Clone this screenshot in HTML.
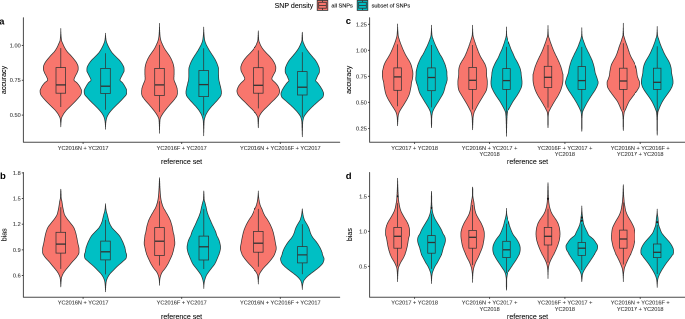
<!DOCTYPE html>
<html><head><meta charset="utf-8"><style>
html,body{margin:0;padding:0;background:#fff;}
#outer{width:685px;height:319px;overflow:hidden;position:relative;background:#fff;}
#wrap{width:1370px;height:638px;transform:scale(0.5);transform-origin:0 0;will-change:transform;}
svg{display:block;font-family:"Liberation Sans",sans-serif;}
</style></head><body>
<div id="outer"><div id="wrap"><svg width="1370" height="638" viewBox="0 0 685 319" font-family="Liberation Sans, sans-serif">
<path d="M23.40,17.80 V142.30 H339.70" fill="none" stroke="#4a4a4a" stroke-width="1.0" stroke-linecap="round" stroke-linejoin="round"/>
<line x1="21.80" y1="45.40" x2="23.40" y2="45.40" stroke="#333" stroke-width="0.9"/>
<text x="20.70" y="47.35" font-size="5.60" text-anchor="end" fill="#3a3a3a" stroke="#3a3a3a" stroke-width="0.10" font-weight="normal" >1.00</text>
<line x1="21.80" y1="80.25" x2="23.40" y2="80.25" stroke="#333" stroke-width="0.9"/>
<text x="20.70" y="82.20" font-size="5.60" text-anchor="end" fill="#3a3a3a" stroke="#3a3a3a" stroke-width="0.10" font-weight="normal" >0.75</text>
<line x1="21.80" y1="115.10" x2="23.40" y2="115.10" stroke="#333" stroke-width="0.9"/>
<text x="20.70" y="117.05" font-size="5.60" text-anchor="end" fill="#3a3a3a" stroke="#3a3a3a" stroke-width="0.10" font-weight="normal" >0.50</text>
<line x1="83.10" y1="142.30" x2="83.10" y2="143.90" stroke="#333" stroke-width="0.9"/>
<text x="83.10" y="149.80" font-size="5.60" text-anchor="middle" fill="#3a3a3a" stroke="#3a3a3a" stroke-width="0.10" font-weight="normal" >YC2016N + YC2017</text>
<line x1="181.70" y1="142.30" x2="181.70" y2="143.90" stroke="#333" stroke-width="0.9"/>
<text x="181.70" y="149.80" font-size="5.60" text-anchor="middle" fill="#3a3a3a" stroke="#3a3a3a" stroke-width="0.10" font-weight="normal" >YC2016F + YC2017</text>
<line x1="280.30" y1="142.30" x2="280.30" y2="143.90" stroke="#333" stroke-width="0.9"/>
<text x="280.30" y="149.80" font-size="5.60" text-anchor="middle" fill="#3a3a3a" stroke="#3a3a3a" stroke-width="0.10" font-weight="normal" >YC2016N + YC2016F + YC2017</text>
<text x="181.55" y="164.20" font-size="7.05" text-anchor="middle" fill="#000" stroke="#000" stroke-width="0.07" font-weight="normal" >reference set</text>
<text x="6.10" y="80.00" font-size="7.05" text-anchor="middle" fill="#000" stroke="#000" stroke-width="0.07" font-weight="normal" transform="rotate(-90 6.10 80.00)">accuracy</text>
<text x="-0.90" y="24.30" font-size="9.50" text-anchor="start" fill="#000" stroke="#000" stroke-width="0.00" font-weight="bold" >a</text>
<path d="M60.8,28.5 L60.8,28.8 L60.8,29.2 L60.8,29.5 L60.8,29.8 L60.8,30.2 L60.8,30.5 L60.8,30.8 L60.8,31.2 L60.8,31.5 L60.9,31.8 L60.9,32.2 L60.9,32.5 L60.9,32.8 L60.9,33.2 L60.9,33.5 L60.9,33.8 L61.0,34.2 L61.0,34.5 L61.0,34.8 L61.0,35.2 L61.0,35.5 L61.1,35.8 L61.1,36.2 L61.1,36.5 L61.1,36.8 L61.2,37.2 L61.2,37.5 L61.2,37.8 L61.3,38.2 L61.3,38.5 L61.3,38.8 L61.4,39.2 L61.4,39.5 L61.4,39.8 L61.5,40.2 L61.5,40.5 L61.6,40.8 L61.7,41.1 L61.8,41.5 L62.0,41.8 L62.1,42.1 L62.3,42.5 L62.4,42.8 L62.6,43.1 L62.7,43.5 L62.9,43.8 L63.0,44.1 L63.1,44.5 L63.3,44.8 L63.4,45.1 L63.6,45.5 L63.7,45.8 L63.9,46.1 L64.0,46.5 L64.2,46.8 L64.4,47.1 L64.5,47.5 L64.7,47.8 L64.9,48.1 L65.1,48.5 L65.3,48.8 L65.5,49.1 L65.7,49.5 L65.9,49.8 L66.1,50.1 L66.4,50.5 L66.6,50.8 L66.8,51.1 L67.1,51.5 L67.3,51.8 L67.6,52.1 L67.9,52.5 L68.2,52.8 L68.6,53.1 L68.9,53.5 L69.2,53.8 L69.5,54.1 L69.9,54.5 L70.2,54.8 L70.5,55.1 L70.8,55.5 L71.1,55.8 L71.4,56.1 L71.7,56.5 L72.0,56.8 L72.2,57.1 L72.5,57.5 L72.8,57.8 L73.1,58.1 L73.4,58.5 L73.6,58.8 L73.9,59.1 L74.2,59.5 L74.4,59.8 L74.7,60.1 L75.0,60.5 L75.2,60.8 L75.5,61.1 L75.7,61.5 L76.0,61.8 L76.2,62.1 L76.4,62.5 L76.6,62.8 L76.7,63.1 L76.9,63.5 L77.1,63.8 L77.3,64.1 L77.4,64.5 L77.6,64.8 L77.7,65.1 L77.9,65.4 L77.9,65.8 L78.0,66.1 L78.1,66.4 L78.1,66.8 L78.1,67.1 L78.2,67.4 L78.2,67.8 L78.2,68.1 L78.2,68.4 L78.2,68.8 L78.2,69.1 L78.2,69.4 L78.1,69.8 L78.1,70.1 L78.0,70.4 L77.8,70.8 L77.7,71.1 L77.6,71.4 L77.5,71.8 L77.3,72.1 L77.2,72.4 L77.1,72.8 L76.9,73.1 L76.8,73.4 L76.6,73.8 L76.4,74.1 L76.2,74.4 L76.0,74.8 L75.8,75.1 L75.7,75.4 L75.5,75.8 L75.3,76.1 L75.2,76.4 L75.0,76.8 L74.9,77.1 L74.7,77.4 L74.6,77.8 L74.4,78.1 L74.3,78.4 L74.2,78.8 L74.1,79.1 L74.0,79.4 L74.0,79.8 L74.0,80.1 L74.1,80.4 L74.4,80.8 L74.7,81.1 L75.2,81.4 L75.7,81.8 L76.1,82.1 L76.6,82.4 L76.9,82.8 L77.2,83.1 L77.5,83.4 L77.8,83.8 L78.0,84.1 L78.3,84.4 L78.6,84.8 L78.8,85.1 L79.1,85.4 L79.3,85.8 L79.5,86.1 L79.7,86.4 L79.9,86.8 L80.0,87.1 L80.2,87.4 L80.4,87.8 L80.6,88.1 L80.7,88.4 L80.9,88.8 L81.1,89.1 L81.2,89.4 L81.3,89.8 L81.4,90.1 L81.5,90.4 L81.5,90.7 L81.5,91.1 L81.5,91.4 L81.5,91.7 L81.5,92.1 L81.4,92.4 L81.4,92.7 L81.3,93.1 L81.3,93.4 L81.2,93.7 L81.1,94.1 L81.0,94.4 L80.8,94.7 L80.6,95.1 L80.4,95.4 L80.2,95.7 L79.9,96.1 L79.7,96.4 L79.4,96.7 L79.1,97.1 L78.8,97.4 L78.6,97.7 L78.3,98.1 L78.0,98.4 L77.7,98.7 L77.4,99.1 L77.1,99.4 L76.8,99.7 L76.5,100.1 L76.2,100.4 L75.9,100.7 L75.6,101.1 L75.2,101.4 L74.9,101.7 L74.6,102.1 L74.3,102.4 L73.9,102.7 L73.6,103.1 L73.3,103.4 L72.9,103.7 L72.6,104.1 L72.3,104.4 L71.9,104.7 L71.6,105.1 L71.3,105.4 L70.9,105.7 L70.6,106.1 L70.3,106.4 L69.9,106.7 L69.6,107.1 L69.2,107.4 L68.9,107.7 L68.5,108.1 L68.2,108.4 L67.8,108.7 L67.5,109.1 L67.2,109.4 L66.8,109.7 L66.5,110.1 L66.2,110.4 L66.0,110.7 L65.7,111.1 L65.4,111.4 L65.2,111.7 L64.9,112.1 L64.7,112.4 L64.4,112.7 L64.2,113.1 L63.9,113.4 L63.7,113.7 L63.5,114.1 L63.3,114.4 L63.1,114.7 L63.0,115.0 L62.8,115.4 L62.6,115.7 L62.4,116.0 L62.2,116.4 L62.1,116.7 L61.9,117.0 L61.8,117.4 L61.6,117.7 L61.5,118.0 L61.4,118.4 L61.4,118.7 L61.3,119.0 L61.3,119.4 L61.2,119.7 L61.2,120.0 L61.2,120.4 L61.1,120.7 L61.1,121.0 L61.1,121.4 L61.1,121.7 L61.0,122.0 L61.0,122.4 L61.0,122.7 L61.0,123.0 L60.9,123.4 L60.9,123.7 L60.9,124.0 L60.9,124.4 L60.9,124.7 L60.9,125.0 L60.8,125.4 L60.8,125.7 L60.8,126.0 L60.8,126.4 L60.8,126.7 L60.8,126.7 L60.8,126.4 L60.8,126.0 L60.8,125.7 L60.8,125.4 L60.7,125.0 L60.7,124.7 L60.7,124.4 L60.7,124.0 L60.7,123.7 L60.7,123.4 L60.6,123.0 L60.6,122.7 L60.6,122.4 L60.6,122.0 L60.5,121.7 L60.5,121.4 L60.5,121.0 L60.5,120.7 L60.4,120.4 L60.4,120.0 L60.4,119.7 L60.3,119.4 L60.3,119.0 L60.2,118.7 L60.2,118.4 L60.1,118.0 L60.0,117.7 L59.8,117.4 L59.7,117.0 L59.5,116.7 L59.4,116.4 L59.2,116.0 L59.0,115.7 L58.8,115.4 L58.6,115.0 L58.5,114.7 L58.3,114.4 L58.1,114.1 L57.9,113.7 L57.7,113.4 L57.4,113.1 L57.2,112.7 L56.9,112.4 L56.7,112.1 L56.4,111.7 L56.2,111.4 L55.9,111.1 L55.6,110.7 L55.4,110.4 L55.1,110.1 L54.8,109.7 L54.4,109.4 L54.1,109.1 L53.8,108.7 L53.4,108.4 L53.1,108.1 L52.7,107.7 L52.4,107.4 L52.0,107.1 L51.7,106.7 L51.3,106.4 L51.0,106.1 L50.7,105.7 L50.3,105.4 L50.0,105.1 L49.7,104.7 L49.3,104.4 L49.0,104.1 L48.7,103.7 L48.3,103.4 L48.0,103.1 L47.7,102.7 L47.3,102.4 L47.0,102.1 L46.7,101.7 L46.4,101.4 L46.0,101.1 L45.7,100.7 L45.4,100.4 L45.1,100.1 L44.8,99.7 L44.5,99.4 L44.2,99.1 L43.9,98.7 L43.6,98.4 L43.3,98.1 L43.0,97.7 L42.8,97.4 L42.5,97.1 L42.2,96.7 L41.9,96.4 L41.7,96.1 L41.4,95.7 L41.2,95.4 L41.0,95.1 L40.8,94.7 L40.6,94.4 L40.5,94.1 L40.4,93.7 L40.3,93.4 L40.3,93.1 L40.2,92.7 L40.2,92.4 L40.1,92.1 L40.1,91.7 L40.1,91.4 L40.1,91.1 L40.1,90.7 L40.1,90.4 L40.2,90.1 L40.3,89.8 L40.4,89.4 L40.5,89.1 L40.7,88.8 L40.9,88.4 L41.0,88.1 L41.2,87.8 L41.4,87.4 L41.6,87.1 L41.7,86.8 L41.9,86.4 L42.1,86.1 L42.3,85.8 L42.5,85.4 L42.8,85.1 L43.0,84.8 L43.3,84.4 L43.6,84.1 L43.8,83.8 L44.1,83.4 L44.4,83.1 L44.7,82.8 L45.0,82.4 L45.5,82.1 L45.9,81.8 L46.4,81.4 L46.9,81.1 L47.2,80.8 L47.5,80.4 L47.6,80.1 L47.6,79.8 L47.6,79.4 L47.5,79.1 L47.4,78.8 L47.3,78.4 L47.2,78.1 L47.0,77.8 L46.9,77.4 L46.7,77.1 L46.6,76.8 L46.4,76.4 L46.3,76.1 L46.1,75.8 L45.9,75.4 L45.8,75.1 L45.6,74.8 L45.4,74.4 L45.2,74.1 L45.0,73.8 L44.8,73.4 L44.7,73.1 L44.5,72.8 L44.4,72.4 L44.3,72.1 L44.1,71.8 L44.0,71.4 L43.9,71.1 L43.8,70.8 L43.6,70.4 L43.5,70.1 L43.5,69.8 L43.4,69.4 L43.4,69.1 L43.4,68.8 L43.4,68.4 L43.4,68.1 L43.4,67.8 L43.4,67.4 L43.5,67.1 L43.5,66.8 L43.5,66.4 L43.6,66.1 L43.7,65.8 L43.7,65.4 L43.9,65.1 L44.0,64.8 L44.2,64.5 L44.3,64.1 L44.5,63.8 L44.7,63.5 L44.9,63.1 L45.0,62.8 L45.2,62.5 L45.4,62.1 L45.6,61.8 L45.9,61.5 L46.1,61.1 L46.4,60.8 L46.6,60.5 L46.9,60.1 L47.2,59.8 L47.4,59.5 L47.7,59.1 L48.0,58.8 L48.2,58.5 L48.5,58.1 L48.8,57.8 L49.1,57.5 L49.4,57.1 L49.6,56.8 L49.9,56.5 L50.2,56.1 L50.5,55.8 L50.8,55.5 L51.1,55.1 L51.4,54.8 L51.7,54.5 L52.1,54.1 L52.4,53.8 L52.7,53.5 L53.0,53.1 L53.4,52.8 L53.7,52.5 L54.0,52.1 L54.3,51.8 L54.5,51.5 L54.8,51.1 L55.0,50.8 L55.2,50.5 L55.5,50.1 L55.7,49.8 L55.9,49.5 L56.1,49.1 L56.3,48.8 L56.5,48.5 L56.7,48.1 L56.9,47.8 L57.1,47.5 L57.2,47.1 L57.4,46.8 L57.6,46.5 L57.7,46.1 L57.9,45.8 L58.0,45.5 L58.2,45.1 L58.3,44.8 L58.5,44.5 L58.6,44.1 L58.7,43.8 L58.9,43.5 L59.0,43.1 L59.2,42.8 L59.3,42.5 L59.5,42.1 L59.6,41.8 L59.8,41.5 L59.9,41.1 L60.0,40.8 L60.1,40.5 L60.1,40.2 L60.2,39.8 L60.2,39.5 L60.2,39.2 L60.3,38.8 L60.3,38.5 L60.3,38.2 L60.4,37.8 L60.4,37.5 L60.4,37.2 L60.5,36.8 L60.5,36.5 L60.5,36.2 L60.5,35.8 L60.6,35.5 L60.6,35.2 L60.6,34.8 L60.6,34.5 L60.6,34.2 L60.7,33.8 L60.7,33.5 L60.7,33.2 L60.7,32.8 L60.7,32.5 L60.7,32.2 L60.7,31.8 L60.8,31.5 L60.8,31.2 L60.8,30.8 L60.8,30.5 L60.8,30.2 L60.8,29.8 L60.8,29.5 L60.8,29.2 L60.8,28.8 L60.8,28.5 Z" fill="#F8766D" stroke="#333333" stroke-width="0.75" stroke-linejoin="round"/>
<line x1="60.80" y1="48.10" x2="60.80" y2="67.60" stroke="#333333" stroke-width="0.75"/>
<line x1="60.80" y1="93.20" x2="60.80" y2="107.00" stroke="#333333" stroke-width="0.75"/>
<rect x="56.00" y="67.60" width="9.60" height="25.60" fill="#F8766D" stroke="#333333" stroke-width="0.75"/>
<line x1="56.00" y1="84.90" x2="65.60" y2="84.90" stroke="#333333" stroke-width="1.3"/>
<path d="M105.5,33.2 L105.5,33.5 L105.5,33.9 L105.5,34.2 L105.5,34.5 L105.5,34.9 L105.6,35.2 L105.6,35.5 L105.6,35.9 L105.6,36.2 L105.7,36.5 L105.7,36.9 L105.7,37.2 L105.7,37.5 L105.8,37.9 L105.8,38.2 L105.9,38.5 L105.9,38.9 L105.9,39.2 L106.0,39.5 L106.0,39.9 L106.1,40.2 L106.1,40.5 L106.2,40.8 L106.3,41.2 L106.4,41.5 L106.5,41.8 L106.6,42.2 L106.7,42.5 L106.8,42.8 L107.0,43.2 L107.1,43.5 L107.2,43.8 L107.3,44.2 L107.5,44.5 L107.6,44.8 L107.8,45.2 L107.9,45.5 L108.1,45.8 L108.2,46.2 L108.4,46.5 L108.6,46.8 L108.7,47.2 L108.9,47.5 L109.1,47.8 L109.3,48.2 L109.5,48.5 L109.6,48.8 L109.8,49.2 L110.0,49.5 L110.2,49.8 L110.4,50.2 L110.6,50.5 L110.8,50.8 L111.0,51.2 L111.2,51.5 L111.5,51.8 L111.7,52.2 L111.9,52.5 L112.2,52.8 L112.5,53.2 L112.8,53.5 L113.0,53.8 L113.4,54.1 L113.7,54.5 L114.0,54.8 L114.3,55.1 L114.6,55.5 L115.0,55.8 L115.3,56.1 L115.6,56.5 L116.0,56.8 L116.3,57.1 L116.6,57.5 L117.0,57.8 L117.3,58.1 L117.7,58.5 L118.0,58.8 L118.4,59.1 L118.7,59.5 L119.1,59.8 L119.4,60.1 L119.7,60.5 L119.9,60.8 L120.2,61.1 L120.5,61.5 L120.7,61.8 L121.0,62.1 L121.2,62.5 L121.4,62.8 L121.6,63.1 L121.9,63.5 L122.1,63.8 L122.3,64.1 L122.5,64.5 L122.6,64.8 L122.8,65.1 L123.0,65.5 L123.2,65.8 L123.4,66.1 L123.5,66.5 L123.7,66.8 L123.8,67.1 L123.9,67.5 L124.0,67.8 L124.0,68.1 L124.0,68.4 L124.1,68.8 L124.1,69.1 L124.1,69.4 L124.1,69.8 L124.1,70.1 L124.1,70.4 L124.1,70.8 L124.1,71.1 L124.0,71.4 L123.9,71.8 L123.7,72.1 L123.6,72.4 L123.4,72.8 L123.2,73.1 L123.0,73.4 L122.8,73.8 L122.7,74.1 L122.5,74.4 L122.3,74.8 L122.2,75.1 L122.0,75.4 L121.8,75.8 L121.7,76.1 L121.5,76.4 L121.3,76.8 L121.1,77.1 L121.0,77.4 L120.8,77.8 L120.6,78.1 L120.5,78.4 L120.4,78.8 L120.2,79.1 L120.1,79.4 L120.0,79.8 L120.0,80.1 L120.1,80.4 L120.3,80.8 L120.6,81.1 L121.0,81.4 L121.4,81.7 L121.8,82.1 L122.2,82.4 L122.5,82.7 L122.8,83.1 L123.0,83.4 L123.2,83.7 L123.5,84.1 L123.7,84.4 L123.9,84.7 L124.1,85.1 L124.3,85.4 L124.5,85.7 L124.7,86.1 L124.9,86.4 L125.1,86.7 L125.2,87.1 L125.4,87.4 L125.6,87.7 L125.8,88.1 L126.0,88.4 L126.1,88.7 L126.3,89.1 L126.4,89.4 L126.6,89.7 L126.7,90.1 L126.8,90.4 L126.8,90.7 L126.8,91.1 L126.8,91.4 L126.8,91.7 L126.8,92.1 L126.8,92.4 L126.7,92.7 L126.7,93.1 L126.6,93.4 L126.6,93.7 L126.5,94.1 L126.4,94.4 L126.2,94.7 L126.0,95.0 L125.8,95.4 L125.5,95.7 L125.3,96.0 L124.9,96.4 L124.6,96.7 L124.3,97.0 L124.0,97.4 L123.7,97.7 L123.4,98.0 L123.1,98.4 L122.8,98.7 L122.5,99.0 L122.2,99.4 L121.9,99.7 L121.6,100.0 L121.3,100.4 L120.9,100.7 L120.6,101.0 L120.3,101.4 L119.9,101.7 L119.6,102.0 L119.3,102.4 L119.0,102.7 L118.6,103.0 L118.3,103.4 L117.9,103.7 L117.6,104.0 L117.2,104.4 L116.9,104.7 L116.5,105.0 L116.2,105.4 L115.9,105.7 L115.5,106.0 L115.2,106.4 L114.9,106.7 L114.5,107.0 L114.2,107.4 L113.9,107.7 L113.5,108.0 L113.2,108.4 L112.9,108.7 L112.6,109.0 L112.3,109.3 L112.0,109.7 L111.7,110.0 L111.4,110.3 L111.1,110.7 L110.8,111.0 L110.5,111.3 L110.3,111.7 L110.0,112.0 L109.7,112.3 L109.5,112.7 L109.2,113.0 L109.0,113.3 L108.8,113.7 L108.6,114.0 L108.4,114.3 L108.2,114.7 L108.0,115.0 L107.8,115.3 L107.6,115.7 L107.5,116.0 L107.3,116.3 L107.2,116.7 L107.0,117.0 L106.9,117.3 L106.8,117.7 L106.7,118.0 L106.6,118.3 L106.5,118.7 L106.4,119.0 L106.3,119.3 L106.3,119.7 L106.2,120.0 L106.1,120.3 L106.1,120.7 L106.0,121.0 L106.0,121.3 L105.9,121.7 L105.9,122.0 L105.9,122.3 L105.8,122.6 L105.8,123.0 L105.7,123.3 L105.7,123.6 L105.7,124.0 L105.7,124.3 L105.7,124.6 L105.6,125.0 L105.6,125.3 L105.6,125.6 L105.6,126.0 L105.6,126.3 L105.6,126.6 L105.5,127.0 L105.5,127.3 L105.5,127.6 L105.5,128.0 L105.5,128.3 L105.5,128.6 L105.5,129.0 L105.5,129.3 L105.5,129.3 L105.5,129.0 L105.5,128.6 L105.5,128.3 L105.5,128.0 L105.5,127.6 L105.5,127.3 L105.5,127.0 L105.4,126.6 L105.4,126.3 L105.4,126.0 L105.4,125.6 L105.4,125.3 L105.4,125.0 L105.3,124.6 L105.3,124.3 L105.3,124.0 L105.3,123.6 L105.3,123.3 L105.2,123.0 L105.2,122.6 L105.1,122.3 L105.1,122.0 L105.1,121.7 L105.0,121.3 L105.0,121.0 L104.9,120.7 L104.9,120.3 L104.8,120.0 L104.7,119.7 L104.7,119.3 L104.6,119.0 L104.5,118.7 L104.4,118.3 L104.3,118.0 L104.2,117.7 L104.1,117.3 L104.0,117.0 L103.8,116.7 L103.7,116.3 L103.5,116.0 L103.4,115.7 L103.2,115.3 L103.0,115.0 L102.8,114.7 L102.6,114.3 L102.4,114.0 L102.2,113.7 L102.0,113.3 L101.8,113.0 L101.5,112.7 L101.3,112.3 L101.0,112.0 L100.7,111.7 L100.5,111.3 L100.2,111.0 L99.9,110.7 L99.6,110.3 L99.3,110.0 L99.0,109.7 L98.7,109.3 L98.4,109.0 L98.1,108.7 L97.8,108.4 L97.5,108.0 L97.1,107.7 L96.8,107.4 L96.5,107.0 L96.1,106.7 L95.8,106.4 L95.5,106.0 L95.1,105.7 L94.8,105.4 L94.5,105.0 L94.1,104.7 L93.8,104.4 L93.4,104.0 L93.1,103.7 L92.7,103.4 L92.4,103.0 L92.0,102.7 L91.7,102.4 L91.4,102.0 L91.1,101.7 L90.7,101.4 L90.4,101.0 L90.1,100.7 L89.7,100.4 L89.4,100.0 L89.1,99.7 L88.8,99.4 L88.5,99.0 L88.2,98.7 L87.9,98.4 L87.6,98.0 L87.3,97.7 L87.0,97.4 L86.7,97.0 L86.4,96.7 L86.1,96.4 L85.7,96.0 L85.5,95.7 L85.2,95.4 L85.0,95.0 L84.8,94.7 L84.6,94.4 L84.5,94.1 L84.4,93.7 L84.4,93.4 L84.3,93.1 L84.3,92.7 L84.2,92.4 L84.2,92.1 L84.2,91.7 L84.2,91.4 L84.2,91.1 L84.2,90.7 L84.2,90.4 L84.3,90.1 L84.4,89.7 L84.6,89.4 L84.7,89.1 L84.9,88.7 L85.0,88.4 L85.2,88.1 L85.4,87.7 L85.6,87.4 L85.8,87.1 L85.9,86.7 L86.1,86.4 L86.3,86.1 L86.5,85.7 L86.7,85.4 L86.9,85.1 L87.1,84.7 L87.3,84.4 L87.5,84.1 L87.8,83.7 L88.0,83.4 L88.2,83.1 L88.5,82.7 L88.8,82.4 L89.2,82.1 L89.6,81.7 L90.0,81.4 L90.4,81.1 L90.7,80.8 L90.9,80.4 L91.0,80.1 L91.0,79.8 L90.9,79.4 L90.8,79.1 L90.6,78.8 L90.5,78.4 L90.4,78.1 L90.2,77.8 L90.0,77.4 L89.9,77.1 L89.7,76.8 L89.5,76.4 L89.3,76.1 L89.2,75.8 L89.0,75.4 L88.8,75.1 L88.7,74.8 L88.5,74.4 L88.3,74.1 L88.2,73.8 L88.0,73.4 L87.8,73.1 L87.6,72.8 L87.4,72.4 L87.3,72.1 L87.1,71.8 L87.0,71.4 L86.9,71.1 L86.9,70.8 L86.9,70.4 L86.9,70.1 L86.9,69.8 L86.9,69.4 L86.9,69.1 L86.9,68.8 L87.0,68.4 L87.0,68.1 L87.0,67.8 L87.1,67.5 L87.2,67.1 L87.3,66.8 L87.5,66.5 L87.6,66.1 L87.8,65.8 L88.0,65.5 L88.2,65.1 L88.4,64.8 L88.5,64.5 L88.7,64.1 L88.9,63.8 L89.1,63.5 L89.4,63.1 L89.6,62.8 L89.8,62.5 L90.0,62.1 L90.3,61.8 L90.5,61.5 L90.8,61.1 L91.1,60.8 L91.3,60.5 L91.6,60.1 L91.9,59.8 L92.3,59.5 L92.6,59.1 L93.0,58.8 L93.3,58.5 L93.7,58.1 L94.0,57.8 L94.4,57.5 L94.7,57.1 L95.0,56.8 L95.4,56.5 L95.7,56.1 L96.0,55.8 L96.4,55.5 L96.7,55.1 L97.0,54.8 L97.3,54.5 L97.6,54.1 L98.0,53.8 L98.2,53.5 L98.5,53.2 L98.8,52.8 L99.1,52.5 L99.3,52.2 L99.5,51.8 L99.8,51.5 L100.0,51.2 L100.2,50.8 L100.4,50.5 L100.6,50.2 L100.8,49.8 L101.0,49.5 L101.2,49.2 L101.4,48.8 L101.5,48.5 L101.7,48.2 L101.9,47.8 L102.1,47.5 L102.3,47.2 L102.4,46.8 L102.6,46.5 L102.8,46.2 L102.9,45.8 L103.1,45.5 L103.2,45.2 L103.4,44.8 L103.5,44.5 L103.7,44.2 L103.8,43.8 L103.9,43.5 L104.0,43.2 L104.2,42.8 L104.3,42.5 L104.4,42.2 L104.5,41.8 L104.6,41.5 L104.7,41.2 L104.8,40.8 L104.9,40.5 L104.9,40.2 L105.0,39.9 L105.0,39.5 L105.1,39.2 L105.1,38.9 L105.1,38.5 L105.2,38.2 L105.2,37.9 L105.3,37.5 L105.3,37.2 L105.3,36.9 L105.3,36.5 L105.4,36.2 L105.4,35.9 L105.4,35.5 L105.4,35.2 L105.5,34.9 L105.5,34.5 L105.5,34.2 L105.5,33.9 L105.5,33.5 L105.5,33.2 Z" fill="#00BFC4" stroke="#333333" stroke-width="0.75" stroke-linejoin="round"/>
<line x1="105.50" y1="53.20" x2="105.50" y2="68.40" stroke="#333333" stroke-width="0.75"/>
<line x1="105.50" y1="93.50" x2="105.50" y2="109.80" stroke="#333333" stroke-width="0.75"/>
<rect x="100.70" y="68.40" width="9.60" height="25.10" fill="#00BFC4" stroke="#333333" stroke-width="0.75"/>
<line x1="100.70" y1="86.20" x2="110.30" y2="86.20" stroke="#333333" stroke-width="1.3"/>
<path d="M159.5,23.4 L159.5,23.7 L159.5,24.1 L159.5,24.4 L159.5,24.7 L159.5,25.1 L159.5,25.4 L159.5,25.7 L159.5,26.1 L159.5,26.4 L159.5,26.7 L159.6,27.1 L159.6,27.4 L159.6,27.7 L159.6,28.1 L159.6,28.4 L159.6,28.7 L159.6,29.1 L159.6,29.4 L159.6,29.7 L159.7,30.1 L159.7,30.4 L159.7,30.7 L159.7,31.1 L159.7,31.4 L159.7,31.7 L159.8,32.1 L159.8,32.4 L159.8,32.7 L159.8,33.1 L159.8,33.4 L159.9,33.7 L159.9,34.1 L159.9,34.4 L159.9,34.7 L160.0,35.1 L160.0,35.4 L160.0,35.7 L160.0,36.1 L160.1,36.4 L160.1,36.7 L160.2,37.1 L160.2,37.4 L160.3,37.7 L160.3,38.1 L160.4,38.4 L160.5,38.7 L160.5,39.1 L160.6,39.4 L160.7,39.7 L160.8,40.1 L160.8,40.4 L160.9,40.7 L161.1,41.1 L161.2,41.4 L161.3,41.7 L161.4,42.0 L161.6,42.4 L161.7,42.7 L161.8,43.0 L162.0,43.4 L162.1,43.7 L162.3,44.0 L162.4,44.4 L162.6,44.7 L162.7,45.0 L162.9,45.4 L163.0,45.7 L163.2,46.0 L163.3,46.4 L163.5,46.7 L163.7,47.0 L163.8,47.4 L164.0,47.7 L164.2,48.0 L164.4,48.4 L164.6,48.7 L164.8,49.0 L165.0,49.4 L165.2,49.7 L165.4,50.0 L165.7,50.4 L165.9,50.7 L166.1,51.0 L166.4,51.4 L166.6,51.7 L166.8,52.0 L167.1,52.4 L167.3,52.7 L167.5,53.0 L167.8,53.4 L168.0,53.7 L168.2,54.0 L168.5,54.4 L168.7,54.7 L168.9,55.0 L169.2,55.4 L169.4,55.7 L169.6,56.0 L169.8,56.4 L170.0,56.7 L170.2,57.0 L170.4,57.4 L170.6,57.7 L170.7,58.0 L170.9,58.4 L171.1,58.7 L171.3,59.0 L171.4,59.4 L171.6,59.7 L171.7,60.0 L171.9,60.4 L172.0,60.7 L172.1,61.0 L172.3,61.4 L172.4,61.7 L172.5,62.0 L172.7,62.4 L172.8,62.7 L172.9,63.0 L173.0,63.4 L173.1,63.7 L173.2,64.0 L173.3,64.4 L173.4,64.7 L173.5,65.0 L173.5,65.4 L173.6,65.7 L173.7,66.0 L173.7,66.4 L173.8,66.7 L173.9,67.0 L173.9,67.4 L174.0,67.7 L174.0,68.0 L174.0,68.4 L174.0,68.7 L174.0,69.0 L174.1,69.4 L174.1,69.7 L174.1,70.0 L174.1,70.4 L174.1,70.7 L174.1,71.0 L174.1,71.4 L174.1,71.7 L174.1,72.0 L174.1,72.4 L174.1,72.7 L174.1,73.0 L174.1,73.4 L174.1,73.7 L174.1,74.0 L174.1,74.4 L174.1,74.7 L174.0,75.0 L174.0,75.4 L174.0,75.7 L174.0,76.0 L174.0,76.4 L174.0,76.7 L173.9,77.0 L173.9,77.4 L173.9,77.7 L173.9,78.0 L173.9,78.3 L173.9,78.7 L173.9,79.0 L173.9,79.3 L174.0,79.7 L174.1,80.0 L174.1,80.3 L174.2,80.7 L174.3,81.0 L174.5,81.3 L174.6,81.7 L174.7,82.0 L174.9,82.3 L175.0,82.7 L175.2,83.0 L175.3,83.3 L175.5,83.7 L175.6,84.0 L175.7,84.3 L175.8,84.7 L176.0,85.0 L176.1,85.3 L176.2,85.7 L176.4,86.0 L176.5,86.3 L176.6,86.7 L176.7,87.0 L176.8,87.3 L176.9,87.7 L177.0,88.0 L177.1,88.3 L177.1,88.7 L177.2,89.0 L177.2,89.3 L177.2,89.7 L177.3,90.0 L177.3,90.3 L177.4,90.7 L177.4,91.0 L177.4,91.3 L177.4,91.7 L177.4,92.0 L177.4,92.3 L177.4,92.7 L177.4,93.0 L177.4,93.3 L177.4,93.7 L177.3,94.0 L177.3,94.3 L177.2,94.7 L177.1,95.0 L177.0,95.3 L176.9,95.7 L176.8,96.0 L176.6,96.3 L176.5,96.7 L176.2,97.0 L176.0,97.3 L175.8,97.7 L175.5,98.0 L175.3,98.3 L175.0,98.7 L174.8,99.0 L174.5,99.3 L174.3,99.7 L174.0,100.0 L173.7,100.3 L173.4,100.7 L173.2,101.0 L172.9,101.3 L172.6,101.7 L172.3,102.0 L172.0,102.3 L171.7,102.7 L171.4,103.0 L171.1,103.3 L170.8,103.7 L170.5,104.0 L170.2,104.3 L169.9,104.7 L169.6,105.0 L169.4,105.3 L169.1,105.7 L168.8,106.0 L168.5,106.3 L168.2,106.7 L167.9,107.0 L167.7,107.3 L167.4,107.7 L167.1,108.0 L166.8,108.3 L166.6,108.7 L166.3,109.0 L166.0,109.3 L165.8,109.7 L165.5,110.0 L165.2,110.3 L165.0,110.7 L164.7,111.0 L164.5,111.3 L164.2,111.7 L164.0,112.0 L163.8,112.3 L163.5,112.7 L163.3,113.0 L163.0,113.3 L162.8,113.7 L162.6,114.0 L162.4,114.3 L162.2,114.7 L162.0,115.0 L161.8,115.3 L161.6,115.6 L161.4,116.0 L161.2,116.3 L161.1,116.6 L160.9,117.0 L160.8,117.3 L160.6,117.6 L160.5,118.0 L160.3,118.3 L160.2,118.6 L160.1,119.0 L160.1,119.3 L160.0,119.6 L160.0,120.0 L160.0,120.3 L159.9,120.6 L159.9,121.0 L159.9,121.3 L159.9,121.6 L159.8,122.0 L159.8,122.3 L159.8,122.6 L159.8,123.0 L159.8,123.3 L159.8,123.6 L159.7,124.0 L159.7,124.3 L159.7,124.6 L159.7,125.0 L159.7,125.3 L159.7,125.6 L159.7,126.0 L159.7,126.3 L159.6,126.6 L159.6,127.0 L159.6,127.3 L159.6,127.6 L159.6,128.0 L159.6,128.3 L159.6,128.6 L159.6,129.0 L159.6,129.3 L159.6,129.6 L159.5,130.0 L159.5,130.3 L159.5,130.6 L159.5,131.0 L159.5,131.3 L159.5,131.6 L159.5,132.0 L159.5,132.3 L159.5,132.6 L159.5,133.0 L159.5,133.3 L159.5,133.3 L159.5,133.0 L159.5,132.6 L159.5,132.3 L159.5,132.0 L159.5,131.6 L159.5,131.3 L159.5,131.0 L159.5,130.6 L159.5,130.3 L159.5,130.0 L159.4,129.6 L159.4,129.3 L159.4,129.0 L159.4,128.6 L159.4,128.3 L159.4,128.0 L159.4,127.6 L159.4,127.3 L159.4,127.0 L159.4,126.6 L159.3,126.3 L159.3,126.0 L159.3,125.6 L159.3,125.3 L159.3,125.0 L159.3,124.6 L159.3,124.3 L159.3,124.0 L159.2,123.6 L159.2,123.3 L159.2,123.0 L159.2,122.6 L159.2,122.3 L159.2,122.0 L159.1,121.6 L159.1,121.3 L159.1,121.0 L159.1,120.6 L159.0,120.3 L159.0,120.0 L159.0,119.6 L158.9,119.3 L158.9,119.0 L158.8,118.6 L158.7,118.3 L158.5,118.0 L158.4,117.6 L158.2,117.3 L158.1,117.0 L157.9,116.6 L157.8,116.3 L157.6,116.0 L157.4,115.6 L157.2,115.3 L157.0,115.0 L156.8,114.7 L156.6,114.3 L156.4,114.0 L156.2,113.7 L156.0,113.3 L155.7,113.0 L155.5,112.7 L155.2,112.3 L155.0,112.0 L154.8,111.7 L154.5,111.3 L154.3,111.0 L154.0,110.7 L153.8,110.3 L153.5,110.0 L153.2,109.7 L153.0,109.3 L152.7,109.0 L152.4,108.7 L152.2,108.3 L151.9,108.0 L151.6,107.7 L151.3,107.3 L151.1,107.0 L150.8,106.7 L150.5,106.3 L150.2,106.0 L149.9,105.7 L149.6,105.3 L149.4,105.0 L149.1,104.7 L148.8,104.3 L148.5,104.0 L148.2,103.7 L147.9,103.3 L147.6,103.0 L147.3,102.7 L147.0,102.3 L146.7,102.0 L146.4,101.7 L146.1,101.3 L145.8,101.0 L145.6,100.7 L145.3,100.3 L145.0,100.0 L144.7,99.7 L144.5,99.3 L144.2,99.0 L144.0,98.7 L143.7,98.3 L143.5,98.0 L143.2,97.7 L143.0,97.3 L142.8,97.0 L142.5,96.7 L142.4,96.3 L142.2,96.0 L142.1,95.7 L142.0,95.3 L141.9,95.0 L141.8,94.7 L141.7,94.3 L141.7,94.0 L141.6,93.7 L141.6,93.3 L141.6,93.0 L141.6,92.7 L141.6,92.3 L141.6,92.0 L141.6,91.7 L141.6,91.3 L141.6,91.0 L141.6,90.7 L141.7,90.3 L141.7,90.0 L141.8,89.7 L141.8,89.3 L141.8,89.0 L141.9,88.7 L141.9,88.3 L142.0,88.0 L142.1,87.7 L142.2,87.3 L142.3,87.0 L142.4,86.7 L142.5,86.3 L142.6,86.0 L142.8,85.7 L142.9,85.3 L143.0,85.0 L143.2,84.7 L143.3,84.3 L143.4,84.0 L143.5,83.7 L143.7,83.3 L143.8,83.0 L144.0,82.7 L144.1,82.3 L144.3,82.0 L144.4,81.7 L144.5,81.3 L144.7,81.0 L144.8,80.7 L144.9,80.3 L144.9,80.0 L145.0,79.7 L145.1,79.3 L145.1,79.0 L145.1,78.7 L145.1,78.3 L145.1,78.0 L145.1,77.7 L145.1,77.4 L145.1,77.0 L145.0,76.7 L145.0,76.4 L145.0,76.0 L145.0,75.7 L145.0,75.4 L145.0,75.0 L144.9,74.7 L144.9,74.4 L144.9,74.0 L144.9,73.7 L144.9,73.4 L144.9,73.0 L144.9,72.7 L144.9,72.4 L144.9,72.0 L144.9,71.7 L144.9,71.4 L144.9,71.0 L144.9,70.7 L144.9,70.4 L144.9,70.0 L144.9,69.7 L144.9,69.4 L145.0,69.0 L145.0,68.7 L145.0,68.4 L145.0,68.0 L145.0,67.7 L145.1,67.4 L145.1,67.0 L145.2,66.7 L145.3,66.4 L145.3,66.0 L145.4,65.7 L145.5,65.4 L145.5,65.0 L145.6,64.7 L145.7,64.4 L145.8,64.0 L145.9,63.7 L146.0,63.4 L146.1,63.0 L146.2,62.7 L146.3,62.4 L146.5,62.0 L146.6,61.7 L146.7,61.4 L146.9,61.0 L147.0,60.7 L147.1,60.4 L147.3,60.0 L147.4,59.7 L147.6,59.4 L147.7,59.0 L147.9,58.7 L148.1,58.4 L148.3,58.0 L148.4,57.7 L148.6,57.4 L148.8,57.0 L149.0,56.7 L149.2,56.4 L149.4,56.0 L149.6,55.7 L149.8,55.4 L150.1,55.0 L150.3,54.7 L150.5,54.4 L150.8,54.0 L151.0,53.7 L151.2,53.4 L151.5,53.0 L151.7,52.7 L151.9,52.4 L152.2,52.0 L152.4,51.7 L152.6,51.4 L152.9,51.0 L153.1,50.7 L153.3,50.4 L153.6,50.0 L153.8,49.7 L154.0,49.4 L154.2,49.0 L154.4,48.7 L154.6,48.4 L154.8,48.0 L155.0,47.7 L155.2,47.4 L155.3,47.0 L155.5,46.7 L155.7,46.4 L155.8,46.0 L156.0,45.7 L156.1,45.4 L156.3,45.0 L156.4,44.7 L156.6,44.4 L156.7,44.0 L156.9,43.7 L157.0,43.4 L157.2,43.0 L157.3,42.7 L157.4,42.4 L157.6,42.0 L157.7,41.7 L157.8,41.4 L157.9,41.1 L158.1,40.7 L158.2,40.4 L158.2,40.1 L158.3,39.7 L158.4,39.4 L158.5,39.1 L158.5,38.7 L158.6,38.4 L158.7,38.1 L158.7,37.7 L158.8,37.4 L158.8,37.1 L158.9,36.7 L158.9,36.4 L159.0,36.1 L159.0,35.7 L159.0,35.4 L159.0,35.1 L159.1,34.7 L159.1,34.4 L159.1,34.1 L159.1,33.7 L159.2,33.4 L159.2,33.1 L159.2,32.7 L159.2,32.4 L159.2,32.1 L159.3,31.7 L159.3,31.4 L159.3,31.1 L159.3,30.7 L159.3,30.4 L159.3,30.1 L159.4,29.7 L159.4,29.4 L159.4,29.1 L159.4,28.7 L159.4,28.4 L159.4,28.1 L159.4,27.7 L159.4,27.4 L159.4,27.1 L159.5,26.7 L159.5,26.4 L159.5,26.1 L159.5,25.7 L159.5,25.4 L159.5,25.1 L159.5,24.7 L159.5,24.4 L159.5,24.1 L159.5,23.7 L159.5,23.4 Z" fill="#F8766D" stroke="#333333" stroke-width="0.75" stroke-linejoin="round"/>
<line x1="159.50" y1="44.90" x2="159.50" y2="68.40" stroke="#333333" stroke-width="0.75"/>
<line x1="159.50" y1="95.50" x2="159.50" y2="111.90" stroke="#333333" stroke-width="0.75"/>
<rect x="154.70" y="68.40" width="9.60" height="27.10" fill="#F8766D" stroke="#333333" stroke-width="0.75"/>
<line x1="154.70" y1="84.90" x2="164.30" y2="84.90" stroke="#333333" stroke-width="1.3"/>
<path d="M203.7,27.1 L203.7,27.4 L203.7,27.8 L203.7,28.1 L203.7,28.4 L203.7,28.8 L203.7,29.1 L203.7,29.4 L203.8,29.8 L203.8,30.1 L203.8,30.4 L203.8,30.8 L203.8,31.1 L203.8,31.4 L203.8,31.8 L203.9,32.1 L203.9,32.4 L203.9,32.8 L203.9,33.1 L203.9,33.4 L204.0,33.7 L204.0,34.1 L204.0,34.4 L204.0,34.7 L204.1,35.1 L204.1,35.4 L204.1,35.7 L204.1,36.1 L204.2,36.4 L204.2,36.7 L204.2,37.1 L204.3,37.4 L204.3,37.7 L204.4,38.1 L204.4,38.4 L204.4,38.7 L204.5,39.1 L204.5,39.4 L204.6,39.7 L204.7,40.1 L204.7,40.4 L204.8,40.7 L204.9,41.1 L205.0,41.4 L205.1,41.7 L205.2,42.1 L205.3,42.4 L205.5,42.7 L205.6,43.1 L205.7,43.4 L205.9,43.7 L206.0,44.1 L206.1,44.4 L206.3,44.7 L206.4,45.1 L206.6,45.4 L206.7,45.7 L206.9,46.0 L207.1,46.4 L207.3,46.7 L207.5,47.0 L207.6,47.4 L207.8,47.7 L208.0,48.0 L208.2,48.4 L208.4,48.7 L208.6,49.0 L208.8,49.4 L208.9,49.7 L209.1,50.0 L209.3,50.4 L209.5,50.7 L209.7,51.0 L209.9,51.4 L210.2,51.7 L210.4,52.0 L210.6,52.4 L210.8,52.7 L211.0,53.0 L211.2,53.4 L211.4,53.7 L211.7,54.0 L211.9,54.4 L212.1,54.7 L212.3,55.0 L212.5,55.4 L212.8,55.7 L213.0,56.0 L213.2,56.4 L213.4,56.7 L213.6,57.0 L213.8,57.3 L214.0,57.7 L214.2,58.0 L214.4,58.3 L214.6,58.7 L214.8,59.0 L215.0,59.3 L215.2,59.7 L215.3,60.0 L215.5,60.3 L215.7,60.7 L215.9,61.0 L216.0,61.3 L216.2,61.7 L216.3,62.0 L216.5,62.3 L216.6,62.7 L216.8,63.0 L216.9,63.3 L217.1,63.7 L217.2,64.0 L217.3,64.3 L217.4,64.7 L217.5,65.0 L217.7,65.3 L217.8,65.7 L217.9,66.0 L218.0,66.3 L218.1,66.7 L218.2,67.0 L218.3,67.3 L218.4,67.7 L218.4,68.0 L218.5,68.3 L218.5,68.7 L218.5,69.0 L218.5,69.3 L218.5,69.6 L218.5,70.0 L218.5,70.3 L218.5,70.6 L218.5,71.0 L218.5,71.3 L218.5,71.6 L218.5,72.0 L218.5,72.3 L218.5,72.6 L218.5,73.0 L218.5,73.3 L218.5,73.6 L218.5,74.0 L218.5,74.3 L218.5,74.6 L218.6,75.0 L218.6,75.3 L218.6,75.6 L218.6,76.0 L218.6,76.3 L218.6,76.6 L218.6,77.0 L218.6,77.3 L218.7,77.6 L218.7,78.0 L218.7,78.3 L218.7,78.6 L218.8,79.0 L218.8,79.3 L218.8,79.6 L218.9,80.0 L218.9,80.3 L219.0,80.6 L219.1,81.0 L219.2,81.3 L219.2,81.6 L219.3,81.9 L219.4,82.3 L219.5,82.6 L219.6,82.9 L219.6,83.3 L219.7,83.6 L219.8,83.9 L219.9,84.3 L219.9,84.6 L220.0,84.9 L220.1,85.3 L220.2,85.6 L220.3,85.9 L220.4,86.3 L220.5,86.6 L220.5,86.9 L220.6,87.3 L220.7,87.6 L220.8,87.9 L220.8,88.3 L220.9,88.6 L221.0,88.9 L221.0,89.3 L221.1,89.6 L221.2,89.9 L221.2,90.3 L221.3,90.6 L221.3,90.9 L221.4,91.3 L221.4,91.6 L221.4,91.9 L221.4,92.3 L221.4,92.6 L221.4,92.9 L221.4,93.3 L221.4,93.6 L221.3,93.9 L221.2,94.2 L221.1,94.6 L221.1,94.9 L221.0,95.2 L220.9,95.6 L220.7,95.9 L220.5,96.2 L220.3,96.6 L220.1,96.9 L219.9,97.2 L219.6,97.6 L219.3,97.9 L219.0,98.2 L218.7,98.6 L218.5,98.9 L218.2,99.2 L217.9,99.6 L217.6,99.9 L217.4,100.2 L217.1,100.6 L216.8,100.9 L216.5,101.2 L216.2,101.6 L215.8,101.9 L215.5,102.2 L215.2,102.6 L214.9,102.9 L214.6,103.2 L214.3,103.6 L214.0,103.9 L213.7,104.2 L213.4,104.6 L213.1,104.9 L212.8,105.2 L212.4,105.6 L212.1,105.9 L211.8,106.2 L211.5,106.5 L211.2,106.9 L211.0,107.2 L210.7,107.5 L210.4,107.9 L210.1,108.2 L209.9,108.5 L209.6,108.9 L209.3,109.2 L209.1,109.5 L208.8,109.9 L208.6,110.2 L208.3,110.5 L208.1,110.9 L207.9,111.2 L207.7,111.5 L207.5,111.9 L207.3,112.2 L207.1,112.5 L206.9,112.9 L206.7,113.2 L206.5,113.5 L206.3,113.9 L206.2,114.2 L206.0,114.5 L205.8,114.9 L205.7,115.2 L205.6,115.5 L205.4,115.9 L205.3,116.2 L205.2,116.5 L205.1,116.9 L205.0,117.2 L204.9,117.5 L204.8,117.8 L204.7,118.2 L204.6,118.5 L204.5,118.8 L204.4,119.2 L204.4,119.5 L204.3,119.8 L204.2,120.2 L204.2,120.5 L204.2,120.8 L204.1,121.2 L204.1,121.5 L204.1,121.8 L204.1,122.2 L204.1,122.5 L204.0,122.8 L204.0,123.2 L204.0,123.5 L204.0,123.8 L204.0,124.2 L204.0,124.5 L204.0,124.8 L204.0,125.2 L203.9,125.5 L203.9,125.8 L203.9,126.2 L203.9,126.5 L203.9,126.8 L203.9,127.2 L203.9,127.5 L203.9,127.8 L203.9,128.2 L203.9,128.5 L203.8,128.8 L203.8,129.2 L203.8,129.5 L203.8,129.8 L203.8,130.1 L203.8,130.5 L203.8,130.8 L203.8,131.1 L203.8,131.5 L203.8,131.8 L203.8,132.1 L203.8,132.5 L203.7,132.8 L203.7,133.1 L203.7,133.5 L203.7,133.8 L203.7,134.1 L203.7,134.5 L203.7,134.8 L203.7,135.1 L203.7,135.5 L203.7,135.8 L203.7,135.8 L203.7,135.5 L203.7,135.1 L203.7,134.8 L203.7,134.5 L203.7,134.1 L203.7,133.8 L203.7,133.5 L203.7,133.1 L203.7,132.8 L203.6,132.5 L203.6,132.1 L203.6,131.8 L203.6,131.5 L203.6,131.1 L203.6,130.8 L203.6,130.5 L203.6,130.1 L203.6,129.8 L203.6,129.5 L203.6,129.2 L203.6,128.8 L203.5,128.5 L203.5,128.2 L203.5,127.8 L203.5,127.5 L203.5,127.2 L203.5,126.8 L203.5,126.5 L203.5,126.2 L203.5,125.8 L203.5,125.5 L203.4,125.2 L203.4,124.8 L203.4,124.5 L203.4,124.2 L203.4,123.8 L203.4,123.5 L203.4,123.2 L203.4,122.8 L203.3,122.5 L203.3,122.2 L203.3,121.8 L203.3,121.5 L203.3,121.2 L203.2,120.8 L203.2,120.5 L203.2,120.2 L203.1,119.8 L203.0,119.5 L203.0,119.2 L202.9,118.8 L202.8,118.5 L202.7,118.2 L202.6,117.8 L202.5,117.5 L202.4,117.2 L202.3,116.9 L202.2,116.5 L202.1,116.2 L202.0,115.9 L201.8,115.5 L201.7,115.2 L201.6,114.9 L201.4,114.5 L201.2,114.2 L201.1,113.9 L200.9,113.5 L200.7,113.2 L200.5,112.9 L200.3,112.5 L200.1,112.2 L199.9,111.9 L199.7,111.5 L199.5,111.2 L199.3,110.9 L199.1,110.5 L198.8,110.2 L198.6,109.9 L198.3,109.5 L198.1,109.2 L197.8,108.9 L197.5,108.5 L197.3,108.2 L197.0,107.9 L196.7,107.5 L196.4,107.2 L196.2,106.9 L195.9,106.5 L195.6,106.2 L195.3,105.9 L195.0,105.6 L194.6,105.2 L194.3,104.9 L194.0,104.6 L193.7,104.2 L193.4,103.9 L193.1,103.6 L192.8,103.2 L192.5,102.9 L192.2,102.6 L191.9,102.2 L191.6,101.9 L191.2,101.6 L190.9,101.2 L190.6,100.9 L190.3,100.6 L190.0,100.2 L189.8,99.9 L189.5,99.6 L189.2,99.2 L188.9,98.9 L188.7,98.6 L188.4,98.2 L188.1,97.9 L187.8,97.6 L187.5,97.2 L187.3,96.9 L187.1,96.6 L186.9,96.2 L186.7,95.9 L186.5,95.6 L186.4,95.2 L186.3,94.9 L186.3,94.6 L186.2,94.2 L186.1,93.9 L186.0,93.6 L186.0,93.3 L186.0,92.9 L186.0,92.6 L186.0,92.3 L186.0,91.9 L186.0,91.6 L186.0,91.3 L186.1,90.9 L186.1,90.6 L186.2,90.3 L186.2,89.9 L186.3,89.6 L186.4,89.3 L186.4,88.9 L186.5,88.6 L186.6,88.3 L186.6,87.9 L186.7,87.6 L186.8,87.3 L186.9,86.9 L186.9,86.6 L187.0,86.3 L187.1,85.9 L187.2,85.6 L187.3,85.3 L187.4,84.9 L187.5,84.6 L187.5,84.3 L187.6,83.9 L187.7,83.6 L187.8,83.3 L187.8,82.9 L187.9,82.6 L188.0,82.3 L188.1,81.9 L188.2,81.6 L188.2,81.3 L188.3,81.0 L188.4,80.6 L188.5,80.3 L188.5,80.0 L188.6,79.6 L188.6,79.3 L188.6,79.0 L188.7,78.6 L188.7,78.3 L188.7,78.0 L188.7,77.6 L188.8,77.3 L188.8,77.0 L188.8,76.6 L188.8,76.3 L188.8,76.0 L188.8,75.6 L188.8,75.3 L188.8,75.0 L188.8,74.6 L188.8,74.3 L188.8,74.0 L188.8,73.6 L188.8,73.3 L188.8,73.0 L188.8,72.6 L188.8,72.3 L188.8,72.0 L188.8,71.6 L188.8,71.3 L188.8,71.0 L188.8,70.6 L188.8,70.3 L188.8,70.0 L188.8,69.6 L188.8,69.3 L188.9,69.0 L188.9,68.7 L188.9,68.3 L189.0,68.0 L189.0,67.7 L189.1,67.3 L189.2,67.0 L189.3,66.7 L189.4,66.3 L189.5,66.0 L189.6,65.7 L189.7,65.3 L189.9,65.0 L190.0,64.7 L190.1,64.3 L190.2,64.0 L190.3,63.7 L190.5,63.3 L190.6,63.0 L190.8,62.7 L190.9,62.3 L191.1,62.0 L191.2,61.7 L191.4,61.3 L191.5,61.0 L191.7,60.7 L191.9,60.3 L192.1,60.0 L192.2,59.7 L192.4,59.3 L192.6,59.0 L192.8,58.7 L193.0,58.3 L193.2,58.0 L193.4,57.7 L193.6,57.3 L193.8,57.0 L194.0,56.7 L194.2,56.4 L194.4,56.0 L194.6,55.7 L194.9,55.4 L195.1,55.0 L195.3,54.7 L195.5,54.4 L195.7,54.0 L196.0,53.7 L196.2,53.4 L196.4,53.0 L196.6,52.7 L196.8,52.4 L197.0,52.0 L197.2,51.7 L197.5,51.4 L197.7,51.0 L197.9,50.7 L198.1,50.4 L198.3,50.0 L198.5,49.7 L198.6,49.4 L198.8,49.0 L199.0,48.7 L199.2,48.4 L199.4,48.0 L199.6,47.7 L199.8,47.4 L199.9,47.0 L200.1,46.7 L200.3,46.4 L200.5,46.0 L200.7,45.7 L200.8,45.4 L201.0,45.1 L201.1,44.7 L201.3,44.4 L201.4,44.1 L201.5,43.7 L201.7,43.4 L201.8,43.1 L201.9,42.7 L202.1,42.4 L202.2,42.1 L202.3,41.7 L202.4,41.4 L202.5,41.1 L202.6,40.7 L202.7,40.4 L202.7,40.1 L202.8,39.7 L202.9,39.4 L202.9,39.1 L203.0,38.7 L203.0,38.4 L203.0,38.1 L203.1,37.7 L203.1,37.4 L203.2,37.1 L203.2,36.7 L203.2,36.4 L203.3,36.1 L203.3,35.7 L203.3,35.4 L203.3,35.1 L203.4,34.7 L203.4,34.4 L203.4,34.1 L203.4,33.7 L203.5,33.4 L203.5,33.1 L203.5,32.8 L203.5,32.4 L203.5,32.1 L203.6,31.8 L203.6,31.4 L203.6,31.1 L203.6,30.8 L203.6,30.4 L203.6,30.1 L203.6,29.8 L203.7,29.4 L203.7,29.1 L203.7,28.8 L203.7,28.4 L203.7,28.1 L203.7,27.8 L203.7,27.4 L203.7,27.1 Z" fill="#00BFC4" stroke="#333333" stroke-width="0.75" stroke-linejoin="round"/>
<line x1="203.70" y1="48.30" x2="203.70" y2="70.50" stroke="#333333" stroke-width="0.75"/>
<line x1="203.70" y1="96.60" x2="203.70" y2="115.40" stroke="#333333" stroke-width="0.75"/>
<rect x="198.90" y="70.50" width="9.60" height="26.10" fill="#00BFC4" stroke="#333333" stroke-width="0.75"/>
<line x1="198.90" y1="84.60" x2="208.50" y2="84.60" stroke="#333333" stroke-width="1.3"/>
<path d="M258.3,30.9 L258.3,31.2 L258.3,31.6 L258.3,31.9 L258.3,32.2 L258.4,32.6 L258.4,32.9 L258.4,33.2 L258.4,33.6 L258.4,33.9 L258.4,34.2 L258.4,34.6 L258.4,34.9 L258.5,35.2 L258.5,35.6 L258.5,35.9 L258.5,36.2 L258.5,36.6 L258.5,36.9 L258.6,37.2 L258.6,37.6 L258.6,37.9 L258.6,38.2 L258.6,38.6 L258.7,38.9 L258.7,39.2 L258.7,39.6 L258.7,39.9 L258.8,40.2 L258.8,40.6 L258.9,40.9 L259.0,41.2 L259.1,41.6 L259.2,41.9 L259.3,42.2 L259.5,42.6 L259.6,42.9 L259.7,43.2 L259.9,43.6 L260.0,43.9 L260.2,44.2 L260.3,44.6 L260.4,44.9 L260.6,45.2 L260.8,45.6 L260.9,45.9 L261.1,46.2 L261.3,46.6 L261.5,46.9 L261.7,47.2 L261.9,47.5 L262.1,47.9 L262.3,48.2 L262.5,48.5 L262.8,48.9 L263.0,49.2 L263.3,49.5 L263.5,49.9 L263.8,50.2 L264.1,50.5 L264.4,50.9 L264.7,51.2 L265.0,51.5 L265.3,51.9 L265.6,52.2 L265.9,52.5 L266.2,52.9 L266.5,53.2 L266.8,53.5 L267.2,53.9 L267.5,54.2 L267.9,54.5 L268.2,54.9 L268.5,55.2 L268.9,55.5 L269.2,55.9 L269.5,56.2 L269.8,56.5 L270.1,56.9 L270.4,57.2 L270.7,57.5 L270.9,57.9 L271.2,58.2 L271.5,58.5 L271.8,58.9 L272.0,59.2 L272.3,59.5 L272.5,59.9 L272.8,60.2 L273.0,60.5 L273.2,60.9 L273.4,61.2 L273.6,61.5 L273.8,61.9 L274.0,62.2 L274.2,62.5 L274.3,62.9 L274.5,63.2 L274.7,63.5 L274.8,63.9 L275.0,64.2 L275.1,64.5 L275.2,64.9 L275.3,65.2 L275.4,65.5 L275.5,65.9 L275.6,66.2 L275.7,66.5 L275.8,66.9 L275.8,67.2 L275.8,67.5 L275.8,67.9 L275.8,68.2 L275.8,68.5 L275.8,68.9 L275.7,69.2 L275.7,69.5 L275.7,69.9 L275.6,70.2 L275.5,70.5 L275.5,70.9 L275.4,71.2 L275.2,71.5 L275.1,71.9 L274.9,72.2 L274.7,72.5 L274.5,72.9 L274.4,73.2 L274.2,73.5 L274.0,73.9 L273.8,74.2 L273.6,74.5 L273.5,74.9 L273.3,75.2 L273.1,75.5 L273.0,75.9 L272.8,76.2 L272.6,76.5 L272.4,76.9 L272.3,77.2 L272.1,77.5 L272.0,77.9 L271.9,78.2 L271.9,78.5 L271.9,78.9 L271.9,79.2 L272.1,79.5 L272.3,79.8 L272.6,80.2 L272.9,80.5 L273.2,80.8 L273.6,81.2 L274.0,81.5 L274.3,81.8 L274.7,82.2 L275.1,82.5 L275.4,82.8 L275.7,83.2 L276.0,83.5 L276.3,83.8 L276.5,84.2 L276.8,84.5 L277.1,84.8 L277.3,85.2 L277.6,85.5 L277.8,85.8 L278.0,86.2 L278.2,86.5 L278.3,86.8 L278.5,87.2 L278.6,87.5 L278.8,87.8 L278.9,88.2 L279.0,88.5 L279.2,88.8 L279.3,89.2 L279.4,89.5 L279.5,89.8 L279.6,90.2 L279.6,90.5 L279.6,90.8 L279.6,91.2 L279.6,91.5 L279.6,91.8 L279.5,92.2 L279.4,92.5 L279.3,92.8 L279.2,93.2 L279.1,93.5 L279.0,93.8 L278.8,94.2 L278.7,94.5 L278.5,94.8 L278.3,95.2 L278.0,95.5 L277.8,95.8 L277.5,96.2 L277.2,96.5 L276.9,96.8 L276.6,97.2 L276.3,97.5 L276.0,97.8 L275.7,98.2 L275.4,98.5 L275.1,98.8 L274.7,99.2 L274.4,99.5 L274.1,99.8 L273.7,100.2 L273.3,100.5 L273.0,100.8 L272.6,101.2 L272.3,101.5 L271.9,101.8 L271.6,102.2 L271.3,102.5 L270.9,102.8 L270.6,103.2 L270.3,103.5 L270.0,103.8 L269.6,104.2 L269.3,104.5 L269.0,104.8 L268.7,105.2 L268.3,105.5 L268.0,105.8 L267.7,106.2 L267.4,106.5 L267.0,106.8 L266.7,107.2 L266.3,107.5 L266.0,107.8 L265.6,108.2 L265.2,108.5 L264.9,108.8 L264.5,109.2 L264.2,109.5 L263.9,109.8 L263.6,110.2 L263.3,110.5 L263.0,110.8 L262.7,111.2 L262.4,111.5 L262.1,111.8 L261.9,112.1 L261.6,112.5 L261.4,112.8 L261.1,113.1 L260.9,113.5 L260.7,113.8 L260.5,114.1 L260.3,114.5 L260.1,114.8 L259.9,115.1 L259.7,115.5 L259.6,115.8 L259.4,116.1 L259.2,116.5 L259.1,116.8 L259.0,117.1 L258.9,117.5 L258.8,117.8 L258.7,118.1 L258.7,118.5 L258.7,118.8 L258.7,119.1 L258.6,119.5 L258.6,119.8 L258.6,120.1 L258.6,120.5 L258.6,120.8 L258.6,121.1 L258.6,121.5 L258.5,121.8 L258.5,122.1 L258.5,122.5 L258.5,122.8 L258.5,123.1 L258.5,123.5 L258.5,123.8 L258.4,124.1 L258.4,124.5 L258.4,124.8 L258.4,125.1 L258.4,125.5 L258.4,125.8 L258.4,126.1 L258.4,126.5 L258.3,126.8 L258.3,127.1 L258.3,127.5 L258.3,127.8 L258.3,127.8 L258.3,127.5 L258.3,127.1 L258.3,126.8 L258.2,126.5 L258.2,126.1 L258.2,125.8 L258.2,125.5 L258.2,125.1 L258.2,124.8 L258.2,124.5 L258.2,124.1 L258.1,123.8 L258.1,123.5 L258.1,123.1 L258.1,122.8 L258.1,122.5 L258.1,122.1 L258.1,121.8 L258.0,121.5 L258.0,121.1 L258.0,120.8 L258.0,120.5 L258.0,120.1 L258.0,119.8 L258.0,119.5 L257.9,119.1 L257.9,118.8 L257.9,118.5 L257.9,118.1 L257.8,117.8 L257.7,117.5 L257.6,117.1 L257.5,116.8 L257.4,116.5 L257.2,116.1 L257.0,115.8 L256.9,115.5 L256.7,115.1 L256.5,114.8 L256.3,114.5 L256.1,114.1 L255.9,113.8 L255.7,113.5 L255.5,113.1 L255.2,112.8 L255.0,112.5 L254.7,112.1 L254.5,111.8 L254.2,111.5 L253.9,111.2 L253.6,110.8 L253.3,110.5 L253.0,110.2 L252.7,109.8 L252.4,109.5 L252.1,109.2 L251.7,108.8 L251.4,108.5 L251.0,108.2 L250.6,107.8 L250.3,107.5 L249.9,107.2 L249.6,106.8 L249.2,106.5 L248.9,106.2 L248.6,105.8 L248.3,105.5 L247.9,105.2 L247.6,104.8 L247.3,104.5 L247.0,104.2 L246.6,103.8 L246.3,103.5 L246.0,103.2 L245.7,102.8 L245.3,102.5 L245.0,102.2 L244.7,101.8 L244.3,101.5 L244.0,101.2 L243.6,100.8 L243.3,100.5 L242.9,100.2 L242.5,99.8 L242.2,99.5 L241.9,99.2 L241.5,98.8 L241.2,98.5 L240.9,98.2 L240.6,97.8 L240.3,97.5 L240.0,97.2 L239.7,96.8 L239.4,96.5 L239.1,96.2 L238.8,95.8 L238.6,95.5 L238.3,95.2 L238.1,94.8 L237.9,94.5 L237.8,94.2 L237.6,93.8 L237.5,93.5 L237.4,93.2 L237.3,92.8 L237.2,92.5 L237.1,92.2 L237.0,91.8 L237.0,91.5 L237.0,91.2 L237.0,90.8 L237.0,90.5 L237.0,90.2 L237.1,89.8 L237.2,89.5 L237.3,89.2 L237.4,88.8 L237.6,88.5 L237.7,88.2 L237.8,87.8 L238.0,87.5 L238.1,87.2 L238.3,86.8 L238.4,86.5 L238.6,86.2 L238.8,85.8 L239.0,85.5 L239.3,85.2 L239.5,84.8 L239.8,84.5 L240.1,84.2 L240.3,83.8 L240.6,83.5 L240.9,83.2 L241.2,82.8 L241.5,82.5 L241.9,82.2 L242.3,81.8 L242.6,81.5 L243.0,81.2 L243.4,80.8 L243.7,80.5 L244.0,80.2 L244.3,79.8 L244.5,79.5 L244.7,79.2 L244.7,78.9 L244.7,78.5 L244.7,78.2 L244.6,77.9 L244.5,77.5 L244.3,77.2 L244.2,76.9 L244.0,76.5 L243.8,76.2 L243.6,75.9 L243.5,75.5 L243.3,75.2 L243.1,74.9 L243.0,74.5 L242.8,74.2 L242.6,73.9 L242.4,73.5 L242.2,73.2 L242.1,72.9 L241.9,72.5 L241.7,72.2 L241.5,71.9 L241.4,71.5 L241.2,71.2 L241.1,70.9 L241.1,70.5 L241.0,70.2 L240.9,69.9 L240.9,69.5 L240.9,69.2 L240.8,68.9 L240.8,68.5 L240.8,68.2 L240.8,67.9 L240.8,67.5 L240.8,67.2 L240.8,66.9 L240.9,66.5 L241.0,66.2 L241.1,65.9 L241.2,65.5 L241.3,65.2 L241.4,64.9 L241.5,64.5 L241.6,64.2 L241.8,63.9 L241.9,63.5 L242.1,63.2 L242.3,62.9 L242.4,62.5 L242.6,62.2 L242.8,61.9 L243.0,61.5 L243.2,61.2 L243.4,60.9 L243.6,60.5 L243.8,60.2 L244.1,59.9 L244.3,59.5 L244.6,59.2 L244.8,58.9 L245.1,58.5 L245.4,58.2 L245.7,57.9 L245.9,57.5 L246.2,57.2 L246.5,56.9 L246.8,56.5 L247.1,56.2 L247.4,55.9 L247.7,55.5 L248.1,55.2 L248.4,54.9 L248.7,54.5 L249.1,54.2 L249.4,53.9 L249.8,53.5 L250.1,53.2 L250.4,52.9 L250.7,52.5 L251.0,52.2 L251.3,51.9 L251.6,51.5 L251.9,51.2 L252.2,50.9 L252.5,50.5 L252.8,50.2 L253.1,49.9 L253.3,49.5 L253.6,49.2 L253.8,48.9 L254.1,48.5 L254.3,48.2 L254.5,47.9 L254.7,47.5 L254.9,47.2 L255.1,46.9 L255.3,46.6 L255.5,46.2 L255.7,45.9 L255.8,45.6 L256.0,45.2 L256.2,44.9 L256.3,44.6 L256.4,44.2 L256.6,43.9 L256.7,43.6 L256.9,43.2 L257.0,42.9 L257.1,42.6 L257.3,42.2 L257.4,41.9 L257.5,41.6 L257.6,41.2 L257.7,40.9 L257.8,40.6 L257.8,40.2 L257.9,39.9 L257.9,39.6 L257.9,39.2 L257.9,38.9 L258.0,38.6 L258.0,38.2 L258.0,37.9 L258.0,37.6 L258.0,37.2 L258.1,36.9 L258.1,36.6 L258.1,36.2 L258.1,35.9 L258.1,35.6 L258.1,35.2 L258.2,34.9 L258.2,34.6 L258.2,34.2 L258.2,33.9 L258.2,33.6 L258.2,33.2 L258.2,32.9 L258.2,32.6 L258.3,32.2 L258.3,31.9 L258.3,31.6 L258.3,31.2 L258.3,30.9 Z" fill="#F8766D" stroke="#333333" stroke-width="0.75" stroke-linejoin="round"/>
<line x1="258.30" y1="50.40" x2="258.30" y2="67.70" stroke="#333333" stroke-width="0.75"/>
<line x1="258.30" y1="93.20" x2="258.30" y2="108.40" stroke="#333333" stroke-width="0.75"/>
<rect x="253.50" y="67.70" width="9.60" height="25.50" fill="#F8766D" stroke="#333333" stroke-width="0.75"/>
<line x1="253.50" y1="85.30" x2="263.10" y2="85.30" stroke="#333333" stroke-width="1.3"/>
<path d="M302.3,32.2 L302.3,32.5 L302.3,32.9 L302.4,33.2 L302.4,33.5 L302.4,33.9 L302.4,34.2 L302.4,34.5 L302.4,34.9 L302.5,35.2 L302.5,35.5 L302.5,35.9 L302.5,36.2 L302.5,36.5 L302.5,36.9 L302.5,37.2 L302.6,37.5 L302.6,37.9 L302.6,38.2 L302.6,38.5 L302.6,38.9 L302.6,39.2 L302.6,39.5 L302.6,39.9 L302.7,40.2 L302.7,40.5 L302.8,40.9 L302.9,41.2 L303.0,41.5 L303.1,41.9 L303.2,42.2 L303.3,42.5 L303.5,42.9 L303.6,43.2 L303.8,43.5 L303.9,43.9 L304.0,44.2 L304.2,44.5 L304.3,44.9 L304.5,45.2 L304.6,45.5 L304.8,45.9 L304.9,46.2 L305.1,46.5 L305.3,46.9 L305.4,47.2 L305.6,47.5 L305.8,47.9 L306.0,48.2 L306.2,48.5 L306.4,48.9 L306.6,49.2 L306.8,49.5 L307.0,49.9 L307.3,50.2 L307.5,50.5 L307.7,50.9 L308.0,51.2 L308.2,51.5 L308.5,51.9 L308.7,52.2 L309.0,52.5 L309.2,52.9 L309.5,53.2 L309.8,53.5 L310.0,53.9 L310.3,54.2 L310.6,54.5 L310.9,54.9 L311.2,55.2 L311.4,55.5 L311.7,55.9 L312.0,56.2 L312.3,56.5 L312.6,56.9 L312.8,57.2 L313.1,57.5 L313.4,57.9 L313.7,58.2 L314.0,58.5 L314.3,58.8 L314.5,59.2 L314.8,59.5 L315.1,59.8 L315.3,60.2 L315.6,60.5 L315.8,60.8 L316.0,61.2 L316.2,61.5 L316.4,61.8 L316.6,62.2 L316.8,62.5 L317.0,62.8 L317.2,63.2 L317.4,63.5 L317.5,63.8 L317.7,64.2 L317.8,64.5 L318.0,64.8 L318.1,65.2 L318.3,65.5 L318.4,65.8 L318.6,66.2 L318.7,66.5 L318.8,66.8 L319.0,67.2 L319.1,67.5 L319.2,67.8 L319.2,68.2 L319.3,68.5 L319.3,68.8 L319.4,69.2 L319.4,69.5 L319.4,69.8 L319.4,70.2 L319.4,70.5 L319.4,70.8 L319.4,71.2 L319.4,71.5 L319.4,71.8 L319.3,72.2 L319.3,72.5 L319.2,72.8 L319.0,73.2 L318.9,73.5 L318.7,73.8 L318.5,74.2 L318.3,74.5 L318.1,74.8 L317.9,75.2 L317.7,75.5 L317.6,75.8 L317.4,76.2 L317.3,76.5 L317.1,76.8 L317.0,77.2 L316.9,77.5 L316.7,77.8 L316.6,78.2 L316.5,78.5 L316.3,78.8 L316.2,79.2 L316.0,79.5 L315.9,79.8 L315.7,80.2 L315.7,80.5 L315.7,80.8 L315.9,81.2 L316.2,81.5 L316.6,81.8 L316.9,82.2 L317.3,82.5 L317.6,82.8 L317.8,83.2 L318.1,83.5 L318.4,83.8 L318.6,84.2 L318.9,84.5 L319.1,84.8 L319.4,85.2 L319.6,85.5 L319.8,85.8 L320.1,86.2 L320.3,86.5 L320.5,86.8 L320.7,87.2 L320.9,87.5 L321.1,87.8 L321.3,88.2 L321.5,88.5 L321.7,88.8 L321.9,89.2 L322.1,89.5 L322.3,89.8 L322.5,90.2 L322.6,90.5 L322.7,90.8 L322.9,91.2 L323.0,91.5 L323.1,91.8 L323.3,92.2 L323.4,92.5 L323.5,92.8 L323.6,93.2 L323.6,93.5 L323.6,93.8 L323.6,94.2 L323.6,94.5 L323.6,94.8 L323.5,95.2 L323.4,95.5 L323.3,95.8 L323.2,96.2 L323.1,96.5 L323.0,96.8 L322.8,97.2 L322.5,97.5 L322.2,97.8 L321.9,98.2 L321.6,98.5 L321.2,98.8 L320.8,99.2 L320.4,99.5 L320.0,99.8 L319.6,100.2 L319.2,100.5 L318.8,100.8 L318.5,101.2 L318.1,101.5 L317.7,101.8 L317.4,102.2 L317.0,102.5 L316.6,102.8 L316.2,103.2 L315.8,103.5 L315.5,103.8 L315.1,104.2 L314.7,104.5 L314.3,104.8 L314.0,105.2 L313.6,105.5 L313.3,105.8 L312.9,106.2 L312.6,106.5 L312.2,106.8 L311.9,107.2 L311.5,107.5 L311.2,107.8 L310.9,108.2 L310.5,108.5 L310.2,108.8 L309.9,109.2 L309.6,109.5 L309.3,109.8 L309.0,110.2 L308.6,110.5 L308.3,110.8 L308.0,111.1 L307.7,111.5 L307.4,111.8 L307.2,112.1 L306.9,112.5 L306.6,112.8 L306.4,113.1 L306.1,113.5 L305.9,113.8 L305.6,114.1 L305.4,114.5 L305.2,114.8 L304.9,115.1 L304.7,115.5 L304.5,115.8 L304.3,116.1 L304.1,116.5 L304.0,116.8 L303.8,117.1 L303.7,117.5 L303.6,117.8 L303.5,118.1 L303.4,118.5 L303.3,118.8 L303.2,119.1 L303.2,119.5 L303.1,119.8 L303.0,120.1 L302.9,120.5 L302.9,120.8 L302.8,121.1 L302.8,121.5 L302.8,121.8 L302.7,122.1 L302.7,122.5 L302.7,122.8 L302.7,123.1 L302.7,123.5 L302.7,123.8 L302.6,124.1 L302.6,124.5 L302.6,124.8 L302.6,125.1 L302.6,125.5 L302.6,125.8 L302.6,126.1 L302.6,126.5 L302.6,126.8 L302.6,127.1 L302.5,127.5 L302.5,127.8 L302.5,128.1 L302.5,128.5 L302.5,128.8 L302.5,129.1 L302.5,129.5 L302.5,129.8 L302.5,130.1 L302.5,130.5 L302.4,130.8 L302.4,131.1 L302.4,131.5 L302.4,131.8 L302.4,132.1 L302.4,132.5 L302.4,132.8 L302.4,133.1 L302.4,133.5 L302.4,133.8 L302.4,134.1 L302.4,134.5 L302.3,134.8 L302.3,135.1 L302.3,135.5 L302.3,135.8 L302.3,136.1 L302.3,136.5 L302.3,136.8 L302.3,136.8 L302.3,136.5 L302.3,136.1 L302.3,135.8 L302.3,135.5 L302.3,135.1 L302.3,134.8 L302.2,134.5 L302.2,134.1 L302.2,133.8 L302.2,133.5 L302.2,133.1 L302.2,132.8 L302.2,132.5 L302.2,132.1 L302.2,131.8 L302.2,131.5 L302.2,131.1 L302.2,130.8 L302.1,130.5 L302.1,130.1 L302.1,129.8 L302.1,129.5 L302.1,129.1 L302.1,128.8 L302.1,128.5 L302.1,128.1 L302.1,127.8 L302.1,127.5 L302.0,127.1 L302.0,126.8 L302.0,126.5 L302.0,126.1 L302.0,125.8 L302.0,125.5 L302.0,125.1 L302.0,124.8 L302.0,124.5 L302.0,124.1 L301.9,123.8 L301.9,123.5 L301.9,123.1 L301.9,122.8 L301.9,122.5 L301.9,122.1 L301.8,121.8 L301.8,121.5 L301.8,121.1 L301.7,120.8 L301.7,120.5 L301.6,120.1 L301.5,119.8 L301.4,119.5 L301.4,119.1 L301.3,118.8 L301.2,118.5 L301.1,118.1 L301.0,117.8 L300.9,117.5 L300.8,117.1 L300.6,116.8 L300.5,116.5 L300.3,116.1 L300.1,115.8 L299.9,115.5 L299.7,115.1 L299.4,114.8 L299.2,114.5 L299.0,114.1 L298.7,113.8 L298.5,113.5 L298.2,113.1 L298.0,112.8 L297.7,112.5 L297.4,112.1 L297.2,111.8 L296.9,111.5 L296.6,111.1 L296.3,110.8 L296.0,110.5 L295.6,110.2 L295.3,109.8 L295.0,109.5 L294.7,109.2 L294.4,108.8 L294.1,108.5 L293.7,108.2 L293.4,107.8 L293.1,107.5 L292.7,107.2 L292.4,106.8 L292.0,106.5 L291.7,106.2 L291.3,105.8 L291.0,105.5 L290.6,105.2 L290.3,104.8 L289.9,104.5 L289.5,104.2 L289.1,103.8 L288.8,103.5 L288.4,103.2 L288.0,102.8 L287.6,102.5 L287.2,102.2 L286.9,101.8 L286.5,101.5 L286.1,101.2 L285.8,100.8 L285.4,100.5 L285.0,100.2 L284.6,99.8 L284.2,99.5 L283.8,99.2 L283.4,98.8 L283.0,98.5 L282.7,98.2 L282.4,97.8 L282.1,97.5 L281.8,97.2 L281.6,96.8 L281.5,96.5 L281.4,96.2 L281.3,95.8 L281.2,95.5 L281.1,95.2 L281.0,94.8 L281.0,94.5 L281.0,94.2 L281.0,93.8 L281.0,93.5 L281.0,93.2 L281.1,92.8 L281.2,92.5 L281.3,92.2 L281.5,91.8 L281.6,91.5 L281.7,91.2 L281.9,90.8 L282.0,90.5 L282.1,90.2 L282.3,89.8 L282.5,89.5 L282.7,89.2 L282.9,88.8 L283.1,88.5 L283.3,88.2 L283.5,87.8 L283.7,87.5 L283.9,87.2 L284.1,86.8 L284.3,86.5 L284.5,86.2 L284.8,85.8 L285.0,85.5 L285.2,85.2 L285.5,84.8 L285.7,84.5 L286.0,84.2 L286.2,83.8 L286.5,83.5 L286.8,83.2 L287.0,82.8 L287.3,82.5 L287.7,82.2 L288.0,81.8 L288.4,81.5 L288.7,81.2 L288.9,80.8 L288.9,80.5 L288.9,80.2 L288.7,79.8 L288.6,79.5 L288.4,79.2 L288.3,78.8 L288.1,78.5 L288.0,78.2 L287.9,77.8 L287.7,77.5 L287.6,77.2 L287.5,76.8 L287.3,76.5 L287.2,76.2 L287.0,75.8 L286.9,75.5 L286.7,75.2 L286.5,74.8 L286.3,74.5 L286.1,74.2 L285.9,73.8 L285.7,73.5 L285.6,73.2 L285.4,72.8 L285.3,72.5 L285.3,72.2 L285.2,71.8 L285.2,71.5 L285.2,71.2 L285.2,70.8 L285.2,70.5 L285.2,70.2 L285.2,69.8 L285.2,69.5 L285.2,69.2 L285.3,68.8 L285.3,68.5 L285.4,68.2 L285.4,67.8 L285.5,67.5 L285.6,67.2 L285.8,66.8 L285.9,66.5 L286.0,66.2 L286.2,65.8 L286.3,65.5 L286.5,65.2 L286.6,64.8 L286.8,64.5 L286.9,64.2 L287.1,63.8 L287.2,63.5 L287.4,63.2 L287.6,62.8 L287.8,62.5 L288.0,62.2 L288.2,61.8 L288.4,61.5 L288.6,61.2 L288.8,60.8 L289.0,60.5 L289.3,60.2 L289.5,59.8 L289.8,59.5 L290.1,59.2 L290.3,58.8 L290.6,58.5 L290.9,58.2 L291.2,57.9 L291.5,57.5 L291.8,57.2 L292.0,56.9 L292.3,56.5 L292.6,56.2 L292.9,55.9 L293.2,55.5 L293.4,55.2 L293.7,54.9 L294.0,54.5 L294.3,54.2 L294.6,53.9 L294.8,53.5 L295.1,53.2 L295.4,52.9 L295.6,52.5 L295.9,52.2 L296.1,51.9 L296.4,51.5 L296.6,51.2 L296.9,50.9 L297.1,50.5 L297.3,50.2 L297.6,49.9 L297.8,49.5 L298.0,49.2 L298.2,48.9 L298.4,48.5 L298.6,48.2 L298.8,47.9 L299.0,47.5 L299.2,47.2 L299.3,46.9 L299.5,46.5 L299.7,46.2 L299.8,45.9 L300.0,45.5 L300.1,45.2 L300.3,44.9 L300.4,44.5 L300.6,44.2 L300.7,43.9 L300.8,43.5 L301.0,43.2 L301.1,42.9 L301.3,42.5 L301.4,42.2 L301.5,41.9 L301.6,41.5 L301.7,41.2 L301.8,40.9 L301.9,40.5 L301.9,40.2 L302.0,39.9 L302.0,39.5 L302.0,39.2 L302.0,38.9 L302.0,38.5 L302.0,38.2 L302.0,37.9 L302.0,37.5 L302.1,37.2 L302.1,36.9 L302.1,36.5 L302.1,36.2 L302.1,35.9 L302.1,35.5 L302.1,35.2 L302.2,34.9 L302.2,34.5 L302.2,34.2 L302.2,33.9 L302.2,33.5 L302.2,33.2 L302.3,32.9 L302.3,32.5 L302.3,32.2 Z" fill="#00BFC4" stroke="#333333" stroke-width="0.75" stroke-linejoin="round"/>
<line x1="302.30" y1="52.20" x2="302.30" y2="71.60" stroke="#333333" stroke-width="0.75"/>
<line x1="302.30" y1="95.00" x2="302.30" y2="117.30" stroke="#333333" stroke-width="0.75"/>
<rect x="297.50" y="71.60" width="9.60" height="23.40" fill="#00BFC4" stroke="#333333" stroke-width="0.75"/>
<line x1="297.50" y1="87.20" x2="307.10" y2="87.20" stroke="#333333" stroke-width="1.3"/>
<path d="M23.40,172.50 V297.20 H339.70" fill="none" stroke="#4a4a4a" stroke-width="1.0" stroke-linecap="round" stroke-linejoin="round"/>
<line x1="21.80" y1="172.90" x2="23.40" y2="172.90" stroke="#333" stroke-width="0.9"/>
<text x="20.70" y="174.85" font-size="5.60" text-anchor="end" fill="#3a3a3a" stroke="#3a3a3a" stroke-width="0.10" font-weight="normal" >1.8</text>
<line x1="21.80" y1="198.55" x2="23.40" y2="198.55" stroke="#333" stroke-width="0.9"/>
<text x="20.70" y="200.50" font-size="5.60" text-anchor="end" fill="#3a3a3a" stroke="#3a3a3a" stroke-width="0.10" font-weight="normal" >1.5</text>
<line x1="21.80" y1="224.20" x2="23.40" y2="224.20" stroke="#333" stroke-width="0.9"/>
<text x="20.70" y="226.15" font-size="5.60" text-anchor="end" fill="#3a3a3a" stroke="#3a3a3a" stroke-width="0.10" font-weight="normal" >1.2</text>
<line x1="21.80" y1="249.85" x2="23.40" y2="249.85" stroke="#333" stroke-width="0.9"/>
<text x="20.70" y="251.80" font-size="5.60" text-anchor="end" fill="#3a3a3a" stroke="#3a3a3a" stroke-width="0.10" font-weight="normal" >0.9</text>
<line x1="21.80" y1="275.50" x2="23.40" y2="275.50" stroke="#333" stroke-width="0.9"/>
<text x="20.70" y="277.45" font-size="5.60" text-anchor="end" fill="#3a3a3a" stroke="#3a3a3a" stroke-width="0.10" font-weight="normal" >0.6</text>
<line x1="83.10" y1="297.20" x2="83.10" y2="298.80" stroke="#333" stroke-width="0.9"/>
<text x="83.10" y="304.70" font-size="5.60" text-anchor="middle" fill="#3a3a3a" stroke="#3a3a3a" stroke-width="0.10" font-weight="normal" >YC2016N + YC2017</text>
<line x1="181.70" y1="297.20" x2="181.70" y2="298.80" stroke="#333" stroke-width="0.9"/>
<text x="181.70" y="304.70" font-size="5.60" text-anchor="middle" fill="#3a3a3a" stroke="#3a3a3a" stroke-width="0.10" font-weight="normal" >YC2016F + YC2017</text>
<line x1="280.30" y1="297.20" x2="280.30" y2="298.80" stroke="#333" stroke-width="0.9"/>
<text x="280.30" y="304.70" font-size="5.60" text-anchor="middle" fill="#3a3a3a" stroke="#3a3a3a" stroke-width="0.10" font-weight="normal" >YC2016N + YC2016F + YC2017</text>
<text x="181.55" y="319.20" font-size="7.05" text-anchor="middle" fill="#000" stroke="#000" stroke-width="0.07" font-weight="normal" >reference set</text>
<text x="6.50" y="234.80" font-size="7.05" text-anchor="middle" fill="#000" stroke="#000" stroke-width="0.07" font-weight="normal" transform="rotate(-90 6.50 234.80)">bias</text>
<text x="0.00" y="179.10" font-size="9.50" text-anchor="start" fill="#000" stroke="#000" stroke-width="0.00" font-weight="bold" >b</text>
<path d="M60.8,189.2 L60.8,189.5 L60.9,189.9 L60.9,190.2 L60.9,190.5 L60.9,190.9 L61.0,191.2 L61.0,191.5 L61.0,191.9 L61.0,192.2 L61.0,192.5 L61.0,192.9 L61.0,193.2 L61.0,193.5 L61.1,193.9 L61.1,194.2 L61.1,194.5 L61.1,194.8 L61.1,195.2 L61.1,195.5 L61.1,195.8 L61.1,196.2 L61.1,196.5 L61.1,196.8 L61.1,197.2 L61.2,197.5 L61.2,197.8 L61.2,198.2 L61.3,198.5 L61.3,198.8 L61.4,199.2 L61.5,199.5 L61.6,199.8 L61.6,200.2 L61.7,200.5 L61.8,200.8 L61.9,201.2 L61.9,201.5 L62.0,201.8 L62.0,202.2 L62.1,202.5 L62.1,202.8 L62.2,203.2 L62.2,203.5 L62.3,203.8 L62.3,204.2 L62.4,204.5 L62.4,204.8 L62.4,205.2 L62.5,205.5 L62.6,205.8 L62.6,206.1 L62.7,206.5 L62.7,206.8 L62.8,207.1 L62.8,207.5 L62.9,207.8 L63.0,208.1 L63.0,208.5 L63.1,208.8 L63.2,209.1 L63.2,209.5 L63.3,209.8 L63.4,210.1 L63.4,210.5 L63.5,210.8 L63.6,211.1 L63.7,211.5 L63.7,211.8 L63.8,212.1 L63.9,212.5 L64.0,212.8 L64.1,213.1 L64.1,213.5 L64.2,213.8 L64.4,214.1 L64.5,214.5 L64.6,214.8 L64.8,215.1 L65.0,215.5 L65.1,215.8 L65.3,216.1 L65.5,216.4 L65.7,216.8 L66.0,217.1 L66.2,217.4 L66.4,217.8 L66.6,218.1 L66.8,218.4 L67.1,218.8 L67.3,219.1 L67.6,219.4 L67.8,219.8 L68.1,220.1 L68.4,220.4 L68.6,220.8 L68.9,221.1 L69.2,221.4 L69.5,221.8 L69.7,222.1 L70.0,222.4 L70.2,222.8 L70.5,223.1 L70.8,223.4 L71.0,223.8 L71.3,224.1 L71.6,224.4 L71.8,224.8 L72.1,225.1 L72.4,225.4 L72.6,225.8 L72.9,226.1 L73.1,226.4 L73.3,226.8 L73.5,227.1 L73.7,227.4 L73.9,227.7 L74.0,228.1 L74.2,228.4 L74.3,228.7 L74.5,229.1 L74.6,229.4 L74.7,229.7 L74.8,230.1 L75.0,230.4 L75.1,230.7 L75.2,231.1 L75.3,231.4 L75.4,231.7 L75.5,232.1 L75.6,232.4 L75.7,232.7 L75.8,233.1 L75.9,233.4 L76.0,233.7 L76.0,234.1 L76.1,234.4 L76.2,234.7 L76.3,235.1 L76.4,235.4 L76.4,235.7 L76.5,236.1 L76.6,236.4 L76.6,236.7 L76.7,237.1 L76.8,237.4 L76.8,237.7 L76.9,238.0 L77.0,238.4 L77.0,238.7 L77.1,239.0 L77.1,239.4 L77.2,239.7 L77.3,240.0 L77.3,240.4 L77.4,240.7 L77.4,241.0 L77.5,241.4 L77.6,241.7 L77.6,242.0 L77.7,242.4 L77.8,242.7 L77.8,243.0 L77.9,243.4 L78.0,243.7 L78.0,244.0 L78.1,244.4 L78.2,244.7 L78.3,245.0 L78.4,245.4 L78.4,245.7 L78.5,246.0 L78.6,246.4 L78.7,246.7 L78.8,247.0 L78.8,247.4 L78.9,247.7 L78.9,248.0 L79.0,248.4 L79.0,248.7 L79.0,249.0 L79.0,249.3 L79.0,249.7 L79.0,250.0 L79.0,250.3 L79.0,250.7 L79.0,251.0 L79.0,251.3 L79.0,251.7 L79.0,252.0 L79.0,252.3 L79.0,252.7 L79.0,253.0 L78.8,253.3 L78.7,253.7 L78.5,254.0 L78.3,254.3 L78.1,254.7 L78.0,255.0 L77.8,255.3 L77.6,255.7 L77.4,256.0 L77.1,256.3 L76.9,256.7 L76.7,257.0 L76.4,257.3 L76.2,257.7 L75.9,258.0 L75.6,258.3 L75.3,258.7 L75.0,259.0 L74.7,259.3 L74.4,259.7 L74.1,260.0 L73.7,260.3 L73.4,260.6 L73.1,261.0 L72.8,261.3 L72.5,261.6 L72.2,262.0 L71.9,262.3 L71.6,262.6 L71.4,263.0 L71.1,263.3 L70.8,263.6 L70.6,264.0 L70.3,264.3 L70.0,264.6 L69.8,265.0 L69.5,265.3 L69.2,265.6 L69.0,266.0 L68.7,266.3 L68.4,266.6 L68.1,267.0 L67.8,267.3 L67.5,267.6 L67.3,268.0 L67.0,268.3 L66.7,268.6 L66.4,269.0 L66.1,269.3 L65.9,269.6 L65.6,270.0 L65.4,270.3 L65.1,270.6 L64.9,270.9 L64.6,271.3 L64.4,271.6 L64.2,271.9 L64.0,272.3 L63.7,272.6 L63.5,272.9 L63.3,273.3 L63.1,273.6 L63.0,273.9 L62.8,274.3 L62.7,274.6 L62.5,274.9 L62.4,275.3 L62.2,275.6 L62.1,275.9 L62.0,276.3 L61.9,276.6 L61.7,276.9 L61.6,277.3 L61.5,277.6 L61.5,277.9 L61.4,278.3 L61.4,278.6 L61.3,278.9 L61.3,279.3 L61.2,279.6 L61.2,279.9 L61.2,280.3 L61.2,280.6 L61.1,280.9 L61.1,281.3 L61.1,281.6 L61.1,281.9 L61.0,282.2 L61.0,282.6 L61.0,282.9 L61.0,283.2 L61.0,283.6 L60.9,283.9 L60.9,284.2 L60.9,284.6 L60.9,284.9 L60.9,285.2 L60.9,285.6 L60.8,285.9 L60.8,286.2 L60.8,286.6 L60.8,286.9 L60.8,286.9 L60.8,286.6 L60.8,286.2 L60.8,285.9 L60.7,285.6 L60.7,285.2 L60.7,284.9 L60.7,284.6 L60.7,284.2 L60.7,283.9 L60.6,283.6 L60.6,283.2 L60.6,282.9 L60.6,282.6 L60.6,282.2 L60.5,281.9 L60.5,281.6 L60.5,281.3 L60.5,280.9 L60.4,280.6 L60.4,280.3 L60.4,279.9 L60.4,279.6 L60.3,279.3 L60.3,278.9 L60.2,278.6 L60.2,278.3 L60.1,277.9 L60.1,277.6 L60.0,277.3 L59.9,276.9 L59.7,276.6 L59.6,276.3 L59.5,275.9 L59.4,275.6 L59.2,275.3 L59.1,274.9 L58.9,274.6 L58.8,274.3 L58.6,273.9 L58.5,273.6 L58.3,273.3 L58.1,272.9 L57.9,272.6 L57.6,272.3 L57.4,271.9 L57.2,271.6 L57.0,271.3 L56.7,270.9 L56.5,270.6 L56.2,270.3 L56.0,270.0 L55.7,269.6 L55.5,269.3 L55.2,269.0 L54.9,268.6 L54.6,268.3 L54.3,268.0 L54.1,267.6 L53.8,267.3 L53.5,267.0 L53.2,266.6 L52.9,266.3 L52.6,266.0 L52.4,265.6 L52.1,265.3 L51.8,265.0 L51.6,264.6 L51.3,264.3 L51.0,264.0 L50.8,263.6 L50.5,263.3 L50.2,263.0 L50.0,262.6 L49.7,262.3 L49.4,262.0 L49.1,261.6 L48.8,261.3 L48.5,261.0 L48.2,260.6 L47.9,260.3 L47.5,260.0 L47.2,259.7 L46.9,259.3 L46.6,259.0 L46.3,258.7 L46.0,258.3 L45.7,258.0 L45.4,257.7 L45.2,257.3 L44.9,257.0 L44.7,256.7 L44.5,256.3 L44.2,256.0 L44.0,255.7 L43.8,255.3 L43.6,255.0 L43.5,254.7 L43.3,254.3 L43.1,254.0 L42.9,253.7 L42.8,253.3 L42.6,253.0 L42.6,252.7 L42.6,252.3 L42.6,252.0 L42.6,251.7 L42.6,251.3 L42.6,251.0 L42.6,250.7 L42.6,250.3 L42.6,250.0 L42.6,249.7 L42.6,249.3 L42.6,249.0 L42.6,248.7 L42.6,248.4 L42.7,248.0 L42.7,247.7 L42.8,247.4 L42.8,247.0 L42.9,246.7 L43.0,246.4 L43.1,246.0 L43.2,245.7 L43.2,245.4 L43.3,245.0 L43.4,244.7 L43.5,244.4 L43.6,244.0 L43.6,243.7 L43.7,243.4 L43.8,243.0 L43.8,242.7 L43.9,242.4 L44.0,242.0 L44.0,241.7 L44.1,241.4 L44.2,241.0 L44.2,240.7 L44.3,240.4 L44.3,240.0 L44.4,239.7 L44.5,239.4 L44.5,239.0 L44.6,238.7 L44.6,238.4 L44.7,238.0 L44.8,237.7 L44.8,237.4 L44.9,237.1 L45.0,236.7 L45.0,236.4 L45.1,236.1 L45.2,235.7 L45.2,235.4 L45.3,235.1 L45.4,234.7 L45.5,234.4 L45.6,234.1 L45.6,233.7 L45.7,233.4 L45.8,233.1 L45.9,232.7 L46.0,232.4 L46.1,232.1 L46.2,231.7 L46.3,231.4 L46.4,231.1 L46.5,230.7 L46.6,230.4 L46.8,230.1 L46.9,229.7 L47.0,229.4 L47.1,229.1 L47.3,228.7 L47.4,228.4 L47.6,228.1 L47.7,227.7 L47.9,227.4 L48.1,227.1 L48.3,226.8 L48.5,226.4 L48.7,226.1 L49.0,225.8 L49.2,225.4 L49.5,225.1 L49.8,224.8 L50.0,224.4 L50.3,224.1 L50.6,223.8 L50.8,223.4 L51.1,223.1 L51.4,222.8 L51.6,222.4 L51.9,222.1 L52.1,221.8 L52.4,221.4 L52.7,221.1 L53.0,220.8 L53.2,220.4 L53.5,220.1 L53.8,219.8 L54.0,219.4 L54.3,219.1 L54.5,218.8 L54.8,218.4 L55.0,218.1 L55.2,217.8 L55.4,217.4 L55.6,217.1 L55.9,216.8 L56.1,216.4 L56.3,216.1 L56.5,215.8 L56.6,215.5 L56.8,215.1 L57.0,214.8 L57.1,214.5 L57.2,214.1 L57.4,213.8 L57.5,213.5 L57.5,213.1 L57.6,212.8 L57.7,212.5 L57.8,212.1 L57.9,211.8 L57.9,211.5 L58.0,211.1 L58.1,210.8 L58.2,210.5 L58.2,210.1 L58.3,209.8 L58.4,209.5 L58.4,209.1 L58.5,208.8 L58.6,208.5 L58.6,208.1 L58.7,207.8 L58.8,207.5 L58.8,207.1 L58.9,206.8 L58.9,206.5 L59.0,206.1 L59.0,205.8 L59.1,205.5 L59.2,205.2 L59.2,204.8 L59.2,204.5 L59.3,204.2 L59.3,203.8 L59.4,203.5 L59.4,203.2 L59.5,202.8 L59.5,202.5 L59.6,202.2 L59.6,201.8 L59.7,201.5 L59.7,201.2 L59.8,200.8 L59.9,200.5 L60.0,200.2 L60.0,199.8 L60.1,199.5 L60.2,199.2 L60.3,198.8 L60.3,198.5 L60.4,198.2 L60.4,197.8 L60.4,197.5 L60.5,197.2 L60.5,196.8 L60.5,196.5 L60.5,196.2 L60.5,195.8 L60.5,195.5 L60.5,195.2 L60.5,194.8 L60.5,194.5 L60.5,194.2 L60.5,193.9 L60.6,193.5 L60.6,193.2 L60.6,192.9 L60.6,192.5 L60.6,192.2 L60.6,191.9 L60.6,191.5 L60.6,191.2 L60.7,190.9 L60.7,190.5 L60.7,190.2 L60.7,189.9 L60.8,189.5 L60.8,189.2 Z" fill="#F8766D" stroke="#333333" stroke-width="0.75" stroke-linejoin="round"/>
<line x1="60.80" y1="207.20" x2="60.80" y2="232.30" stroke="#333333" stroke-width="0.75"/>
<line x1="60.80" y1="253.10" x2="60.80" y2="268.90" stroke="#333333" stroke-width="0.75"/>
<rect x="56.00" y="232.30" width="9.60" height="20.80" fill="#F8766D" stroke="#333333" stroke-width="0.75"/>
<line x1="56.00" y1="244.10" x2="65.60" y2="244.10" stroke="#333333" stroke-width="1.3"/>
<path d="M105.5,203.7 L105.5,204.0 L105.5,204.4 L105.5,204.7 L105.6,205.0 L105.6,205.4 L105.6,205.7 L105.6,206.0 L105.7,206.4 L105.7,206.7 L105.7,207.0 L105.7,207.4 L105.8,207.7 L105.8,208.0 L105.8,208.4 L105.9,208.7 L105.9,209.0 L106.0,209.4 L106.0,209.7 L106.1,210.0 L106.1,210.3 L106.2,210.7 L106.3,211.0 L106.3,211.3 L106.4,211.7 L106.5,212.0 L106.6,212.3 L106.7,212.7 L106.8,213.0 L106.9,213.3 L107.0,213.7 L107.1,214.0 L107.2,214.3 L107.3,214.7 L107.4,215.0 L107.4,215.3 L107.5,215.7 L107.6,216.0 L107.7,216.3 L107.8,216.7 L107.8,217.0 L107.9,217.3 L108.0,217.7 L108.1,218.0 L108.2,218.3 L108.2,218.7 L108.3,219.0 L108.4,219.3 L108.5,219.7 L108.6,220.0 L108.6,220.3 L108.7,220.7 L108.8,221.0 L108.9,221.3 L109.0,221.7 L109.1,222.0 L109.2,222.3 L109.3,222.6 L109.5,223.0 L109.6,223.3 L109.7,223.6 L109.9,224.0 L110.0,224.3 L110.2,224.6 L110.4,225.0 L110.5,225.3 L110.7,225.6 L110.9,226.0 L111.1,226.3 L111.3,226.6 L111.5,227.0 L111.7,227.3 L111.9,227.6 L112.2,228.0 L112.5,228.3 L112.7,228.6 L113.1,229.0 L113.4,229.3 L113.7,229.6 L114.0,230.0 L114.4,230.3 L114.7,230.6 L115.0,231.0 L115.4,231.3 L115.7,231.6 L116.0,232.0 L116.3,232.3 L116.6,232.6 L116.9,233.0 L117.3,233.3 L117.6,233.6 L117.9,234.0 L118.2,234.3 L118.5,234.6 L118.8,235.0 L119.1,235.3 L119.3,235.6 L119.6,235.9 L119.8,236.3 L120.0,236.6 L120.2,236.9 L120.4,237.3 L120.6,237.6 L120.8,237.9 L121.0,238.3 L121.1,238.6 L121.3,238.9 L121.5,239.3 L121.7,239.6 L121.8,239.9 L122.0,240.3 L122.1,240.6 L122.3,240.9 L122.5,241.3 L122.6,241.6 L122.8,241.9 L122.9,242.3 L123.0,242.6 L123.2,242.9 L123.3,243.3 L123.5,243.6 L123.6,243.9 L123.7,244.3 L123.8,244.6 L124.0,244.9 L124.1,245.3 L124.2,245.6 L124.3,245.9 L124.4,246.3 L124.6,246.6 L124.7,246.9 L124.8,247.3 L124.9,247.6 L125.0,247.9 L125.0,248.2 L125.1,248.6 L125.2,248.9 L125.3,249.2 L125.3,249.6 L125.4,249.9 L125.4,250.2 L125.5,250.6 L125.5,250.9 L125.6,251.2 L125.7,251.6 L125.7,251.9 L125.8,252.2 L125.9,252.6 L126.0,252.9 L126.1,253.2 L126.3,253.6 L126.4,253.9 L126.5,254.2 L126.6,254.6 L126.6,254.9 L126.6,255.2 L126.6,255.6 L126.6,255.9 L126.6,256.2 L126.5,256.6 L126.4,256.9 L126.4,257.2 L126.3,257.6 L126.2,257.9 L126.1,258.2 L125.9,258.6 L125.7,258.9 L125.4,259.2 L125.0,259.6 L124.7,259.9 L124.3,260.2 L123.9,260.5 L123.5,260.9 L123.1,261.2 L122.7,261.5 L122.4,261.9 L122.0,262.2 L121.7,262.5 L121.3,262.9 L120.9,263.2 L120.5,263.5 L120.1,263.9 L119.7,264.2 L119.3,264.5 L118.9,264.9 L118.5,265.2 L118.2,265.5 L117.8,265.9 L117.4,266.2 L117.1,266.5 L116.7,266.9 L116.4,267.2 L116.1,267.5 L115.7,267.9 L115.4,268.2 L115.1,268.5 L114.7,268.9 L114.4,269.2 L114.1,269.5 L113.8,269.9 L113.5,270.2 L113.1,270.5 L112.8,270.9 L112.5,271.2 L112.1,271.5 L111.8,271.9 L111.5,272.2 L111.2,272.5 L110.8,272.9 L110.5,273.2 L110.2,273.5 L110.0,273.8 L109.7,274.2 L109.5,274.5 L109.2,274.8 L109.0,275.2 L108.8,275.5 L108.6,275.8 L108.4,276.2 L108.2,276.5 L108.0,276.8 L107.8,277.2 L107.6,277.5 L107.5,277.8 L107.3,278.2 L107.2,278.5 L107.1,278.8 L106.9,279.2 L106.8,279.5 L106.7,279.8 L106.6,280.2 L106.5,280.5 L106.4,280.8 L106.3,281.2 L106.3,281.5 L106.2,281.8 L106.1,282.2 L106.1,282.5 L106.0,282.8 L106.0,283.2 L106.0,283.5 L105.9,283.8 L105.9,284.2 L105.9,284.5 L105.8,284.8 L105.8,285.2 L105.8,285.5 L105.8,285.8 L105.7,286.1 L105.7,286.5 L105.7,286.8 L105.7,287.1 L105.7,287.5 L105.7,287.8 L105.6,288.1 L105.6,288.5 L105.6,288.8 L105.6,289.1 L105.6,289.5 L105.6,289.8 L105.5,290.1 L105.5,290.5 L105.5,290.8 L105.5,291.1 L105.5,291.5 L105.5,291.8 L105.5,291.8 L105.5,291.5 L105.5,291.1 L105.5,290.8 L105.5,290.5 L105.5,290.1 L105.4,289.8 L105.4,289.5 L105.4,289.1 L105.4,288.8 L105.4,288.5 L105.4,288.1 L105.3,287.8 L105.3,287.5 L105.3,287.1 L105.3,286.8 L105.3,286.5 L105.3,286.1 L105.2,285.8 L105.2,285.5 L105.2,285.2 L105.2,284.8 L105.1,284.5 L105.1,284.2 L105.1,283.8 L105.0,283.5 L105.0,283.2 L105.0,282.8 L104.9,282.5 L104.9,282.2 L104.8,281.8 L104.7,281.5 L104.7,281.2 L104.6,280.8 L104.5,280.5 L104.4,280.2 L104.3,279.8 L104.2,279.5 L104.1,279.2 L103.9,278.8 L103.8,278.5 L103.7,278.2 L103.5,277.8 L103.4,277.5 L103.2,277.2 L103.0,276.8 L102.8,276.5 L102.6,276.2 L102.4,275.8 L102.2,275.5 L102.0,275.2 L101.8,274.8 L101.5,274.5 L101.3,274.2 L101.0,273.8 L100.8,273.5 L100.5,273.2 L100.2,272.9 L99.8,272.5 L99.5,272.2 L99.2,271.9 L98.9,271.5 L98.5,271.2 L98.2,270.9 L97.9,270.5 L97.5,270.2 L97.2,269.9 L96.9,269.5 L96.6,269.2 L96.3,268.9 L95.9,268.5 L95.6,268.2 L95.3,267.9 L94.9,267.5 L94.6,267.2 L94.3,266.9 L93.9,266.5 L93.6,266.2 L93.2,265.9 L92.8,265.5 L92.5,265.2 L92.1,264.9 L91.7,264.5 L91.3,264.2 L90.9,263.9 L90.5,263.5 L90.1,263.2 L89.7,262.9 L89.3,262.5 L89.0,262.2 L88.6,261.9 L88.3,261.5 L87.9,261.2 L87.5,260.9 L87.1,260.5 L86.7,260.2 L86.3,259.9 L86.0,259.6 L85.6,259.2 L85.3,258.9 L85.1,258.6 L84.9,258.2 L84.8,257.9 L84.7,257.6 L84.6,257.2 L84.6,256.9 L84.5,256.6 L84.4,256.2 L84.4,255.9 L84.4,255.6 L84.4,255.2 L84.4,254.9 L84.4,254.6 L84.5,254.2 L84.6,253.9 L84.7,253.6 L84.9,253.2 L85.0,252.9 L85.1,252.6 L85.2,252.2 L85.3,251.9 L85.3,251.6 L85.4,251.2 L85.5,250.9 L85.5,250.6 L85.6,250.2 L85.6,249.9 L85.7,249.6 L85.7,249.2 L85.8,248.9 L85.9,248.6 L86.0,248.2 L86.0,247.9 L86.1,247.6 L86.2,247.3 L86.3,246.9 L86.4,246.6 L86.6,246.3 L86.7,245.9 L86.8,245.6 L86.9,245.3 L87.0,244.9 L87.2,244.6 L87.3,244.3 L87.4,243.9 L87.5,243.6 L87.7,243.3 L87.8,242.9 L88.0,242.6 L88.1,242.3 L88.2,241.9 L88.4,241.6 L88.5,241.3 L88.7,240.9 L88.9,240.6 L89.0,240.3 L89.2,239.9 L89.3,239.6 L89.5,239.3 L89.7,238.9 L89.9,238.6 L90.0,238.3 L90.2,237.9 L90.4,237.6 L90.6,237.3 L90.8,236.9 L91.0,236.6 L91.2,236.3 L91.4,235.9 L91.7,235.6 L91.9,235.3 L92.2,235.0 L92.5,234.6 L92.8,234.3 L93.1,234.0 L93.4,233.6 L93.7,233.3 L94.1,233.0 L94.4,232.6 L94.7,232.3 L95.0,232.0 L95.3,231.6 L95.6,231.3 L96.0,231.0 L96.3,230.6 L96.6,230.3 L97.0,230.0 L97.3,229.6 L97.6,229.3 L97.9,229.0 L98.3,228.6 L98.5,228.3 L98.8,228.0 L99.1,227.6 L99.3,227.3 L99.5,227.0 L99.7,226.6 L99.9,226.3 L100.1,226.0 L100.3,225.6 L100.5,225.3 L100.6,225.0 L100.8,224.6 L101.0,224.3 L101.1,224.0 L101.3,223.6 L101.4,223.3 L101.5,223.0 L101.7,222.6 L101.8,222.3 L101.9,222.0 L102.0,221.7 L102.1,221.3 L102.2,221.0 L102.3,220.7 L102.4,220.3 L102.4,220.0 L102.5,219.7 L102.6,219.3 L102.7,219.0 L102.8,218.7 L102.8,218.3 L102.9,218.0 L103.0,217.7 L103.1,217.3 L103.2,217.0 L103.2,216.7 L103.3,216.3 L103.4,216.0 L103.5,215.7 L103.6,215.3 L103.6,215.0 L103.7,214.7 L103.8,214.3 L103.9,214.0 L104.0,213.7 L104.1,213.3 L104.2,213.0 L104.3,212.7 L104.4,212.3 L104.5,212.0 L104.6,211.7 L104.7,211.3 L104.7,211.0 L104.8,210.7 L104.9,210.3 L104.9,210.0 L105.0,209.7 L105.0,209.4 L105.1,209.0 L105.1,208.7 L105.2,208.4 L105.2,208.0 L105.2,207.7 L105.3,207.4 L105.3,207.0 L105.3,206.7 L105.3,206.4 L105.4,206.0 L105.4,205.7 L105.4,205.4 L105.4,205.0 L105.5,204.7 L105.5,204.4 L105.5,204.0 L105.5,203.7 Z" fill="#00BFC4" stroke="#333333" stroke-width="0.75" stroke-linejoin="round"/>
<line x1="105.50" y1="219.90" x2="105.50" y2="241.10" stroke="#333333" stroke-width="0.75"/>
<line x1="105.50" y1="259.90" x2="105.50" y2="274.40" stroke="#333333" stroke-width="0.75"/>
<rect x="100.70" y="241.10" width="9.60" height="18.80" fill="#00BFC4" stroke="#333333" stroke-width="0.75"/>
<line x1="100.70" y1="251.80" x2="110.30" y2="251.80" stroke="#333333" stroke-width="1.3"/>
<path d="M159.5,177.8 L159.5,178.1 L159.5,178.5 L159.5,178.8 L159.6,179.1 L159.6,179.5 L159.6,179.8 L159.6,180.1 L159.6,180.5 L159.6,180.8 L159.7,181.1 L159.7,181.5 L159.7,181.8 L159.7,182.1 L159.7,182.5 L159.7,182.8 L159.7,183.1 L159.8,183.5 L159.8,183.8 L159.8,184.1 L159.8,184.5 L159.8,184.8 L159.8,185.1 L159.8,185.5 L159.8,185.8 L159.9,186.1 L159.9,186.5 L159.9,186.8 L159.9,187.1 L159.9,187.5 L159.9,187.8 L160.0,188.1 L160.0,188.5 L160.0,188.8 L160.0,189.1 L160.0,189.4 L160.1,189.8 L160.1,190.1 L160.1,190.4 L160.1,190.8 L160.1,191.1 L160.2,191.4 L160.2,191.8 L160.2,192.1 L160.2,192.4 L160.3,192.8 L160.3,193.1 L160.3,193.4 L160.3,193.8 L160.4,194.1 L160.4,194.4 L160.4,194.8 L160.5,195.1 L160.5,195.4 L160.5,195.8 L160.6,196.1 L160.6,196.4 L160.6,196.8 L160.7,197.1 L160.7,197.4 L160.7,197.8 L160.8,198.1 L160.8,198.4 L160.9,198.8 L160.9,199.1 L161.0,199.4 L161.0,199.8 L161.1,200.1 L161.2,200.4 L161.2,200.8 L161.3,201.1 L161.4,201.4 L161.5,201.8 L161.5,202.1 L161.6,202.4 L161.7,202.8 L161.8,203.1 L161.9,203.4 L162.0,203.8 L162.1,204.1 L162.2,204.4 L162.3,204.8 L162.4,205.1 L162.5,205.4 L162.6,205.8 L162.8,206.1 L162.9,206.4 L163.0,206.8 L163.2,207.1 L163.3,207.4 L163.5,207.8 L163.6,208.1 L163.8,208.4 L164.0,208.8 L164.2,209.1 L164.4,209.4 L164.6,209.8 L164.8,210.1 L165.0,210.4 L165.2,210.7 L165.4,211.1 L165.5,211.4 L165.7,211.7 L165.9,212.1 L166.1,212.4 L166.3,212.7 L166.5,213.1 L166.7,213.4 L166.9,213.7 L167.1,214.1 L167.3,214.4 L167.5,214.7 L167.7,215.1 L167.8,215.4 L168.0,215.7 L168.2,216.1 L168.4,216.4 L168.6,216.7 L168.7,217.1 L168.9,217.4 L169.1,217.7 L169.3,218.1 L169.4,218.4 L169.6,218.7 L169.7,219.1 L169.9,219.4 L170.0,219.7 L170.2,220.1 L170.3,220.4 L170.4,220.7 L170.6,221.1 L170.7,221.4 L170.8,221.7 L170.9,222.1 L171.0,222.4 L171.1,222.7 L171.2,223.1 L171.3,223.4 L171.4,223.7 L171.5,224.1 L171.6,224.4 L171.7,224.7 L171.8,225.1 L171.9,225.4 L172.0,225.7 L172.1,226.1 L172.1,226.4 L172.2,226.7 L172.3,227.1 L172.4,227.4 L172.4,227.7 L172.5,228.1 L172.6,228.4 L172.6,228.7 L172.7,229.1 L172.7,229.4 L172.8,229.7 L172.8,230.1 L172.9,230.4 L172.9,230.7 L173.0,231.1 L173.1,231.4 L173.1,231.7 L173.2,232.0 L173.2,232.4 L173.3,232.7 L173.4,233.0 L173.5,233.4 L173.6,233.7 L173.7,234.0 L173.8,234.4 L173.9,234.7 L174.0,235.0 L174.0,235.4 L174.1,235.7 L174.1,236.0 L174.1,236.4 L174.2,236.7 L174.2,237.0 L174.3,237.4 L174.3,237.7 L174.3,238.0 L174.4,238.4 L174.4,238.7 L174.4,239.0 L174.5,239.4 L174.5,239.7 L174.6,240.0 L174.6,240.4 L174.6,240.7 L174.7,241.0 L174.7,241.4 L174.8,241.7 L174.8,242.0 L174.8,242.4 L174.8,242.7 L174.8,243.0 L174.8,243.4 L174.8,243.7 L174.8,244.0 L174.8,244.4 L174.7,244.7 L174.6,245.0 L174.6,245.4 L174.5,245.7 L174.4,246.0 L174.3,246.4 L174.2,246.7 L174.2,247.0 L174.1,247.4 L174.0,247.7 L173.9,248.0 L173.9,248.4 L173.8,248.7 L173.7,249.0 L173.7,249.4 L173.6,249.7 L173.5,250.0 L173.5,250.4 L173.4,250.7 L173.3,251.0 L173.2,251.4 L173.1,251.7 L173.0,252.0 L172.9,252.4 L172.8,252.7 L172.7,253.0 L172.6,253.3 L172.5,253.7 L172.4,254.0 L172.3,254.3 L172.2,254.7 L172.0,255.0 L171.9,255.3 L171.8,255.7 L171.7,256.0 L171.5,256.3 L171.4,256.7 L171.2,257.0 L171.1,257.3 L170.9,257.7 L170.8,258.0 L170.6,258.3 L170.5,258.7 L170.3,259.0 L170.2,259.3 L170.0,259.7 L169.8,260.0 L169.7,260.3 L169.5,260.7 L169.4,261.0 L169.2,261.3 L169.1,261.7 L168.9,262.0 L168.8,262.3 L168.6,262.7 L168.4,263.0 L168.3,263.3 L168.1,263.7 L167.9,264.0 L167.7,264.3 L167.5,264.7 L167.3,265.0 L167.1,265.3 L166.9,265.7 L166.7,266.0 L166.5,266.3 L166.3,266.7 L166.1,267.0 L165.9,267.3 L165.6,267.7 L165.4,268.0 L165.2,268.3 L164.9,268.7 L164.7,269.0 L164.4,269.3 L164.1,269.7 L163.9,270.0 L163.6,270.3 L163.3,270.7 L163.0,271.0 L162.8,271.3 L162.5,271.7 L162.3,272.0 L162.1,272.3 L161.9,272.7 L161.7,273.0 L161.6,273.3 L161.4,273.7 L161.3,274.0 L161.1,274.3 L161.0,274.6 L160.9,275.0 L160.8,275.3 L160.7,275.6 L160.6,276.0 L160.5,276.3 L160.4,276.6 L160.3,277.0 L160.2,277.3 L160.1,277.6 L160.1,278.0 L160.0,278.3 L159.9,278.6 L159.9,279.0 L159.8,279.3 L159.8,279.6 L159.8,280.0 L159.7,280.3 L159.7,280.6 L159.7,281.0 L159.7,281.3 L159.6,281.6 L159.6,282.0 L159.6,282.3 L159.6,282.6 L159.6,283.0 L159.5,283.3 L159.5,283.6 L159.5,284.0 L159.5,284.3 L159.5,284.6 L159.5,285.0 L159.5,285.3 L159.5,285.3 L159.5,285.0 L159.5,284.6 L159.5,284.3 L159.5,284.0 L159.5,283.6 L159.5,283.3 L159.4,283.0 L159.4,282.6 L159.4,282.3 L159.4,282.0 L159.4,281.6 L159.3,281.3 L159.3,281.0 L159.3,280.6 L159.3,280.3 L159.2,280.0 L159.2,279.6 L159.2,279.3 L159.1,279.0 L159.1,278.6 L159.0,278.3 L158.9,278.0 L158.9,277.6 L158.8,277.3 L158.7,277.0 L158.6,276.6 L158.5,276.3 L158.4,276.0 L158.3,275.6 L158.2,275.3 L158.1,275.0 L158.0,274.6 L157.9,274.3 L157.7,274.0 L157.6,273.7 L157.4,273.3 L157.3,273.0 L157.1,272.7 L156.9,272.3 L156.7,272.0 L156.5,271.7 L156.2,271.3 L156.0,271.0 L155.7,270.7 L155.4,270.3 L155.1,270.0 L154.9,269.7 L154.6,269.3 L154.3,269.0 L154.1,268.7 L153.8,268.3 L153.6,268.0 L153.4,267.7 L153.1,267.3 L152.9,267.0 L152.7,266.7 L152.5,266.3 L152.3,266.0 L152.1,265.7 L151.9,265.3 L151.7,265.0 L151.5,264.7 L151.3,264.3 L151.1,264.0 L150.9,263.7 L150.7,263.3 L150.6,263.0 L150.4,262.7 L150.2,262.3 L150.1,262.0 L149.9,261.7 L149.8,261.3 L149.6,261.0 L149.5,260.7 L149.3,260.3 L149.2,260.0 L149.0,259.7 L148.8,259.3 L148.7,259.0 L148.5,258.7 L148.4,258.3 L148.2,258.0 L148.1,257.7 L147.9,257.3 L147.8,257.0 L147.6,256.7 L147.5,256.3 L147.3,256.0 L147.2,255.7 L147.1,255.3 L147.0,255.0 L146.8,254.7 L146.7,254.3 L146.6,254.0 L146.5,253.7 L146.4,253.3 L146.3,253.0 L146.2,252.7 L146.1,252.4 L146.0,252.0 L145.9,251.7 L145.8,251.4 L145.7,251.0 L145.6,250.7 L145.5,250.4 L145.5,250.0 L145.4,249.7 L145.3,249.4 L145.3,249.0 L145.2,248.7 L145.1,248.4 L145.1,248.0 L145.0,247.7 L144.9,247.4 L144.8,247.0 L144.8,246.7 L144.7,246.4 L144.6,246.0 L144.5,245.7 L144.4,245.4 L144.4,245.0 L144.3,244.7 L144.2,244.4 L144.2,244.0 L144.2,243.7 L144.2,243.4 L144.2,243.0 L144.2,242.7 L144.2,242.4 L144.2,242.0 L144.2,241.7 L144.3,241.4 L144.3,241.0 L144.4,240.7 L144.4,240.4 L144.4,240.0 L144.5,239.7 L144.5,239.4 L144.6,239.0 L144.6,238.7 L144.6,238.4 L144.7,238.0 L144.7,237.7 L144.7,237.4 L144.8,237.0 L144.8,236.7 L144.9,236.4 L144.9,236.0 L144.9,235.7 L145.0,235.4 L145.0,235.0 L145.1,234.7 L145.2,234.4 L145.3,234.0 L145.4,233.7 L145.5,233.4 L145.6,233.0 L145.7,232.7 L145.8,232.4 L145.8,232.0 L145.9,231.7 L145.9,231.4 L146.0,231.1 L146.1,230.7 L146.1,230.4 L146.2,230.1 L146.2,229.7 L146.3,229.4 L146.3,229.1 L146.4,228.7 L146.4,228.4 L146.5,228.1 L146.6,227.7 L146.6,227.4 L146.7,227.1 L146.8,226.7 L146.9,226.4 L146.9,226.1 L147.0,225.7 L147.1,225.4 L147.2,225.1 L147.3,224.7 L147.4,224.4 L147.5,224.1 L147.6,223.7 L147.7,223.4 L147.8,223.1 L147.9,222.7 L148.0,222.4 L148.1,222.1 L148.2,221.7 L148.3,221.4 L148.4,221.1 L148.6,220.7 L148.7,220.4 L148.8,220.1 L149.0,219.7 L149.1,219.4 L149.3,219.1 L149.4,218.7 L149.6,218.4 L149.7,218.1 L149.9,217.7 L150.1,217.4 L150.3,217.1 L150.4,216.7 L150.6,216.4 L150.8,216.1 L151.0,215.7 L151.2,215.4 L151.3,215.1 L151.5,214.7 L151.7,214.4 L151.9,214.1 L152.1,213.7 L152.3,213.4 L152.5,213.1 L152.7,212.7 L152.9,212.4 L153.1,212.1 L153.3,211.7 L153.5,211.4 L153.6,211.1 L153.8,210.7 L154.0,210.4 L154.2,210.1 L154.4,209.8 L154.6,209.4 L154.8,209.1 L155.0,208.8 L155.2,208.4 L155.4,208.1 L155.5,207.8 L155.7,207.4 L155.8,207.1 L156.0,206.8 L156.1,206.4 L156.2,206.1 L156.4,205.8 L156.5,205.4 L156.6,205.1 L156.7,204.8 L156.8,204.4 L156.9,204.1 L157.0,203.8 L157.1,203.4 L157.2,203.1 L157.3,202.8 L157.4,202.4 L157.5,202.1 L157.5,201.8 L157.6,201.4 L157.7,201.1 L157.8,200.8 L157.8,200.4 L157.9,200.1 L158.0,199.8 L158.0,199.4 L158.1,199.1 L158.1,198.8 L158.2,198.4 L158.2,198.1 L158.3,197.8 L158.3,197.4 L158.3,197.1 L158.4,196.8 L158.4,196.4 L158.4,196.1 L158.5,195.8 L158.5,195.4 L158.5,195.1 L158.6,194.8 L158.6,194.4 L158.6,194.1 L158.7,193.8 L158.7,193.4 L158.7,193.1 L158.7,192.8 L158.8,192.4 L158.8,192.1 L158.8,191.8 L158.8,191.4 L158.9,191.1 L158.9,190.8 L158.9,190.4 L158.9,190.1 L158.9,189.8 L159.0,189.4 L159.0,189.1 L159.0,188.8 L159.0,188.5 L159.0,188.1 L159.1,187.8 L159.1,187.5 L159.1,187.1 L159.1,186.8 L159.1,186.5 L159.1,186.1 L159.2,185.8 L159.2,185.5 L159.2,185.1 L159.2,184.8 L159.2,184.5 L159.2,184.1 L159.2,183.8 L159.2,183.5 L159.3,183.1 L159.3,182.8 L159.3,182.5 L159.3,182.1 L159.3,181.8 L159.3,181.5 L159.3,181.1 L159.4,180.8 L159.4,180.5 L159.4,180.1 L159.4,179.8 L159.4,179.5 L159.4,179.1 L159.5,178.8 L159.5,178.5 L159.5,178.1 L159.5,177.8 Z" fill="#F8766D" stroke="#333333" stroke-width="0.75" stroke-linejoin="round"/>
<line x1="159.50" y1="201.30" x2="159.50" y2="227.60" stroke="#333333" stroke-width="0.75"/>
<line x1="159.50" y1="255.50" x2="159.50" y2="265.50" stroke="#333333" stroke-width="0.75"/>
<rect x="154.70" y="227.60" width="9.60" height="27.90" fill="#F8766D" stroke="#333333" stroke-width="0.75"/>
<line x1="154.70" y1="241.20" x2="164.30" y2="241.20" stroke="#333333" stroke-width="1.3"/>
<path d="M203.8,191.0 L203.8,191.3 L203.8,191.7 L203.9,192.0 L203.9,192.3 L203.9,192.7 L203.9,193.0 L203.9,193.3 L203.9,193.7 L204.0,194.0 L204.0,194.3 L204.0,194.7 L204.0,195.0 L204.0,195.3 L204.0,195.7 L204.0,196.0 L204.0,196.3 L204.1,196.7 L204.1,197.0 L204.1,197.3 L204.1,197.7 L204.1,198.0 L204.1,198.3 L204.1,198.7 L204.1,199.0 L204.2,199.3 L204.2,199.7 L204.2,200.0 L204.3,200.3 L204.4,200.7 L204.5,201.0 L204.6,201.3 L204.7,201.6 L204.8,202.0 L204.9,202.3 L205.0,202.6 L205.1,203.0 L205.2,203.3 L205.2,203.6 L205.3,204.0 L205.4,204.3 L205.5,204.6 L205.6,205.0 L205.6,205.3 L205.7,205.6 L205.8,206.0 L205.9,206.3 L206.0,206.6 L206.0,207.0 L206.1,207.3 L206.2,207.6 L206.3,208.0 L206.3,208.3 L206.4,208.6 L206.5,209.0 L206.5,209.3 L206.6,209.6 L206.7,210.0 L206.7,210.3 L206.8,210.6 L206.9,211.0 L207.0,211.3 L207.1,211.6 L207.1,212.0 L207.2,212.3 L207.3,212.6 L207.4,213.0 L207.6,213.3 L207.7,213.6 L207.8,214.0 L207.9,214.3 L208.0,214.6 L208.1,215.0 L208.3,215.3 L208.4,215.6 L208.5,216.0 L208.6,216.3 L208.8,216.6 L208.9,217.0 L209.1,217.3 L209.2,217.6 L209.3,218.0 L209.5,218.3 L209.6,218.6 L209.8,219.0 L209.9,219.3 L210.1,219.6 L210.2,220.0 L210.4,220.3 L210.5,220.6 L210.7,220.9 L210.8,221.3 L210.9,221.6 L211.1,221.9 L211.2,222.3 L211.4,222.6 L211.5,222.9 L211.7,223.3 L211.8,223.6 L212.0,223.9 L212.1,224.3 L212.3,224.6 L212.4,224.9 L212.6,225.3 L212.8,225.6 L212.9,225.9 L213.1,226.3 L213.2,226.6 L213.4,226.9 L213.6,227.3 L213.7,227.6 L213.9,227.9 L214.0,228.3 L214.2,228.6 L214.3,228.9 L214.5,229.3 L214.7,229.6 L214.8,229.9 L215.0,230.3 L215.1,230.6 L215.3,230.9 L215.4,231.3 L215.5,231.6 L215.7,231.9 L215.8,232.3 L215.9,232.6 L216.0,232.9 L216.1,233.3 L216.2,233.6 L216.3,233.9 L216.4,234.3 L216.5,234.6 L216.6,234.9 L216.7,235.3 L216.9,235.6 L217.0,235.9 L217.2,236.3 L217.4,236.6 L217.5,236.9 L217.7,237.3 L217.9,237.6 L218.1,237.9 L218.2,238.3 L218.4,238.6 L218.5,238.9 L218.7,239.3 L218.8,239.6 L218.9,239.9 L219.0,240.2 L219.2,240.6 L219.3,240.9 L219.4,241.2 L219.5,241.6 L219.6,241.9 L219.7,242.2 L219.8,242.6 L219.9,242.9 L219.9,243.2 L220.0,243.6 L220.1,243.9 L220.1,244.2 L220.2,244.6 L220.3,244.9 L220.3,245.2 L220.4,245.6 L220.4,245.9 L220.5,246.2 L220.5,246.6 L220.5,246.9 L220.5,247.2 L220.5,247.6 L220.5,247.9 L220.5,248.2 L220.5,248.6 L220.4,248.9 L220.4,249.2 L220.3,249.6 L220.2,249.9 L220.2,250.2 L220.1,250.6 L220.0,250.9 L219.9,251.2 L219.9,251.6 L219.8,251.9 L219.7,252.2 L219.6,252.6 L219.5,252.9 L219.4,253.2 L219.2,253.6 L219.1,253.9 L219.0,254.2 L218.8,254.6 L218.7,254.9 L218.6,255.2 L218.4,255.6 L218.3,255.9 L218.2,256.2 L218.1,256.6 L217.9,256.9 L217.8,257.2 L217.7,257.6 L217.5,257.9 L217.4,258.2 L217.3,258.6 L217.1,258.9 L217.0,259.2 L216.8,259.5 L216.7,259.9 L216.6,260.2 L216.4,260.5 L216.3,260.9 L216.1,261.2 L216.0,261.5 L215.8,261.9 L215.7,262.2 L215.5,262.5 L215.3,262.9 L215.1,263.2 L215.0,263.5 L214.8,263.9 L214.6,264.2 L214.4,264.5 L214.1,264.9 L213.9,265.2 L213.7,265.5 L213.4,265.9 L213.1,266.2 L212.9,266.5 L212.6,266.9 L212.3,267.2 L212.0,267.5 L211.8,267.9 L211.5,268.2 L211.3,268.5 L211.0,268.9 L210.8,269.2 L210.5,269.5 L210.2,269.9 L210.0,270.2 L209.7,270.5 L209.5,270.9 L209.2,271.2 L209.0,271.5 L208.7,271.9 L208.5,272.2 L208.3,272.5 L208.0,272.9 L207.8,273.2 L207.6,273.5 L207.3,273.9 L207.1,274.2 L206.9,274.5 L206.7,274.9 L206.5,275.2 L206.3,275.5 L206.2,275.9 L206.0,276.2 L205.9,276.5 L205.8,276.9 L205.6,277.2 L205.5,277.5 L205.4,277.9 L205.3,278.2 L205.2,278.5 L205.1,278.8 L205.0,279.2 L204.9,279.5 L204.8,279.8 L204.7,280.2 L204.6,280.5 L204.5,280.8 L204.5,281.2 L204.4,281.5 L204.3,281.8 L204.3,282.2 L204.2,282.5 L204.2,282.8 L204.1,283.2 L204.1,283.5 L204.1,283.8 L204.0,284.2 L204.0,284.5 L204.0,284.8 L203.9,285.2 L203.9,285.5 L203.9,285.8 L203.9,286.2 L203.9,286.5 L203.8,286.8 L203.8,287.2 L203.8,287.5 L203.8,287.8 L203.8,288.2 L203.8,288.5 L203.8,288.5 L203.8,288.2 L203.8,287.8 L203.8,287.5 L203.8,287.2 L203.8,286.8 L203.7,286.5 L203.7,286.2 L203.7,285.8 L203.7,285.5 L203.7,285.2 L203.6,284.8 L203.6,284.5 L203.6,284.2 L203.5,283.8 L203.5,283.5 L203.5,283.2 L203.4,282.8 L203.4,282.5 L203.3,282.2 L203.3,281.8 L203.2,281.5 L203.1,281.2 L203.1,280.8 L203.0,280.5 L202.9,280.2 L202.8,279.8 L202.7,279.5 L202.6,279.2 L202.5,278.8 L202.4,278.5 L202.3,278.2 L202.2,277.9 L202.1,277.5 L202.0,277.2 L201.8,276.9 L201.7,276.5 L201.6,276.2 L201.4,275.9 L201.3,275.5 L201.1,275.2 L200.9,274.9 L200.7,274.5 L200.5,274.2 L200.3,273.9 L200.0,273.5 L199.8,273.2 L199.6,272.9 L199.3,272.5 L199.1,272.2 L198.9,271.9 L198.6,271.5 L198.4,271.2 L198.1,270.9 L197.9,270.5 L197.6,270.2 L197.4,269.9 L197.1,269.5 L196.8,269.2 L196.6,268.9 L196.3,268.5 L196.1,268.2 L195.8,267.9 L195.6,267.5 L195.3,267.2 L195.0,266.9 L194.7,266.5 L194.5,266.2 L194.2,265.9 L193.9,265.5 L193.7,265.2 L193.5,264.9 L193.2,264.5 L193.0,264.2 L192.8,263.9 L192.6,263.5 L192.5,263.2 L192.3,262.9 L192.1,262.5 L191.9,262.2 L191.8,261.9 L191.6,261.5 L191.5,261.2 L191.3,260.9 L191.2,260.5 L191.0,260.2 L190.9,259.9 L190.8,259.5 L190.6,259.2 L190.5,258.9 L190.3,258.6 L190.2,258.2 L190.1,257.9 L189.9,257.6 L189.8,257.2 L189.7,256.9 L189.5,256.6 L189.4,256.2 L189.3,255.9 L189.2,255.6 L189.0,255.2 L188.9,254.9 L188.8,254.6 L188.6,254.2 L188.5,253.9 L188.4,253.6 L188.2,253.2 L188.1,252.9 L188.0,252.6 L187.9,252.2 L187.8,251.9 L187.7,251.6 L187.7,251.2 L187.6,250.9 L187.5,250.6 L187.4,250.2 L187.4,249.9 L187.3,249.6 L187.2,249.2 L187.2,248.9 L187.1,248.6 L187.1,248.2 L187.1,247.9 L187.1,247.6 L187.1,247.2 L187.1,246.9 L187.1,246.6 L187.1,246.2 L187.2,245.9 L187.2,245.6 L187.3,245.2 L187.3,244.9 L187.4,244.6 L187.5,244.2 L187.5,243.9 L187.6,243.6 L187.7,243.2 L187.7,242.9 L187.8,242.6 L187.9,242.2 L188.0,241.9 L188.1,241.6 L188.2,241.2 L188.3,240.9 L188.4,240.6 L188.6,240.2 L188.7,239.9 L188.8,239.6 L188.9,239.3 L189.1,238.9 L189.2,238.6 L189.4,238.3 L189.5,237.9 L189.7,237.6 L189.9,237.3 L190.1,236.9 L190.2,236.6 L190.4,236.3 L190.6,235.9 L190.7,235.6 L190.9,235.3 L191.0,234.9 L191.1,234.6 L191.2,234.3 L191.3,233.9 L191.4,233.6 L191.5,233.3 L191.6,232.9 L191.7,232.6 L191.8,232.3 L191.9,231.9 L192.1,231.6 L192.2,231.3 L192.3,230.9 L192.5,230.6 L192.6,230.3 L192.8,229.9 L192.9,229.6 L193.1,229.3 L193.3,228.9 L193.4,228.6 L193.6,228.3 L193.7,227.9 L193.9,227.6 L194.0,227.3 L194.2,226.9 L194.4,226.6 L194.5,226.3 L194.7,225.9 L194.8,225.6 L195.0,225.3 L195.2,224.9 L195.3,224.6 L195.5,224.3 L195.6,223.9 L195.8,223.6 L195.9,223.3 L196.1,222.9 L196.2,222.6 L196.4,222.3 L196.5,221.9 L196.7,221.6 L196.8,221.3 L196.9,220.9 L197.1,220.6 L197.2,220.3 L197.4,220.0 L197.5,219.6 L197.7,219.3 L197.8,219.0 L198.0,218.6 L198.1,218.3 L198.3,218.0 L198.4,217.6 L198.5,217.3 L198.7,217.0 L198.8,216.6 L199.0,216.3 L199.1,216.0 L199.2,215.6 L199.3,215.3 L199.5,215.0 L199.6,214.6 L199.7,214.3 L199.8,214.0 L199.9,213.6 L200.0,213.3 L200.2,213.0 L200.3,212.6 L200.4,212.3 L200.5,212.0 L200.5,211.6 L200.6,211.3 L200.7,211.0 L200.8,210.6 L200.9,210.3 L200.9,210.0 L201.0,209.6 L201.1,209.3 L201.1,209.0 L201.2,208.6 L201.3,208.3 L201.3,208.0 L201.4,207.6 L201.5,207.3 L201.6,207.0 L201.6,206.6 L201.7,206.3 L201.8,206.0 L201.9,205.6 L202.0,205.3 L202.0,205.0 L202.1,204.6 L202.2,204.3 L202.3,204.0 L202.4,203.6 L202.4,203.3 L202.5,203.0 L202.6,202.6 L202.7,202.3 L202.8,202.0 L202.9,201.6 L203.0,201.3 L203.1,201.0 L203.2,200.7 L203.3,200.3 L203.4,200.0 L203.4,199.7 L203.4,199.3 L203.5,199.0 L203.5,198.7 L203.5,198.3 L203.5,198.0 L203.5,197.7 L203.5,197.3 L203.5,197.0 L203.5,196.7 L203.6,196.3 L203.6,196.0 L203.6,195.7 L203.6,195.3 L203.6,195.0 L203.6,194.7 L203.6,194.3 L203.6,194.0 L203.7,193.7 L203.7,193.3 L203.7,193.0 L203.7,192.7 L203.7,192.3 L203.7,192.0 L203.8,191.7 L203.8,191.3 L203.8,191.0 Z" fill="#00BFC4" stroke="#333333" stroke-width="0.75" stroke-linejoin="round"/>
<line x1="203.80" y1="208.90" x2="203.80" y2="236.10" stroke="#333333" stroke-width="0.75"/>
<line x1="203.80" y1="260.00" x2="203.80" y2="269.00" stroke="#333333" stroke-width="0.75"/>
<rect x="199.00" y="236.10" width="9.60" height="23.90" fill="#00BFC4" stroke="#333333" stroke-width="0.75"/>
<line x1="199.00" y1="246.80" x2="208.60" y2="246.80" stroke="#333333" stroke-width="1.3"/>
<path d="M258.3,191.0 L258.3,191.3 L258.3,191.7 L258.3,192.0 L258.3,192.3 L258.3,192.7 L258.4,193.0 L258.4,193.3 L258.4,193.7 L258.4,194.0 L258.4,194.3 L258.5,194.7 L258.5,195.0 L258.5,195.3 L258.5,195.7 L258.6,196.0 L258.6,196.3 L258.6,196.6 L258.6,197.0 L258.7,197.3 L258.7,197.6 L258.8,198.0 L258.8,198.3 L258.8,198.6 L258.9,199.0 L258.9,199.3 L259.0,199.6 L259.0,200.0 L259.1,200.3 L259.2,200.6 L259.2,201.0 L259.3,201.3 L259.3,201.6 L259.4,202.0 L259.5,202.3 L259.5,202.6 L259.6,203.0 L259.7,203.3 L259.8,203.6 L259.9,204.0 L259.9,204.3 L260.0,204.6 L260.1,204.9 L260.2,205.3 L260.4,205.6 L260.5,205.9 L260.6,206.3 L260.8,206.6 L260.9,206.9 L261.1,207.3 L261.3,207.6 L261.4,207.9 L261.6,208.3 L261.7,208.6 L261.9,208.9 L262.0,209.3 L262.1,209.6 L262.3,209.9 L262.4,210.3 L262.5,210.6 L262.6,210.9 L262.8,211.3 L262.9,211.6 L263.0,211.9 L263.2,212.3 L263.3,212.6 L263.4,212.9 L263.6,213.3 L263.7,213.6 L263.9,213.9 L264.1,214.2 L264.2,214.6 L264.4,214.9 L264.5,215.2 L264.7,215.6 L264.9,215.9 L265.1,216.2 L265.3,216.6 L265.5,216.9 L265.8,217.2 L266.0,217.6 L266.3,217.9 L266.5,218.2 L266.7,218.6 L267.0,218.9 L267.2,219.2 L267.4,219.6 L267.6,219.9 L267.8,220.2 L268.0,220.6 L268.2,220.9 L268.4,221.2 L268.6,221.6 L268.8,221.9 L269.0,222.2 L269.2,222.6 L269.3,222.9 L269.5,223.2 L269.7,223.6 L269.9,223.9 L270.0,224.2 L270.2,224.5 L270.4,224.9 L270.5,225.2 L270.7,225.5 L270.8,225.9 L271.0,226.2 L271.1,226.5 L271.3,226.9 L271.4,227.2 L271.6,227.5 L271.7,227.9 L271.8,228.2 L272.0,228.5 L272.1,228.9 L272.2,229.2 L272.4,229.5 L272.5,229.9 L272.6,230.2 L272.7,230.5 L272.8,230.9 L272.9,231.2 L273.0,231.5 L273.1,231.9 L273.2,232.2 L273.3,232.5 L273.4,232.8 L273.4,233.2 L273.5,233.5 L273.6,233.8 L273.7,234.2 L273.8,234.5 L273.8,234.8 L273.9,235.2 L274.0,235.5 L274.1,235.8 L274.1,236.2 L274.2,236.5 L274.3,236.8 L274.3,237.2 L274.4,237.5 L274.5,237.8 L274.5,238.2 L274.6,238.5 L274.7,238.8 L274.7,239.2 L274.8,239.5 L274.9,239.8 L274.9,240.2 L275.0,240.5 L275.0,240.8 L275.1,241.2 L275.1,241.5 L275.2,241.8 L275.3,242.2 L275.3,242.5 L275.4,242.8 L275.4,243.1 L275.5,243.5 L275.5,243.8 L275.6,244.1 L275.7,244.5 L275.8,244.8 L275.8,245.1 L275.9,245.5 L276.0,245.8 L276.0,246.1 L276.1,246.5 L276.2,246.8 L276.2,247.1 L276.2,247.5 L276.2,247.8 L276.2,248.1 L276.2,248.5 L276.2,248.8 L276.2,249.1 L276.1,249.5 L276.1,249.8 L276.0,250.1 L275.9,250.5 L275.8,250.8 L275.7,251.1 L275.6,251.4 L275.5,251.8 L275.4,252.1 L275.3,252.4 L275.1,252.8 L275.0,253.1 L274.9,253.4 L274.7,253.8 L274.6,254.1 L274.5,254.4 L274.3,254.8 L274.2,255.1 L274.0,255.4 L273.8,255.8 L273.7,256.1 L273.5,256.4 L273.2,256.8 L273.0,257.1 L272.8,257.4 L272.5,257.8 L272.3,258.1 L272.0,258.4 L271.8,258.8 L271.5,259.1 L271.3,259.4 L271.0,259.8 L270.7,260.1 L270.4,260.4 L270.2,260.8 L269.9,261.1 L269.6,261.4 L269.4,261.7 L269.1,262.1 L268.8,262.4 L268.5,262.7 L268.2,263.1 L267.9,263.4 L267.6,263.7 L267.3,264.1 L267.0,264.4 L266.6,264.7 L266.3,265.1 L266.0,265.4 L265.7,265.7 L265.3,266.1 L265.0,266.4 L264.7,266.7 L264.4,267.1 L264.1,267.4 L263.8,267.7 L263.5,268.1 L263.2,268.4 L262.9,268.7 L262.7,269.1 L262.4,269.4 L262.2,269.7 L262.0,270.1 L261.7,270.4 L261.5,270.7 L261.3,271.0 L261.1,271.4 L260.8,271.7 L260.6,272.0 L260.4,272.4 L260.2,272.7 L260.0,273.0 L259.8,273.4 L259.6,273.7 L259.5,274.0 L259.3,274.4 L259.2,274.7 L259.1,275.0 L259.0,275.4 L258.9,275.7 L258.8,276.0 L258.8,276.4 L258.8,276.7 L258.7,277.0 L258.7,277.4 L258.7,277.7 L258.6,278.0 L258.6,278.4 L258.6,278.7 L258.5,279.0 L258.5,279.4 L258.5,279.7 L258.4,280.0 L258.4,280.3 L258.4,280.7 L258.4,281.0 L258.4,281.3 L258.4,281.7 L258.3,282.0 L258.3,282.3 L258.3,282.7 L258.3,283.0 L258.3,283.3 L258.3,283.7 L258.3,284.0 L258.3,284.0 L258.3,283.7 L258.3,283.3 L258.3,283.0 L258.3,282.7 L258.3,282.3 L258.3,282.0 L258.2,281.7 L258.2,281.3 L258.2,281.0 L258.2,280.7 L258.2,280.3 L258.2,280.0 L258.1,279.7 L258.1,279.4 L258.1,279.0 L258.0,278.7 L258.0,278.4 L258.0,278.0 L257.9,277.7 L257.9,277.4 L257.9,277.0 L257.8,276.7 L257.8,276.4 L257.8,276.0 L257.7,275.7 L257.6,275.4 L257.5,275.0 L257.4,274.7 L257.3,274.4 L257.1,274.0 L257.0,273.7 L256.8,273.4 L256.6,273.0 L256.4,272.7 L256.2,272.4 L256.0,272.0 L255.8,271.7 L255.5,271.4 L255.3,271.0 L255.1,270.7 L254.9,270.4 L254.6,270.1 L254.4,269.7 L254.2,269.4 L253.9,269.1 L253.7,268.7 L253.4,268.4 L253.1,268.1 L252.8,267.7 L252.5,267.4 L252.2,267.1 L251.9,266.7 L251.6,266.4 L251.3,266.1 L250.9,265.7 L250.6,265.4 L250.3,265.1 L250.0,264.7 L249.6,264.4 L249.3,264.1 L249.0,263.7 L248.7,263.4 L248.4,263.1 L248.1,262.7 L247.8,262.4 L247.5,262.1 L247.2,261.7 L247.0,261.4 L246.7,261.1 L246.4,260.8 L246.2,260.4 L245.9,260.1 L245.6,259.8 L245.3,259.4 L245.1,259.1 L244.8,258.8 L244.6,258.4 L244.3,258.1 L244.1,257.8 L243.8,257.4 L243.6,257.1 L243.4,256.8 L243.1,256.4 L242.9,256.1 L242.8,255.8 L242.6,255.4 L242.4,255.1 L242.3,254.8 L242.1,254.4 L242.0,254.1 L241.9,253.8 L241.7,253.4 L241.6,253.1 L241.5,252.8 L241.3,252.4 L241.2,252.1 L241.1,251.8 L241.0,251.4 L240.9,251.1 L240.8,250.8 L240.7,250.5 L240.6,250.1 L240.5,249.8 L240.5,249.5 L240.4,249.1 L240.4,248.8 L240.4,248.5 L240.4,248.1 L240.4,247.8 L240.4,247.5 L240.4,247.1 L240.4,246.8 L240.5,246.5 L240.6,246.1 L240.6,245.8 L240.7,245.5 L240.8,245.1 L240.8,244.8 L240.9,244.5 L241.0,244.1 L241.1,243.8 L241.1,243.5 L241.2,243.1 L241.2,242.8 L241.3,242.5 L241.3,242.2 L241.4,241.8 L241.5,241.5 L241.5,241.2 L241.6,240.8 L241.6,240.5 L241.7,240.2 L241.7,239.8 L241.8,239.5 L241.9,239.2 L241.9,238.8 L242.0,238.5 L242.1,238.2 L242.1,237.8 L242.2,237.5 L242.3,237.2 L242.3,236.8 L242.4,236.5 L242.5,236.2 L242.5,235.8 L242.6,235.5 L242.7,235.2 L242.8,234.8 L242.8,234.5 L242.9,234.2 L243.0,233.8 L243.1,233.5 L243.2,233.2 L243.2,232.8 L243.3,232.5 L243.4,232.2 L243.5,231.9 L243.6,231.5 L243.7,231.2 L243.8,230.9 L243.9,230.5 L244.0,230.2 L244.1,229.9 L244.2,229.5 L244.4,229.2 L244.5,228.9 L244.6,228.5 L244.8,228.2 L244.9,227.9 L245.0,227.5 L245.2,227.2 L245.3,226.9 L245.5,226.5 L245.6,226.2 L245.8,225.9 L245.9,225.5 L246.1,225.2 L246.2,224.9 L246.4,224.5 L246.6,224.2 L246.7,223.9 L246.9,223.6 L247.1,223.2 L247.3,222.9 L247.4,222.6 L247.6,222.2 L247.8,221.9 L248.0,221.6 L248.2,221.2 L248.4,220.9 L248.6,220.6 L248.8,220.2 L249.0,219.9 L249.2,219.6 L249.4,219.2 L249.6,218.9 L249.9,218.6 L250.1,218.2 L250.3,217.9 L250.6,217.6 L250.8,217.2 L251.1,216.9 L251.3,216.6 L251.5,216.2 L251.7,215.9 L251.9,215.6 L252.1,215.2 L252.2,214.9 L252.4,214.6 L252.5,214.2 L252.7,213.9 L252.9,213.6 L253.0,213.3 L253.2,212.9 L253.3,212.6 L253.4,212.3 L253.6,211.9 L253.7,211.6 L253.8,211.3 L254.0,210.9 L254.1,210.6 L254.2,210.3 L254.3,209.9 L254.5,209.6 L254.6,209.3 L254.7,208.9 L254.9,208.6 L255.0,208.3 L255.2,207.9 L255.3,207.6 L255.5,207.3 L255.7,206.9 L255.8,206.6 L256.0,206.3 L256.1,205.9 L256.2,205.6 L256.4,205.3 L256.5,204.9 L256.6,204.6 L256.7,204.3 L256.7,204.0 L256.8,203.6 L256.9,203.3 L257.0,203.0 L257.1,202.6 L257.1,202.3 L257.2,202.0 L257.3,201.6 L257.3,201.3 L257.4,201.0 L257.4,200.6 L257.5,200.3 L257.6,200.0 L257.6,199.6 L257.7,199.3 L257.7,199.0 L257.8,198.6 L257.8,198.3 L257.8,198.0 L257.9,197.6 L257.9,197.3 L258.0,197.0 L258.0,196.6 L258.0,196.3 L258.0,196.0 L258.1,195.7 L258.1,195.3 L258.1,195.0 L258.1,194.7 L258.2,194.3 L258.2,194.0 L258.2,193.7 L258.2,193.3 L258.2,193.0 L258.3,192.7 L258.3,192.3 L258.3,192.0 L258.3,191.7 L258.3,191.3 L258.3,191.0 Z" fill="#F8766D" stroke="#333333" stroke-width="0.75" stroke-linejoin="round"/>
<line x1="258.30" y1="208.90" x2="258.30" y2="231.40" stroke="#333333" stroke-width="0.75"/>
<line x1="258.30" y1="252.20" x2="258.30" y2="266.70" stroke="#333333" stroke-width="0.75"/>
<rect x="253.50" y="231.40" width="9.60" height="20.80" fill="#F8766D" stroke="#333333" stroke-width="0.75"/>
<line x1="253.50" y1="243.20" x2="263.10" y2="243.20" stroke="#333333" stroke-width="1.3"/>
<path d="M302.3,208.9 L302.3,209.2 L302.4,209.6 L302.4,209.9 L302.4,210.2 L302.4,210.6 L302.5,210.9 L302.5,211.2 L302.6,211.6 L302.6,211.9 L302.6,212.2 L302.7,212.6 L302.7,212.9 L302.8,213.2 L302.8,213.6 L302.9,213.9 L302.9,214.2 L303.0,214.6 L303.1,214.9 L303.1,215.2 L303.2,215.6 L303.3,215.9 L303.3,216.2 L303.4,216.6 L303.5,216.9 L303.6,217.2 L303.7,217.6 L303.8,217.9 L303.9,218.2 L304.0,218.6 L304.1,218.9 L304.2,219.2 L304.3,219.6 L304.4,219.9 L304.5,220.2 L304.7,220.6 L304.9,220.9 L305.1,221.2 L305.3,221.6 L305.5,221.9 L305.7,222.2 L305.9,222.6 L306.1,222.9 L306.3,223.2 L306.5,223.6 L306.7,223.9 L306.9,224.2 L307.1,224.6 L307.3,224.9 L307.5,225.2 L307.6,225.6 L307.8,225.9 L308.0,226.2 L308.2,226.6 L308.3,226.9 L308.5,227.2 L308.6,227.6 L308.8,227.9 L308.9,228.2 L309.0,228.6 L309.2,228.9 L309.3,229.2 L309.4,229.5 L309.5,229.9 L309.6,230.2 L309.7,230.5 L309.8,230.9 L309.9,231.2 L310.0,231.5 L310.1,231.9 L310.2,232.2 L310.3,232.5 L310.4,232.9 L310.6,233.2 L310.7,233.5 L310.8,233.9 L311.0,234.2 L311.1,234.5 L311.3,234.9 L311.5,235.2 L311.6,235.5 L311.8,235.9 L312.0,236.2 L312.2,236.5 L312.4,236.9 L312.6,237.2 L312.8,237.5 L313.0,237.9 L313.3,238.2 L313.5,238.5 L313.8,238.9 L314.1,239.2 L314.4,239.5 L314.7,239.9 L315.0,240.2 L315.2,240.5 L315.5,240.9 L315.8,241.2 L316.1,241.5 L316.3,241.9 L316.6,242.2 L316.8,242.5 L317.0,242.9 L317.3,243.2 L317.5,243.5 L317.7,243.9 L318.0,244.2 L318.2,244.5 L318.4,244.9 L318.6,245.2 L318.8,245.5 L319.0,245.9 L319.2,246.2 L319.4,246.5 L319.6,246.9 L319.8,247.2 L320.0,247.5 L320.1,247.9 L320.3,248.2 L320.5,248.5 L320.6,248.9 L320.8,249.2 L320.9,249.5 L321.1,249.9 L321.2,250.2 L321.4,250.5 L321.5,250.9 L321.6,251.2 L321.7,251.5 L321.8,251.9 L322.0,252.2 L322.1,252.5 L322.2,252.9 L322.2,253.2 L322.3,253.5 L322.4,253.9 L322.5,254.2 L322.6,254.5 L322.7,254.9 L322.8,255.2 L322.9,255.5 L323.0,255.9 L323.1,256.2 L323.3,256.5 L323.4,256.9 L323.6,257.2 L323.7,257.5 L323.9,257.9 L324.0,258.2 L324.0,258.5 L324.0,258.9 L324.0,259.2 L324.0,259.5 L324.0,259.9 L323.9,260.2 L323.8,260.5 L323.7,260.9 L323.6,261.2 L323.5,261.5 L323.4,261.9 L323.3,262.2 L323.1,262.5 L323.0,262.9 L322.8,263.2 L322.6,263.5 L322.3,263.9 L322.1,264.2 L321.8,264.5 L321.5,264.9 L321.1,265.2 L320.8,265.5 L320.5,265.9 L320.2,266.2 L319.8,266.5 L319.5,266.9 L319.1,267.2 L318.7,267.5 L318.3,267.9 L317.9,268.2 L317.5,268.5 L317.1,268.9 L316.7,269.2 L316.3,269.5 L315.8,269.8 L315.4,270.2 L315.0,270.5 L314.6,270.8 L314.1,271.2 L313.7,271.5 L313.2,271.8 L312.8,272.2 L312.3,272.5 L311.9,272.8 L311.4,273.2 L311.0,273.5 L310.6,273.8 L310.2,274.2 L309.8,274.5 L309.3,274.8 L308.9,275.2 L308.5,275.5 L308.1,275.8 L307.7,276.2 L307.3,276.5 L307.0,276.8 L306.6,277.2 L306.3,277.5 L306.0,277.8 L305.7,278.2 L305.4,278.5 L305.2,278.8 L304.9,279.2 L304.6,279.5 L304.4,279.8 L304.1,280.2 L303.9,280.5 L303.7,280.8 L303.6,281.2 L303.5,281.5 L303.4,281.8 L303.3,282.2 L303.2,282.5 L303.1,282.8 L303.0,283.2 L302.9,283.5 L302.8,283.8 L302.8,284.2 L302.7,284.5 L302.7,284.8 L302.6,285.2 L302.6,285.5 L302.6,285.8 L302.5,286.2 L302.5,286.5 L302.4,286.8 L302.4,287.2 L302.4,287.5 L302.4,287.8 L302.3,288.2 L302.3,288.5 L302.3,288.8 L302.3,289.2 L302.3,289.5 L302.3,289.5 L302.3,289.2 L302.3,288.8 L302.3,288.5 L302.3,288.2 L302.2,287.8 L302.2,287.5 L302.2,287.2 L302.2,286.8 L302.1,286.5 L302.1,286.2 L302.0,285.8 L302.0,285.5 L302.0,285.2 L301.9,284.8 L301.9,284.5 L301.8,284.2 L301.8,283.8 L301.7,283.5 L301.6,283.2 L301.5,282.8 L301.4,282.5 L301.3,282.2 L301.2,281.8 L301.1,281.5 L301.0,281.2 L300.9,280.8 L300.7,280.5 L300.5,280.2 L300.2,279.8 L300.0,279.5 L299.7,279.2 L299.4,278.8 L299.2,278.5 L298.9,278.2 L298.6,277.8 L298.3,277.5 L298.0,277.2 L297.6,276.8 L297.3,276.5 L296.9,276.2 L296.5,275.8 L296.1,275.5 L295.7,275.2 L295.3,274.8 L294.8,274.5 L294.4,274.2 L294.0,273.8 L293.6,273.5 L293.2,273.2 L292.7,272.8 L292.3,272.5 L291.8,272.2 L291.4,271.8 L290.9,271.5 L290.5,271.2 L290.0,270.8 L289.6,270.5 L289.2,270.2 L288.8,269.8 L288.3,269.5 L287.9,269.2 L287.5,268.9 L287.1,268.5 L286.7,268.2 L286.3,267.9 L285.9,267.5 L285.5,267.2 L285.1,266.9 L284.8,266.5 L284.4,266.2 L284.1,265.9 L283.8,265.5 L283.5,265.2 L283.1,264.9 L282.8,264.5 L282.5,264.2 L282.3,263.9 L282.0,263.5 L281.8,263.2 L281.6,262.9 L281.5,262.5 L281.3,262.2 L281.2,261.9 L281.1,261.5 L281.0,261.2 L280.9,260.9 L280.8,260.5 L280.7,260.2 L280.6,259.9 L280.6,259.5 L280.6,259.2 L280.6,258.9 L280.6,258.5 L280.6,258.2 L280.7,257.9 L280.9,257.5 L281.0,257.2 L281.2,256.9 L281.3,256.5 L281.5,256.2 L281.6,255.9 L281.7,255.5 L281.8,255.2 L281.9,254.9 L282.0,254.5 L282.1,254.2 L282.2,253.9 L282.3,253.5 L282.4,253.2 L282.4,252.9 L282.5,252.5 L282.6,252.2 L282.8,251.9 L282.9,251.5 L283.0,251.2 L283.1,250.9 L283.2,250.5 L283.4,250.2 L283.5,249.9 L283.7,249.5 L283.8,249.2 L284.0,248.9 L284.1,248.5 L284.3,248.2 L284.5,247.9 L284.6,247.5 L284.8,247.2 L285.0,246.9 L285.2,246.5 L285.4,246.2 L285.6,245.9 L285.8,245.5 L286.0,245.2 L286.2,244.9 L286.4,244.5 L286.6,244.2 L286.9,243.9 L287.1,243.5 L287.3,243.2 L287.6,242.9 L287.8,242.5 L288.0,242.2 L288.3,241.9 L288.5,241.5 L288.8,241.2 L289.1,240.9 L289.4,240.5 L289.6,240.2 L289.9,239.9 L290.2,239.5 L290.5,239.2 L290.8,238.9 L291.1,238.5 L291.3,238.2 L291.6,237.9 L291.8,237.5 L292.0,237.2 L292.2,236.9 L292.4,236.5 L292.6,236.2 L292.8,235.9 L293.0,235.5 L293.1,235.2 L293.3,234.9 L293.5,234.5 L293.6,234.2 L293.8,233.9 L293.9,233.5 L294.0,233.2 L294.2,232.9 L294.3,232.5 L294.4,232.2 L294.5,231.9 L294.6,231.5 L294.7,231.2 L294.8,230.9 L294.9,230.5 L295.0,230.2 L295.1,229.9 L295.2,229.5 L295.3,229.2 L295.4,228.9 L295.6,228.6 L295.7,228.2 L295.8,227.9 L296.0,227.6 L296.1,227.2 L296.3,226.9 L296.4,226.6 L296.6,226.2 L296.8,225.9 L297.0,225.6 L297.1,225.2 L297.3,224.9 L297.5,224.6 L297.7,224.2 L297.9,223.9 L298.1,223.6 L298.3,223.2 L298.5,222.9 L298.7,222.6 L298.9,222.2 L299.1,221.9 L299.3,221.6 L299.5,221.2 L299.7,220.9 L299.9,220.6 L300.1,220.2 L300.2,219.9 L300.3,219.6 L300.4,219.2 L300.5,218.9 L300.6,218.6 L300.7,218.2 L300.8,217.9 L300.9,217.6 L301.0,217.2 L301.1,216.9 L301.2,216.6 L301.3,216.2 L301.3,215.9 L301.4,215.6 L301.5,215.2 L301.5,214.9 L301.6,214.6 L301.7,214.2 L301.7,213.9 L301.8,213.6 L301.8,213.2 L301.9,212.9 L301.9,212.6 L302.0,212.2 L302.0,211.9 L302.0,211.6 L302.1,211.2 L302.1,210.9 L302.2,210.6 L302.2,210.2 L302.2,209.9 L302.2,209.6 L302.3,209.2 L302.3,208.9 Z" fill="#00BFC4" stroke="#333333" stroke-width="0.75" stroke-linejoin="round"/>
<line x1="302.30" y1="224.20" x2="302.30" y2="246.60" stroke="#333333" stroke-width="0.75"/>
<line x1="302.30" y1="262.90" x2="302.30" y2="274.20" stroke="#333333" stroke-width="0.75"/>
<rect x="297.50" y="246.60" width="9.60" height="16.30" fill="#00BFC4" stroke="#333333" stroke-width="0.75"/>
<line x1="297.50" y1="254.80" x2="307.10" y2="254.80" stroke="#333333" stroke-width="1.3"/>
<path d="M369.60,17.80 V142.30 H685.50" fill="none" stroke="#4a4a4a" stroke-width="1.0" stroke-linecap="round" stroke-linejoin="round"/>
<line x1="368.00" y1="24.30" x2="369.60" y2="24.30" stroke="#333" stroke-width="0.9"/>
<text x="366.90" y="26.25" font-size="5.60" text-anchor="end" fill="#3a3a3a" stroke="#3a3a3a" stroke-width="0.10" font-weight="normal" >1.25</text>
<line x1="368.00" y1="50.30" x2="369.60" y2="50.30" stroke="#333" stroke-width="0.9"/>
<text x="366.90" y="52.25" font-size="5.60" text-anchor="end" fill="#3a3a3a" stroke="#3a3a3a" stroke-width="0.10" font-weight="normal" >1.00</text>
<line x1="368.00" y1="76.30" x2="369.60" y2="76.30" stroke="#333" stroke-width="0.9"/>
<text x="366.90" y="78.25" font-size="5.60" text-anchor="end" fill="#3a3a3a" stroke="#3a3a3a" stroke-width="0.10" font-weight="normal" >0.75</text>
<line x1="368.00" y1="102.30" x2="369.60" y2="102.30" stroke="#333" stroke-width="0.9"/>
<text x="366.90" y="104.25" font-size="5.60" text-anchor="end" fill="#3a3a3a" stroke="#3a3a3a" stroke-width="0.10" font-weight="normal" >0.50</text>
<line x1="368.00" y1="128.30" x2="369.60" y2="128.30" stroke="#333" stroke-width="0.9"/>
<text x="366.90" y="130.25" font-size="5.60" text-anchor="end" fill="#3a3a3a" stroke="#3a3a3a" stroke-width="0.10" font-weight="normal" >0.25</text>
<line x1="414.60" y1="142.30" x2="414.60" y2="143.90" stroke="#333" stroke-width="0.9"/>
<text x="414.60" y="149.80" font-size="5.60" text-anchor="middle" fill="#3a3a3a" stroke="#3a3a3a" stroke-width="0.10" font-weight="normal" >YC2017 + YC2018</text>
<line x1="489.60" y1="142.30" x2="489.60" y2="143.90" stroke="#333" stroke-width="0.9"/>
<text x="489.60" y="149.80" font-size="5.60" text-anchor="middle" fill="#3a3a3a" stroke="#3a3a3a" stroke-width="0.10" font-weight="normal" >YC2016N + YC2017 +</text>
<text x="489.60" y="155.85" font-size="5.60" text-anchor="middle" fill="#3a3a3a" stroke="#3a3a3a" stroke-width="0.10" font-weight="normal" >YC2018</text>
<line x1="564.90" y1="142.30" x2="564.90" y2="143.90" stroke="#333" stroke-width="0.9"/>
<text x="564.90" y="149.80" font-size="5.60" text-anchor="middle" fill="#3a3a3a" stroke="#3a3a3a" stroke-width="0.10" font-weight="normal" >YC2016F + YC2017 +</text>
<text x="564.90" y="155.85" font-size="5.60" text-anchor="middle" fill="#3a3a3a" stroke="#3a3a3a" stroke-width="0.10" font-weight="normal" >YC2018</text>
<line x1="640.20" y1="142.30" x2="640.20" y2="143.90" stroke="#333" stroke-width="0.9"/>
<text x="640.20" y="149.80" font-size="5.60" text-anchor="middle" fill="#3a3a3a" stroke="#3a3a3a" stroke-width="0.10" font-weight="normal" >YC2016N + YC2016F +</text>
<text x="640.20" y="155.85" font-size="5.60" text-anchor="middle" fill="#3a3a3a" stroke="#3a3a3a" stroke-width="0.10" font-weight="normal" >YC2017 + YC2018</text>
<text x="527.55" y="164.20" font-size="7.05" text-anchor="middle" fill="#000" stroke="#000" stroke-width="0.07" font-weight="normal" >reference set</text>
<text x="351.00" y="79.80" font-size="7.05" text-anchor="middle" fill="#000" stroke="#000" stroke-width="0.07" font-weight="normal" transform="rotate(-90 351.00 79.80)">accuracy</text>
<text x="345.70" y="24.10" font-size="9.50" text-anchor="start" fill="#000" stroke="#000" stroke-width="0.00" font-weight="bold" >c</text>
<path d="M397.6,24.0 L397.6,24.3 L397.6,24.7 L397.6,25.0 L397.6,25.3 L397.6,25.7 L397.6,26.0 L397.6,26.3 L397.6,26.7 L397.6,27.0 L397.7,27.3 L397.7,27.7 L397.7,28.0 L397.7,28.3 L397.7,28.7 L397.7,29.0 L397.7,29.3 L397.8,29.7 L397.8,30.0 L397.8,30.3 L397.8,30.7 L397.8,31.0 L397.9,31.3 L397.9,31.7 L397.9,32.0 L397.9,32.3 L398.0,32.6 L398.0,33.0 L398.0,33.3 L398.0,33.6 L398.1,34.0 L398.1,34.3 L398.1,34.6 L398.1,35.0 L398.2,35.3 L398.2,35.6 L398.3,36.0 L398.4,36.3 L398.4,36.6 L398.5,37.0 L398.6,37.3 L398.7,37.6 L398.8,38.0 L398.9,38.3 L399.0,38.6 L399.1,39.0 L399.2,39.3 L399.3,39.6 L399.4,40.0 L399.5,40.3 L399.6,40.6 L399.7,41.0 L399.8,41.3 L399.9,41.6 L400.1,42.0 L400.2,42.3 L400.3,42.6 L400.4,43.0 L400.5,43.3 L400.7,43.6 L400.8,44.0 L400.9,44.3 L401.1,44.6 L401.2,45.0 L401.3,45.3 L401.5,45.6 L401.6,46.0 L401.7,46.3 L401.9,46.6 L402.0,47.0 L402.1,47.3 L402.3,47.6 L402.4,48.0 L402.5,48.3 L402.7,48.6 L402.8,49.0 L402.9,49.3 L403.1,49.6 L403.2,49.9 L403.4,50.3 L403.5,50.6 L403.7,50.9 L403.8,51.3 L404.0,51.6 L404.1,51.9 L404.3,52.3 L404.5,52.6 L404.6,52.9 L404.8,53.3 L405.0,53.6 L405.1,53.9 L405.3,54.3 L405.5,54.6 L405.6,54.9 L405.8,55.3 L406.0,55.6 L406.2,55.9 L406.4,56.3 L406.6,56.6 L406.8,56.9 L407.0,57.3 L407.2,57.6 L407.3,57.9 L407.6,58.3 L407.8,58.6 L408.0,58.9 L408.2,59.3 L408.4,59.6 L408.6,59.9 L408.9,60.3 L409.1,60.6 L409.2,60.9 L409.4,61.3 L409.6,61.6 L409.8,61.9 L409.9,62.3 L410.1,62.6 L410.3,62.9 L410.4,63.3 L410.6,63.6 L410.7,63.9 L410.8,64.3 L411.0,64.6 L411.1,64.9 L411.2,65.3 L411.3,65.6 L411.4,65.9 L411.5,66.3 L411.6,66.6 L411.7,66.9 L411.8,67.2 L411.8,67.6 L411.9,67.9 L412.0,68.2 L412.1,68.6 L412.2,68.9 L412.2,69.2 L412.3,69.6 L412.4,69.9 L412.5,70.2 L412.6,70.6 L412.6,70.9 L412.7,71.2 L412.8,71.6 L412.8,71.9 L412.8,72.2 L412.8,72.6 L412.9,72.9 L412.9,73.2 L412.9,73.6 L412.9,73.9 L412.9,74.2 L412.9,74.6 L412.9,74.9 L412.8,75.2 L412.8,75.6 L412.8,75.9 L412.8,76.2 L412.8,76.6 L412.7,76.9 L412.7,77.2 L412.6,77.6 L412.6,77.9 L412.5,78.2 L412.5,78.6 L412.4,78.9 L412.4,79.2 L412.3,79.6 L412.2,79.9 L412.1,80.2 L412.0,80.6 L411.9,80.9 L411.8,81.2 L411.8,81.6 L411.7,81.9 L411.6,82.2 L411.5,82.6 L411.5,82.9 L411.4,83.2 L411.4,83.5 L411.4,83.9 L411.3,84.2 L411.3,84.5 L411.2,84.9 L411.2,85.2 L411.2,85.5 L411.1,85.9 L411.1,86.2 L411.0,86.5 L411.0,86.9 L410.9,87.2 L410.8,87.5 L410.8,87.9 L410.7,88.2 L410.6,88.5 L410.6,88.9 L410.5,89.2 L410.4,89.5 L410.4,89.9 L410.3,90.2 L410.2,90.5 L410.2,90.9 L410.1,91.2 L410.0,91.5 L410.0,91.9 L409.9,92.2 L409.8,92.5 L409.7,92.9 L409.6,93.2 L409.5,93.5 L409.4,93.9 L409.3,94.2 L409.2,94.5 L409.1,94.9 L408.9,95.2 L408.8,95.5 L408.7,95.9 L408.5,96.2 L408.4,96.5 L408.2,96.9 L408.0,97.2 L407.9,97.5 L407.7,97.9 L407.6,98.2 L407.4,98.5 L407.2,98.9 L407.0,99.2 L406.9,99.5 L406.7,99.9 L406.5,100.2 L406.3,100.5 L406.1,100.8 L405.9,101.2 L405.7,101.5 L405.5,101.8 L405.3,102.2 L405.1,102.5 L404.9,102.8 L404.7,103.2 L404.5,103.5 L404.3,103.8 L404.1,104.2 L403.9,104.5 L403.7,104.8 L403.5,105.2 L403.3,105.5 L403.1,105.8 L402.8,106.2 L402.6,106.5 L402.4,106.8 L402.2,107.2 L401.9,107.5 L401.7,107.8 L401.5,108.2 L401.3,108.5 L401.1,108.8 L400.9,109.2 L400.7,109.5 L400.5,109.8 L400.3,110.2 L400.1,110.5 L399.9,110.8 L399.7,111.2 L399.5,111.5 L399.4,111.8 L399.2,112.2 L399.1,112.5 L399.0,112.8 L398.9,113.2 L398.8,113.5 L398.7,113.8 L398.6,114.2 L398.5,114.5 L398.4,114.8 L398.3,115.2 L398.3,115.5 L398.2,115.8 L398.2,116.2 L398.1,116.5 L398.1,116.8 L398.0,117.2 L398.0,117.5 L398.0,117.8 L398.0,118.1 L397.9,118.5 L397.9,118.8 L397.9,119.1 L397.9,119.5 L397.9,119.8 L397.8,120.1 L397.8,120.5 L397.8,120.8 L397.8,121.1 L397.8,121.5 L397.8,121.8 L397.7,122.1 L397.7,122.5 L397.7,122.8 L397.7,123.1 L397.7,123.5 L397.7,123.8 L397.7,124.1 L397.6,124.5 L397.6,124.8 L397.6,125.1 L397.6,125.5 L397.6,125.8 L397.6,125.8 L397.6,125.5 L397.6,125.1 L397.6,124.8 L397.6,124.5 L397.5,124.1 L397.5,123.8 L397.5,123.5 L397.5,123.1 L397.5,122.8 L397.5,122.5 L397.5,122.1 L397.4,121.8 L397.4,121.5 L397.4,121.1 L397.4,120.8 L397.4,120.5 L397.4,120.1 L397.3,119.8 L397.3,119.5 L397.3,119.1 L397.3,118.8 L397.3,118.5 L397.2,118.1 L397.2,117.8 L397.2,117.5 L397.2,117.2 L397.1,116.8 L397.1,116.5 L397.0,116.2 L397.0,115.8 L396.9,115.5 L396.9,115.2 L396.8,114.8 L396.7,114.5 L396.6,114.2 L396.5,113.8 L396.4,113.5 L396.3,113.2 L396.2,112.8 L396.1,112.5 L396.0,112.2 L395.8,111.8 L395.7,111.5 L395.5,111.2 L395.3,110.8 L395.1,110.5 L394.9,110.2 L394.7,109.8 L394.5,109.5 L394.3,109.2 L394.1,108.8 L393.9,108.5 L393.7,108.2 L393.5,107.8 L393.3,107.5 L393.0,107.2 L392.8,106.8 L392.6,106.5 L392.4,106.2 L392.1,105.8 L391.9,105.5 L391.7,105.2 L391.5,104.8 L391.3,104.5 L391.1,104.2 L390.9,103.8 L390.7,103.5 L390.5,103.2 L390.3,102.8 L390.1,102.5 L389.9,102.2 L389.7,101.8 L389.5,101.5 L389.3,101.2 L389.1,100.8 L388.9,100.5 L388.7,100.2 L388.5,99.9 L388.3,99.5 L388.2,99.2 L388.0,98.9 L387.8,98.5 L387.6,98.2 L387.5,97.9 L387.3,97.5 L387.2,97.2 L387.0,96.9 L386.8,96.5 L386.7,96.2 L386.5,95.9 L386.4,95.5 L386.3,95.2 L386.1,94.9 L386.0,94.5 L385.9,94.2 L385.8,93.9 L385.7,93.5 L385.6,93.2 L385.5,92.9 L385.4,92.5 L385.3,92.2 L385.2,91.9 L385.2,91.5 L385.1,91.2 L385.0,90.9 L385.0,90.5 L384.9,90.2 L384.8,89.9 L384.8,89.5 L384.7,89.2 L384.6,88.9 L384.6,88.5 L384.5,88.2 L384.4,87.9 L384.4,87.5 L384.3,87.2 L384.2,86.9 L384.2,86.5 L384.1,86.2 L384.1,85.9 L384.0,85.5 L384.0,85.2 L384.0,84.9 L383.9,84.5 L383.9,84.2 L383.8,83.9 L383.8,83.5 L383.8,83.2 L383.7,82.9 L383.7,82.6 L383.6,82.2 L383.5,81.9 L383.4,81.6 L383.4,81.2 L383.3,80.9 L383.2,80.6 L383.1,80.2 L383.0,79.9 L382.9,79.6 L382.8,79.2 L382.8,78.9 L382.7,78.6 L382.7,78.2 L382.6,77.9 L382.6,77.6 L382.5,77.2 L382.5,76.9 L382.4,76.6 L382.4,76.2 L382.4,75.9 L382.4,75.6 L382.4,75.2 L382.4,74.9 L382.4,74.6 L382.4,74.2 L382.4,73.9 L382.4,73.6 L382.4,73.2 L382.4,72.9 L382.4,72.6 L382.4,72.2 L382.4,71.9 L382.4,71.6 L382.5,71.2 L382.6,70.9 L382.6,70.6 L382.7,70.2 L382.8,69.9 L382.9,69.6 L383.0,69.2 L383.0,68.9 L383.1,68.6 L383.2,68.2 L383.3,67.9 L383.4,67.6 L383.4,67.2 L383.5,66.9 L383.6,66.6 L383.7,66.3 L383.8,65.9 L383.9,65.6 L384.0,65.3 L384.1,64.9 L384.2,64.6 L384.4,64.3 L384.5,63.9 L384.6,63.6 L384.8,63.3 L384.9,62.9 L385.1,62.6 L385.3,62.3 L385.4,61.9 L385.6,61.6 L385.8,61.3 L386.0,60.9 L386.1,60.6 L386.3,60.3 L386.6,59.9 L386.8,59.6 L387.0,59.3 L387.2,58.9 L387.4,58.6 L387.6,58.3 L387.9,57.9 L388.0,57.6 L388.2,57.3 L388.4,56.9 L388.6,56.6 L388.8,56.3 L389.0,55.9 L389.2,55.6 L389.4,55.3 L389.6,54.9 L389.7,54.6 L389.9,54.3 L390.1,53.9 L390.2,53.6 L390.4,53.3 L390.6,52.9 L390.7,52.6 L390.9,52.3 L391.1,51.9 L391.2,51.6 L391.4,51.3 L391.5,50.9 L391.7,50.6 L391.8,50.3 L392.0,49.9 L392.1,49.6 L392.3,49.3 L392.4,49.0 L392.5,48.6 L392.7,48.3 L392.8,48.0 L392.9,47.6 L393.1,47.3 L393.2,47.0 L393.3,46.6 L393.5,46.3 L393.6,46.0 L393.7,45.6 L393.9,45.3 L394.0,45.0 L394.1,44.6 L394.3,44.3 L394.4,44.0 L394.5,43.6 L394.7,43.3 L394.8,43.0 L394.9,42.6 L395.0,42.3 L395.1,42.0 L395.3,41.6 L395.4,41.3 L395.5,41.0 L395.6,40.6 L395.7,40.3 L395.8,40.0 L395.9,39.6 L396.0,39.3 L396.1,39.0 L396.2,38.6 L396.3,38.3 L396.4,38.0 L396.5,37.6 L396.6,37.3 L396.7,37.0 L396.8,36.6 L396.8,36.3 L396.9,36.0 L397.0,35.6 L397.0,35.3 L397.1,35.0 L397.1,34.6 L397.1,34.3 L397.1,34.0 L397.2,33.6 L397.2,33.3 L397.2,33.0 L397.2,32.6 L397.3,32.3 L397.3,32.0 L397.3,31.7 L397.3,31.3 L397.4,31.0 L397.4,30.7 L397.4,30.3 L397.4,30.0 L397.4,29.7 L397.5,29.3 L397.5,29.0 L397.5,28.7 L397.5,28.3 L397.5,28.0 L397.5,27.7 L397.5,27.3 L397.6,27.0 L397.6,26.7 L397.6,26.3 L397.6,26.0 L397.6,25.7 L397.6,25.3 L397.6,25.0 L397.6,24.7 L397.6,24.3 L397.6,24.0 Z" fill="#F8766D" stroke="#333333" stroke-width="0.75" stroke-linejoin="round"/>
<line x1="397.60" y1="44.40" x2="397.60" y2="67.90" stroke="#333333" stroke-width="0.75"/>
<line x1="397.60" y1="90.30" x2="397.60" y2="106.30" stroke="#333333" stroke-width="0.75"/>
<rect x="393.85" y="67.90" width="7.50" height="22.40" fill="#F8766D" stroke="#333333" stroke-width="0.75"/>
<line x1="393.85" y1="76.90" x2="401.35" y2="76.90" stroke="#333333" stroke-width="1.3"/>
<path d="M431.5,25.2 L431.5,25.5 L431.5,25.9 L431.5,26.2 L431.5,26.5 L431.5,26.9 L431.5,27.2 L431.5,27.5 L431.5,27.9 L431.5,28.2 L431.6,28.5 L431.6,28.9 L431.6,29.2 L431.6,29.5 L431.6,29.9 L431.6,30.2 L431.6,30.5 L431.7,30.9 L431.7,31.2 L431.7,31.5 L431.7,31.9 L431.7,32.2 L431.8,32.5 L431.8,32.8 L431.8,33.2 L431.8,33.5 L431.9,33.8 L431.9,34.2 L431.9,34.5 L431.9,34.8 L432.0,35.2 L432.0,35.5 L432.1,35.8 L432.1,36.2 L432.2,36.5 L432.3,36.8 L432.4,37.2 L432.5,37.5 L432.6,37.8 L432.7,38.2 L432.9,38.5 L433.0,38.8 L433.1,39.2 L433.2,39.5 L433.3,39.8 L433.4,40.2 L433.6,40.5 L433.7,40.8 L433.8,41.2 L433.9,41.5 L434.1,41.8 L434.2,42.2 L434.3,42.5 L434.5,42.8 L434.6,43.2 L434.7,43.5 L434.9,43.8 L435.0,44.2 L435.2,44.5 L435.3,44.8 L435.4,45.2 L435.6,45.5 L435.7,45.8 L435.9,46.2 L436.0,46.5 L436.2,46.8 L436.3,47.1 L436.5,47.5 L436.7,47.8 L436.8,48.1 L437.0,48.5 L437.2,48.8 L437.3,49.1 L437.5,49.5 L437.7,49.8 L437.8,50.1 L438.0,50.5 L438.1,50.8 L438.3,51.1 L438.5,51.5 L438.6,51.8 L438.8,52.1 L439.0,52.5 L439.1,52.8 L439.3,53.1 L439.5,53.5 L439.7,53.8 L439.8,54.1 L440.0,54.5 L440.2,54.8 L440.4,55.1 L440.7,55.5 L440.9,55.8 L441.1,56.1 L441.3,56.5 L441.5,56.8 L441.7,57.1 L441.9,57.5 L442.1,57.8 L442.2,58.1 L442.4,58.5 L442.6,58.8 L442.7,59.1 L442.9,59.5 L443.1,59.8 L443.2,60.1 L443.4,60.5 L443.5,60.8 L443.7,61.1 L443.8,61.5 L444.0,61.8 L444.1,62.1 L444.2,62.4 L444.4,62.8 L444.5,63.1 L444.7,63.4 L444.8,63.8 L444.9,64.1 L445.0,64.4 L445.1,64.8 L445.3,65.1 L445.4,65.4 L445.5,65.8 L445.6,66.1 L445.6,66.4 L445.7,66.8 L445.8,67.1 L445.9,67.4 L446.0,67.8 L446.1,68.1 L446.1,68.4 L446.2,68.8 L446.3,69.1 L446.4,69.4 L446.5,69.8 L446.5,70.1 L446.6,70.4 L446.7,70.8 L446.8,71.1 L446.8,71.4 L446.9,71.8 L446.9,72.1 L446.9,72.4 L446.9,72.8 L446.9,73.1 L446.9,73.4 L446.9,73.8 L446.9,74.1 L446.9,74.4 L446.9,74.8 L447.0,75.1 L447.0,75.4 L447.0,75.8 L447.0,76.1 L447.0,76.4 L447.1,76.7 L447.1,77.1 L447.2,77.4 L447.2,77.7 L447.2,78.1 L447.2,78.4 L447.2,78.7 L447.2,79.1 L447.2,79.4 L447.2,79.7 L447.1,80.1 L447.1,80.4 L447.0,80.7 L446.9,81.1 L446.8,81.4 L446.7,81.7 L446.7,82.1 L446.6,82.4 L446.5,82.7 L446.4,83.1 L446.3,83.4 L446.2,83.7 L446.0,84.1 L445.9,84.4 L445.8,84.7 L445.7,85.1 L445.5,85.4 L445.4,85.7 L445.3,86.1 L445.2,86.4 L445.1,86.7 L445.1,87.1 L445.0,87.4 L444.9,87.7 L444.8,88.1 L444.8,88.4 L444.7,88.7 L444.6,89.1 L444.5,89.4 L444.4,89.7 L444.3,90.1 L444.2,90.4 L444.1,90.7 L444.0,91.0 L443.9,91.4 L443.8,91.7 L443.7,92.0 L443.5,92.4 L443.4,92.7 L443.3,93.0 L443.1,93.4 L443.0,93.7 L442.8,94.0 L442.7,94.4 L442.5,94.7 L442.3,95.0 L442.1,95.4 L441.9,95.7 L441.7,96.0 L441.5,96.4 L441.3,96.7 L441.1,97.0 L440.9,97.4 L440.7,97.7 L440.5,98.0 L440.3,98.4 L440.1,98.7 L439.9,99.0 L439.7,99.4 L439.5,99.7 L439.3,100.0 L439.1,100.4 L438.9,100.7 L438.7,101.0 L438.5,101.4 L438.3,101.7 L438.1,102.0 L437.9,102.4 L437.7,102.7 L437.5,103.0 L437.2,103.4 L437.0,103.7 L436.8,104.0 L436.6,104.4 L436.4,104.7 L436.2,105.0 L436.0,105.4 L435.8,105.7 L435.6,106.0 L435.4,106.3 L435.2,106.7 L435.0,107.0 L434.8,107.3 L434.6,107.7 L434.4,108.0 L434.2,108.3 L434.1,108.7 L433.9,109.0 L433.7,109.3 L433.6,109.7 L433.4,110.0 L433.3,110.3 L433.1,110.7 L433.0,111.0 L432.8,111.3 L432.7,111.7 L432.6,112.0 L432.5,112.3 L432.4,112.7 L432.4,113.0 L432.3,113.3 L432.2,113.7 L432.2,114.0 L432.1,114.3 L432.1,114.7 L432.0,115.0 L432.0,115.3 L431.9,115.7 L431.9,116.0 L431.9,116.3 L431.8,116.7 L431.8,117.0 L431.8,117.3 L431.8,117.7 L431.8,118.0 L431.7,118.3 L431.7,118.7 L431.7,119.0 L431.7,119.3 L431.7,119.7 L431.7,120.0 L431.7,120.3 L431.7,120.6 L431.7,121.0 L431.7,121.3 L431.7,121.6 L431.7,122.0 L431.7,122.3 L431.7,122.6 L431.7,123.0 L431.7,123.3 L431.7,123.6 L431.7,124.0 L431.7,124.3 L431.6,124.6 L431.6,125.0 L431.6,125.3 L431.6,125.6 L431.6,126.0 L431.6,126.3 L431.5,126.6 L431.5,127.0 L431.5,127.3 L431.5,127.3 L431.5,127.0 L431.5,126.6 L431.4,126.3 L431.4,126.0 L431.4,125.6 L431.4,125.3 L431.4,125.0 L431.4,124.6 L431.3,124.3 L431.3,124.0 L431.3,123.6 L431.3,123.3 L431.3,123.0 L431.3,122.6 L431.3,122.3 L431.3,122.0 L431.3,121.6 L431.3,121.3 L431.3,121.0 L431.3,120.6 L431.3,120.3 L431.3,120.0 L431.3,119.7 L431.3,119.3 L431.3,119.0 L431.3,118.7 L431.3,118.3 L431.2,118.0 L431.2,117.7 L431.2,117.3 L431.2,117.0 L431.2,116.7 L431.1,116.3 L431.1,116.0 L431.1,115.7 L431.0,115.3 L431.0,115.0 L430.9,114.7 L430.9,114.3 L430.8,114.0 L430.8,113.7 L430.7,113.3 L430.6,113.0 L430.6,112.7 L430.5,112.3 L430.4,112.0 L430.3,111.7 L430.2,111.3 L430.0,111.0 L429.9,110.7 L429.7,110.3 L429.6,110.0 L429.4,109.7 L429.3,109.3 L429.1,109.0 L428.9,108.7 L428.8,108.3 L428.6,108.0 L428.4,107.7 L428.2,107.3 L428.0,107.0 L427.8,106.7 L427.6,106.3 L427.4,106.0 L427.2,105.7 L427.0,105.4 L426.8,105.0 L426.6,104.7 L426.4,104.4 L426.2,104.0 L426.0,103.7 L425.8,103.4 L425.5,103.0 L425.3,102.7 L425.1,102.4 L424.9,102.0 L424.7,101.7 L424.5,101.4 L424.3,101.0 L424.1,100.7 L423.9,100.4 L423.7,100.0 L423.5,99.7 L423.3,99.4 L423.1,99.0 L422.9,98.7 L422.7,98.4 L422.5,98.0 L422.3,97.7 L422.1,97.4 L421.9,97.0 L421.7,96.7 L421.5,96.4 L421.3,96.0 L421.1,95.7 L420.9,95.4 L420.7,95.0 L420.5,94.7 L420.3,94.4 L420.2,94.0 L420.0,93.7 L419.9,93.4 L419.7,93.0 L419.6,92.7 L419.5,92.4 L419.3,92.0 L419.2,91.7 L419.1,91.4 L419.0,91.0 L418.9,90.7 L418.8,90.4 L418.7,90.1 L418.6,89.7 L418.5,89.4 L418.4,89.1 L418.3,88.7 L418.2,88.4 L418.2,88.1 L418.1,87.7 L418.0,87.4 L417.9,87.1 L417.9,86.7 L417.8,86.4 L417.7,86.1 L417.6,85.7 L417.5,85.4 L417.3,85.1 L417.2,84.7 L417.1,84.4 L417.0,84.1 L416.8,83.7 L416.7,83.4 L416.6,83.1 L416.5,82.7 L416.4,82.4 L416.3,82.1 L416.3,81.7 L416.2,81.4 L416.1,81.1 L416.0,80.7 L415.9,80.4 L415.9,80.1 L415.8,79.7 L415.8,79.4 L415.8,79.1 L415.8,78.7 L415.8,78.4 L415.8,78.1 L415.8,77.7 L415.8,77.4 L415.9,77.1 L415.9,76.7 L416.0,76.4 L416.0,76.1 L416.0,75.8 L416.0,75.4 L416.0,75.1 L416.1,74.8 L416.1,74.4 L416.1,74.1 L416.1,73.8 L416.1,73.4 L416.1,73.1 L416.1,72.8 L416.1,72.4 L416.1,72.1 L416.1,71.8 L416.2,71.4 L416.2,71.1 L416.3,70.8 L416.4,70.4 L416.5,70.1 L416.5,69.8 L416.6,69.4 L416.7,69.1 L416.8,68.8 L416.9,68.4 L416.9,68.1 L417.0,67.8 L417.1,67.4 L417.2,67.1 L417.3,66.8 L417.4,66.4 L417.4,66.1 L417.5,65.8 L417.6,65.4 L417.7,65.1 L417.9,64.8 L418.0,64.4 L418.1,64.1 L418.2,63.8 L418.3,63.4 L418.5,63.1 L418.6,62.8 L418.8,62.4 L418.9,62.1 L419.0,61.8 L419.2,61.5 L419.3,61.1 L419.5,60.8 L419.6,60.5 L419.8,60.1 L419.9,59.8 L420.1,59.5 L420.3,59.1 L420.4,58.8 L420.6,58.5 L420.8,58.1 L420.9,57.8 L421.1,57.5 L421.3,57.1 L421.5,56.8 L421.7,56.5 L421.9,56.1 L422.1,55.8 L422.3,55.5 L422.6,55.1 L422.8,54.8 L423.0,54.5 L423.2,54.1 L423.3,53.8 L423.5,53.5 L423.7,53.1 L423.9,52.8 L424.0,52.5 L424.2,52.1 L424.4,51.8 L424.5,51.5 L424.7,51.1 L424.9,50.8 L425.0,50.5 L425.2,50.1 L425.3,49.8 L425.5,49.5 L425.7,49.1 L425.8,48.8 L426.0,48.5 L426.2,48.1 L426.3,47.8 L426.5,47.5 L426.7,47.1 L426.8,46.8 L427.0,46.5 L427.1,46.2 L427.3,45.8 L427.4,45.5 L427.6,45.2 L427.7,44.8 L427.8,44.5 L428.0,44.2 L428.1,43.8 L428.3,43.5 L428.4,43.2 L428.5,42.8 L428.7,42.5 L428.8,42.2 L428.9,41.8 L429.1,41.5 L429.2,41.2 L429.3,40.8 L429.4,40.5 L429.6,40.2 L429.7,39.8 L429.8,39.5 L429.9,39.2 L430.0,38.8 L430.1,38.5 L430.3,38.2 L430.4,37.8 L430.5,37.5 L430.6,37.2 L430.7,36.8 L430.8,36.5 L430.9,36.2 L430.9,35.8 L431.0,35.5 L431.0,35.2 L431.1,34.8 L431.1,34.5 L431.1,34.2 L431.1,33.8 L431.2,33.5 L431.2,33.2 L431.2,32.8 L431.2,32.5 L431.3,32.2 L431.3,31.9 L431.3,31.5 L431.3,31.2 L431.3,30.9 L431.4,30.5 L431.4,30.2 L431.4,29.9 L431.4,29.5 L431.4,29.2 L431.4,28.9 L431.4,28.5 L431.5,28.2 L431.5,27.9 L431.5,27.5 L431.5,27.2 L431.5,26.9 L431.5,26.5 L431.5,26.2 L431.5,25.9 L431.5,25.5 L431.5,25.2 Z" fill="#00BFC4" stroke="#333333" stroke-width="0.75" stroke-linejoin="round"/>
<line x1="431.50" y1="45.00" x2="431.50" y2="67.90" stroke="#333333" stroke-width="0.75"/>
<line x1="431.50" y1="90.70" x2="431.50" y2="107.40" stroke="#333333" stroke-width="0.75"/>
<rect x="427.75" y="67.90" width="7.50" height="22.80" fill="#00BFC4" stroke="#333333" stroke-width="0.75"/>
<line x1="427.75" y1="77.50" x2="435.25" y2="77.50" stroke="#333333" stroke-width="1.3"/>
<path d="M472.6,25.2 L472.6,25.5 L472.6,25.9 L472.6,26.2 L472.6,26.5 L472.6,26.9 L472.6,27.2 L472.6,27.5 L472.6,27.9 L472.6,28.2 L472.6,28.5 L472.7,28.9 L472.7,29.2 L472.7,29.5 L472.7,29.9 L472.7,30.2 L472.7,30.5 L472.7,30.9 L472.7,31.2 L472.7,31.5 L472.8,31.9 L472.8,32.2 L472.8,32.5 L472.8,32.9 L472.8,33.2 L472.9,33.5 L472.9,33.9 L472.9,34.2 L472.9,34.5 L472.9,34.9 L473.0,35.2 L473.0,35.5 L473.1,35.8 L473.1,36.2 L473.2,36.5 L473.3,36.8 L473.4,37.2 L473.5,37.5 L473.6,37.8 L473.7,38.2 L473.8,38.5 L473.9,38.8 L474.0,39.2 L474.1,39.5 L474.2,39.8 L474.3,40.2 L474.4,40.5 L474.5,40.8 L474.6,41.2 L474.7,41.5 L474.8,41.8 L474.9,42.2 L475.1,42.5 L475.2,42.8 L475.3,43.2 L475.4,43.5 L475.5,43.8 L475.6,44.2 L475.7,44.5 L475.8,44.8 L476.0,45.2 L476.1,45.5 L476.2,45.8 L476.3,46.2 L476.4,46.5 L476.5,46.8 L476.7,47.2 L476.8,47.5 L476.9,47.8 L477.0,48.2 L477.2,48.5 L477.3,48.8 L477.4,49.2 L477.6,49.5 L477.7,49.8 L477.8,50.2 L477.9,50.5 L478.1,50.8 L478.2,51.2 L478.3,51.5 L478.4,51.8 L478.6,52.2 L478.7,52.5 L478.8,52.8 L479.0,53.2 L479.1,53.5 L479.3,53.8 L479.4,54.2 L479.5,54.5 L479.7,54.8 L479.8,55.2 L480.0,55.5 L480.2,55.8 L480.3,56.2 L480.5,56.5 L480.6,56.8 L480.8,57.1 L481.0,57.5 L481.2,57.8 L481.4,58.1 L481.6,58.5 L481.8,58.8 L482.0,59.1 L482.2,59.5 L482.4,59.8 L482.6,60.1 L482.9,60.5 L483.1,60.8 L483.3,61.1 L483.5,61.5 L483.6,61.8 L483.8,62.1 L484.0,62.5 L484.2,62.8 L484.4,63.1 L484.6,63.5 L484.8,63.8 L484.9,64.1 L485.1,64.5 L485.2,64.8 L485.4,65.1 L485.5,65.5 L485.6,65.8 L485.7,66.1 L485.8,66.5 L485.9,66.8 L486.0,67.1 L486.1,67.5 L486.2,67.8 L486.2,68.1 L486.3,68.5 L486.3,68.8 L486.4,69.1 L486.4,69.5 L486.4,69.8 L486.5,70.1 L486.5,70.5 L486.5,70.8 L486.5,71.1 L486.5,71.5 L486.5,71.8 L486.5,72.1 L486.5,72.5 L486.6,72.8 L486.6,73.1 L486.6,73.5 L486.6,73.8 L486.6,74.1 L486.6,74.5 L486.6,74.8 L486.6,75.1 L486.6,75.5 L486.6,75.8 L486.6,76.1 L486.7,76.5 L486.7,76.8 L486.8,77.1 L486.8,77.5 L486.9,77.8 L487.0,78.1 L487.0,78.4 L487.0,78.8 L487.1,79.1 L487.1,79.4 L487.2,79.8 L487.2,80.1 L487.2,80.4 L487.3,80.8 L487.3,81.1 L487.3,81.4 L487.3,81.8 L487.3,82.1 L487.3,82.4 L487.3,82.8 L487.3,83.1 L487.3,83.4 L487.3,83.8 L487.3,84.1 L487.3,84.4 L487.3,84.8 L487.2,85.1 L487.2,85.4 L487.2,85.8 L487.2,86.1 L487.1,86.4 L487.1,86.8 L487.1,87.1 L487.0,87.4 L487.0,87.8 L486.9,88.1 L486.8,88.4 L486.8,88.8 L486.7,89.1 L486.6,89.4 L486.5,89.8 L486.4,90.1 L486.3,90.4 L486.2,90.8 L486.0,91.1 L485.8,91.4 L485.7,91.8 L485.5,92.1 L485.3,92.4 L485.1,92.8 L484.9,93.1 L484.7,93.4 L484.5,93.8 L484.3,94.1 L484.1,94.4 L483.9,94.8 L483.7,95.1 L483.5,95.4 L483.3,95.8 L483.1,96.1 L482.9,96.4 L482.7,96.8 L482.5,97.1 L482.3,97.4 L482.1,97.8 L481.9,98.1 L481.7,98.4 L481.5,98.7 L481.3,99.1 L481.1,99.4 L480.9,99.7 L480.7,100.1 L480.5,100.4 L480.3,100.7 L480.1,101.1 L479.9,101.4 L479.7,101.7 L479.5,102.1 L479.3,102.4 L479.1,102.7 L478.9,103.1 L478.7,103.4 L478.5,103.7 L478.3,104.1 L478.1,104.4 L478.0,104.7 L477.8,105.1 L477.6,105.4 L477.4,105.7 L477.2,106.1 L477.0,106.4 L476.9,106.7 L476.7,107.1 L476.5,107.4 L476.3,107.7 L476.2,108.1 L476.0,108.4 L475.8,108.7 L475.7,109.1 L475.5,109.4 L475.3,109.7 L475.2,110.1 L475.0,110.4 L474.8,110.7 L474.6,111.1 L474.5,111.4 L474.3,111.7 L474.2,112.1 L474.1,112.4 L474.0,112.7 L473.9,113.1 L473.8,113.4 L473.8,113.7 L473.7,114.1 L473.6,114.4 L473.5,114.7 L473.5,115.1 L473.4,115.4 L473.3,115.7 L473.3,116.1 L473.2,116.4 L473.2,116.7 L473.1,117.1 L473.1,117.4 L473.1,117.7 L473.0,118.1 L473.0,118.4 L473.0,118.7 L473.0,119.1 L473.0,119.4 L473.0,119.7 L472.9,120.0 L472.9,120.4 L472.9,120.7 L472.9,121.0 L472.9,121.4 L472.9,121.7 L472.9,122.0 L472.9,122.4 L472.8,122.7 L472.8,123.0 L472.8,123.4 L472.8,123.7 L472.8,124.0 L472.8,124.4 L472.8,124.7 L472.8,125.0 L472.7,125.4 L472.7,125.7 L472.7,126.0 L472.7,126.4 L472.7,126.7 L472.7,127.0 L472.7,127.4 L472.7,127.7 L472.7,128.0 L472.6,128.4 L472.6,128.7 L472.6,129.0 L472.6,129.4 L472.6,129.7 L472.6,129.7 L472.6,129.4 L472.6,129.0 L472.6,128.7 L472.6,128.4 L472.5,128.0 L472.5,127.7 L472.5,127.4 L472.5,127.0 L472.5,126.7 L472.5,126.4 L472.5,126.0 L472.5,125.7 L472.5,125.4 L472.4,125.0 L472.4,124.7 L472.4,124.4 L472.4,124.0 L472.4,123.7 L472.4,123.4 L472.4,123.0 L472.4,122.7 L472.3,122.4 L472.3,122.0 L472.3,121.7 L472.3,121.4 L472.3,121.0 L472.3,120.7 L472.3,120.4 L472.3,120.0 L472.2,119.7 L472.2,119.4 L472.2,119.1 L472.2,118.7 L472.2,118.4 L472.2,118.1 L472.1,117.7 L472.1,117.4 L472.1,117.1 L472.0,116.7 L472.0,116.4 L471.9,116.1 L471.9,115.7 L471.8,115.4 L471.7,115.1 L471.7,114.7 L471.6,114.4 L471.5,114.1 L471.4,113.7 L471.4,113.4 L471.3,113.1 L471.2,112.7 L471.1,112.4 L471.0,112.1 L470.9,111.7 L470.7,111.4 L470.6,111.1 L470.4,110.7 L470.2,110.4 L470.0,110.1 L469.9,109.7 L469.7,109.4 L469.5,109.1 L469.4,108.7 L469.2,108.4 L469.0,108.1 L468.9,107.7 L468.7,107.4 L468.5,107.1 L468.3,106.7 L468.2,106.4 L468.0,106.1 L467.8,105.7 L467.6,105.4 L467.4,105.1 L467.2,104.7 L467.1,104.4 L466.9,104.1 L466.7,103.7 L466.5,103.4 L466.3,103.1 L466.1,102.7 L465.9,102.4 L465.7,102.1 L465.5,101.7 L465.3,101.4 L465.1,101.1 L464.9,100.7 L464.7,100.4 L464.5,100.1 L464.3,99.7 L464.1,99.4 L463.9,99.1 L463.7,98.7 L463.5,98.4 L463.3,98.1 L463.1,97.8 L462.9,97.4 L462.7,97.1 L462.5,96.8 L462.3,96.4 L462.1,96.1 L461.9,95.8 L461.7,95.4 L461.5,95.1 L461.3,94.8 L461.1,94.4 L460.9,94.1 L460.7,93.8 L460.5,93.4 L460.3,93.1 L460.1,92.8 L459.9,92.4 L459.7,92.1 L459.5,91.8 L459.4,91.4 L459.2,91.1 L459.0,90.8 L458.9,90.4 L458.8,90.1 L458.7,89.8 L458.6,89.4 L458.5,89.1 L458.4,88.8 L458.4,88.4 L458.3,88.1 L458.2,87.8 L458.2,87.4 L458.1,87.1 L458.1,86.8 L458.1,86.4 L458.0,86.1 L458.0,85.8 L458.0,85.4 L458.0,85.1 L457.9,84.8 L457.9,84.4 L457.9,84.1 L457.9,83.8 L457.9,83.4 L457.9,83.1 L457.9,82.8 L457.9,82.4 L457.9,82.1 L457.9,81.8 L457.9,81.4 L457.9,81.1 L457.9,80.8 L458.0,80.4 L458.0,80.1 L458.0,79.8 L458.1,79.4 L458.1,79.1 L458.2,78.8 L458.2,78.4 L458.2,78.1 L458.3,77.8 L458.4,77.5 L458.4,77.1 L458.5,76.8 L458.5,76.5 L458.6,76.1 L458.6,75.8 L458.6,75.5 L458.6,75.1 L458.7,74.8 L458.7,74.5 L458.7,74.1 L458.7,73.8 L458.7,73.5 L458.7,73.1 L458.7,72.8 L458.7,72.5 L458.7,72.1 L458.7,71.8 L458.7,71.5 L458.7,71.1 L458.7,70.8 L458.7,70.5 L458.7,70.1 L458.8,69.8 L458.8,69.5 L458.8,69.1 L458.9,68.8 L458.9,68.5 L459.0,68.1 L459.0,67.8 L459.1,67.5 L459.2,67.1 L459.3,66.8 L459.4,66.5 L459.5,66.1 L459.6,65.8 L459.7,65.5 L459.8,65.1 L460.0,64.8 L460.1,64.5 L460.3,64.1 L460.4,63.8 L460.6,63.5 L460.8,63.1 L461.0,62.8 L461.2,62.5 L461.4,62.1 L461.6,61.8 L461.7,61.5 L461.9,61.1 L462.1,60.8 L462.3,60.5 L462.6,60.1 L462.8,59.8 L463.0,59.5 L463.2,59.1 L463.4,58.8 L463.6,58.5 L463.8,58.1 L464.0,57.8 L464.2,57.5 L464.4,57.1 L464.6,56.8 L464.7,56.5 L464.9,56.2 L465.0,55.8 L465.2,55.5 L465.4,55.2 L465.5,54.8 L465.7,54.5 L465.8,54.2 L465.9,53.8 L466.1,53.5 L466.2,53.2 L466.4,52.8 L466.5,52.5 L466.6,52.2 L466.8,51.8 L466.9,51.5 L467.0,51.2 L467.1,50.8 L467.3,50.5 L467.4,50.2 L467.5,49.8 L467.6,49.5 L467.8,49.2 L467.9,48.8 L468.0,48.5 L468.2,48.2 L468.3,47.8 L468.4,47.5 L468.5,47.2 L468.7,46.8 L468.8,46.5 L468.9,46.2 L469.0,45.8 L469.1,45.5 L469.2,45.2 L469.4,44.8 L469.5,44.5 L469.6,44.2 L469.7,43.8 L469.8,43.5 L469.9,43.2 L470.0,42.8 L470.1,42.5 L470.3,42.2 L470.4,41.8 L470.5,41.5 L470.6,41.2 L470.7,40.8 L470.8,40.5 L470.9,40.2 L471.0,39.8 L471.1,39.5 L471.2,39.2 L471.3,38.8 L471.4,38.5 L471.5,38.2 L471.6,37.8 L471.7,37.5 L471.8,37.2 L471.9,36.8 L472.0,36.5 L472.1,36.2 L472.1,35.8 L472.2,35.5 L472.2,35.2 L472.3,34.9 L472.3,34.5 L472.3,34.2 L472.3,33.9 L472.3,33.5 L472.4,33.2 L472.4,32.9 L472.4,32.5 L472.4,32.2 L472.4,31.9 L472.5,31.5 L472.5,31.2 L472.5,30.9 L472.5,30.5 L472.5,30.2 L472.5,29.9 L472.5,29.5 L472.5,29.2 L472.5,28.9 L472.6,28.5 L472.6,28.2 L472.6,27.9 L472.6,27.5 L472.6,27.2 L472.6,26.9 L472.6,26.5 L472.6,26.2 L472.6,25.9 L472.6,25.5 L472.6,25.2 Z" fill="#F8766D" stroke="#333333" stroke-width="0.75" stroke-linejoin="round"/>
<line x1="472.60" y1="45.00" x2="472.60" y2="67.40" stroke="#333333" stroke-width="0.75"/>
<line x1="472.60" y1="89.40" x2="472.60" y2="109.50" stroke="#333333" stroke-width="0.75"/>
<rect x="468.85" y="67.40" width="7.50" height="22.00" fill="#F8766D" stroke="#333333" stroke-width="0.75"/>
<line x1="468.85" y1="80.30" x2="476.35" y2="80.30" stroke="#333333" stroke-width="1.3"/>
<path d="M506.5,27.0 L506.5,27.3 L506.5,27.7 L506.5,28.0 L506.5,28.3 L506.5,28.7 L506.5,29.0 L506.5,29.3 L506.5,29.7 L506.5,30.0 L506.5,30.3 L506.5,30.7 L506.6,31.0 L506.6,31.3 L506.6,31.7 L506.6,32.0 L506.6,32.3 L506.6,32.7 L506.6,33.0 L506.6,33.3 L506.6,33.7 L506.7,34.0 L506.7,34.3 L506.7,34.7 L506.7,35.0 L506.7,35.3 L506.8,35.7 L506.8,36.0 L506.9,36.3 L507.0,36.7 L507.1,37.0 L507.1,37.3 L507.2,37.7 L507.3,38.0 L507.4,38.3 L507.5,38.7 L507.6,39.0 L507.7,39.3 L507.8,39.7 L507.9,40.0 L508.0,40.3 L508.1,40.7 L508.2,41.0 L508.3,41.3 L508.4,41.7 L508.5,42.0 L508.6,42.3 L508.7,42.7 L508.8,43.0 L508.9,43.3 L509.0,43.7 L509.1,44.0 L509.3,44.3 L509.4,44.7 L509.5,45.0 L509.6,45.3 L509.7,45.7 L509.8,46.0 L510.0,46.3 L510.1,46.7 L510.2,47.0 L510.3,47.3 L510.4,47.7 L510.6,48.0 L510.7,48.3 L510.8,48.7 L510.9,49.0 L511.1,49.3 L511.2,49.7 L511.3,50.0 L511.5,50.3 L511.6,50.7 L511.8,51.0 L512.0,51.3 L512.1,51.7 L512.3,52.0 L512.4,52.3 L512.6,52.7 L512.8,53.0 L512.9,53.3 L513.1,53.7 L513.2,54.0 L513.4,54.3 L513.5,54.7 L513.6,55.0 L513.8,55.3 L513.9,55.7 L514.0,56.0 L514.2,56.3 L514.3,56.7 L514.5,57.0 L514.6,57.3 L514.8,57.7 L514.9,58.0 L515.1,58.3 L515.3,58.7 L515.5,59.0 L515.7,59.3 L515.9,59.7 L516.1,60.0 L516.3,60.3 L516.5,60.7 L516.7,61.0 L516.9,61.3 L517.0,61.7 L517.2,62.0 L517.4,62.3 L517.6,62.7 L517.7,63.0 L517.9,63.3 L518.1,63.7 L518.2,64.0 L518.4,64.3 L518.5,64.7 L518.7,65.0 L518.8,65.3 L519.0,65.7 L519.1,66.0 L519.3,66.3 L519.4,66.7 L519.6,67.0 L519.7,67.3 L519.8,67.7 L520.0,68.0 L520.1,68.3 L520.2,68.7 L520.3,69.0 L520.4,69.3 L520.5,69.7 L520.5,70.0 L520.6,70.3 L520.7,70.7 L520.8,71.0 L520.8,71.3 L520.9,71.7 L521.0,72.0 L521.0,72.3 L521.1,72.7 L521.1,73.0 L521.1,73.3 L521.1,73.7 L521.2,74.0 L521.2,74.3 L521.2,74.7 L521.2,75.0 L521.3,75.3 L521.3,75.7 L521.4,76.0 L521.4,76.3 L521.5,76.7 L521.5,77.0 L521.6,77.3 L521.6,77.7 L521.7,78.0 L521.7,78.3 L521.7,78.7 L521.8,79.0 L521.8,79.3 L521.8,79.7 L521.9,80.0 L521.9,80.3 L521.9,80.7 L522.0,81.0 L522.0,81.3 L522.0,81.7 L522.0,82.0 L522.0,82.3 L522.0,82.6 L522.0,83.0 L522.0,83.3 L522.0,83.6 L522.0,84.0 L521.9,84.3 L521.9,84.6 L521.9,85.0 L521.8,85.3 L521.8,85.6 L521.7,86.0 L521.6,86.3 L521.6,86.6 L521.5,87.0 L521.4,87.3 L521.2,87.6 L521.1,88.0 L521.0,88.3 L520.8,88.6 L520.6,89.0 L520.5,89.3 L520.3,89.6 L520.2,90.0 L520.0,90.3 L519.8,90.6 L519.7,91.0 L519.5,91.3 L519.3,91.6 L519.2,92.0 L519.0,92.3 L518.8,92.6 L518.6,93.0 L518.4,93.3 L518.2,93.6 L518.0,94.0 L517.8,94.3 L517.6,94.6 L517.4,95.0 L517.2,95.3 L517.0,95.6 L516.8,96.0 L516.5,96.3 L516.3,96.6 L516.1,97.0 L515.8,97.3 L515.6,97.6 L515.4,98.0 L515.2,98.3 L514.9,98.6 L514.7,99.0 L514.5,99.3 L514.2,99.6 L514.0,100.0 L513.8,100.3 L513.6,100.6 L513.4,101.0 L513.1,101.3 L512.9,101.6 L512.7,102.0 L512.5,102.3 L512.3,102.6 L512.1,103.0 L512.0,103.3 L511.8,103.6 L511.6,104.0 L511.4,104.3 L511.2,104.6 L511.0,105.0 L510.8,105.3 L510.6,105.6 L510.5,106.0 L510.3,106.3 L510.1,106.6 L509.9,107.0 L509.7,107.3 L509.6,107.6 L509.4,108.0 L509.2,108.3 L509.1,108.6 L508.9,109.0 L508.8,109.3 L508.6,109.6 L508.4,110.0 L508.3,110.3 L508.1,110.6 L508.0,111.0 L507.8,111.3 L507.7,111.6 L507.6,112.0 L507.5,112.3 L507.4,112.6 L507.4,113.0 L507.3,113.3 L507.3,113.6 L507.3,114.0 L507.2,114.3 L507.2,114.6 L507.2,115.0 L507.1,115.3 L507.1,115.6 L507.1,116.0 L507.0,116.3 L507.0,116.6 L507.0,117.0 L507.0,117.3 L507.0,117.6 L507.0,118.0 L506.9,118.3 L506.9,118.6 L506.9,119.0 L506.9,119.3 L506.9,119.6 L506.9,120.0 L506.9,120.3 L506.8,120.6 L506.8,121.0 L506.8,121.3 L506.8,121.6 L506.8,122.0 L506.8,122.3 L506.8,122.6 L506.8,123.0 L506.8,123.3 L506.8,123.6 L506.7,124.0 L506.7,124.3 L506.7,124.6 L506.7,125.0 L506.7,125.3 L506.7,125.6 L506.7,126.0 L506.7,126.3 L506.7,126.6 L506.7,127.0 L506.7,127.3 L506.7,127.6 L506.7,128.0 L506.6,128.3 L506.6,128.6 L506.6,129.0 L506.6,129.3 L506.6,129.6 L506.6,130.0 L506.6,130.3 L506.6,130.6 L506.6,131.0 L506.6,131.3 L506.6,131.6 L506.6,132.0 L506.6,132.3 L506.6,132.6 L506.6,133.0 L506.5,133.3 L506.5,133.6 L506.5,134.0 L506.5,134.3 L506.5,134.6 L506.5,135.0 L506.5,135.3 L506.5,135.6 L506.5,136.0 L506.5,136.3 L506.5,136.3 L506.5,136.0 L506.5,135.6 L506.5,135.3 L506.5,135.0 L506.5,134.6 L506.5,134.3 L506.5,134.0 L506.5,133.6 L506.5,133.3 L506.4,133.0 L506.4,132.6 L506.4,132.3 L506.4,132.0 L506.4,131.6 L506.4,131.3 L506.4,131.0 L506.4,130.6 L506.4,130.3 L506.4,130.0 L506.4,129.6 L506.4,129.3 L506.4,129.0 L506.4,128.6 L506.4,128.3 L506.3,128.0 L506.3,127.6 L506.3,127.3 L506.3,127.0 L506.3,126.6 L506.3,126.3 L506.3,126.0 L506.3,125.6 L506.3,125.3 L506.3,125.0 L506.3,124.6 L506.3,124.3 L506.3,124.0 L506.2,123.6 L506.2,123.3 L506.2,123.0 L506.2,122.6 L506.2,122.3 L506.2,122.0 L506.2,121.6 L506.2,121.3 L506.2,121.0 L506.2,120.6 L506.1,120.3 L506.1,120.0 L506.1,119.6 L506.1,119.3 L506.1,119.0 L506.1,118.6 L506.1,118.3 L506.0,118.0 L506.0,117.6 L506.0,117.3 L506.0,117.0 L506.0,116.6 L506.0,116.3 L505.9,116.0 L505.9,115.6 L505.9,115.3 L505.8,115.0 L505.8,114.6 L505.8,114.3 L505.7,114.0 L505.7,113.6 L505.7,113.3 L505.6,113.0 L505.6,112.6 L505.5,112.3 L505.4,112.0 L505.3,111.6 L505.2,111.3 L505.0,111.0 L504.9,110.6 L504.7,110.3 L504.6,110.0 L504.4,109.6 L504.2,109.3 L504.1,109.0 L503.9,108.6 L503.8,108.3 L503.6,108.0 L503.4,107.6 L503.3,107.3 L503.1,107.0 L502.9,106.6 L502.7,106.3 L502.5,106.0 L502.4,105.6 L502.2,105.3 L502.0,105.0 L501.8,104.6 L501.6,104.3 L501.4,104.0 L501.2,103.6 L501.0,103.3 L500.9,103.0 L500.7,102.6 L500.5,102.3 L500.3,102.0 L500.1,101.6 L499.9,101.3 L499.6,101.0 L499.4,100.6 L499.2,100.3 L499.0,100.0 L498.8,99.6 L498.5,99.3 L498.3,99.0 L498.1,98.6 L497.8,98.3 L497.6,98.0 L497.4,97.6 L497.2,97.3 L496.9,97.0 L496.7,96.6 L496.5,96.3 L496.2,96.0 L496.0,95.6 L495.8,95.3 L495.6,95.0 L495.4,94.6 L495.2,94.3 L495.0,94.0 L494.8,93.6 L494.6,93.3 L494.4,93.0 L494.2,92.6 L494.0,92.3 L493.8,92.0 L493.7,91.6 L493.5,91.3 L493.3,91.0 L493.2,90.6 L493.0,90.3 L492.8,90.0 L492.7,89.6 L492.5,89.3 L492.4,89.0 L492.2,88.6 L492.0,88.3 L491.9,88.0 L491.8,87.6 L491.6,87.3 L491.5,87.0 L491.4,86.6 L491.4,86.3 L491.3,86.0 L491.2,85.6 L491.2,85.3 L491.1,85.0 L491.1,84.6 L491.1,84.3 L491.0,84.0 L491.0,83.6 L491.0,83.3 L491.0,83.0 L491.0,82.6 L491.0,82.3 L491.0,82.0 L491.0,81.7 L491.0,81.3 L491.0,81.0 L491.1,80.7 L491.1,80.3 L491.1,80.0 L491.2,79.7 L491.2,79.3 L491.2,79.0 L491.3,78.7 L491.3,78.3 L491.3,78.0 L491.4,77.7 L491.4,77.3 L491.5,77.0 L491.5,76.7 L491.6,76.3 L491.6,76.0 L491.7,75.7 L491.7,75.3 L491.8,75.0 L491.8,74.7 L491.8,74.3 L491.8,74.0 L491.9,73.7 L491.9,73.3 L491.9,73.0 L491.9,72.7 L492.0,72.3 L492.0,72.0 L492.1,71.7 L492.2,71.3 L492.2,71.0 L492.3,70.7 L492.4,70.3 L492.5,70.0 L492.5,69.7 L492.6,69.3 L492.7,69.0 L492.8,68.7 L492.9,68.3 L493.0,68.0 L493.2,67.7 L493.3,67.3 L493.4,67.0 L493.6,66.7 L493.7,66.3 L493.9,66.0 L494.0,65.7 L494.2,65.3 L494.3,65.0 L494.5,64.7 L494.6,64.3 L494.8,64.0 L494.9,63.7 L495.1,63.3 L495.3,63.0 L495.4,62.7 L495.6,62.3 L495.8,62.0 L496.0,61.7 L496.1,61.3 L496.3,61.0 L496.5,60.7 L496.7,60.3 L496.9,60.0 L497.1,59.7 L497.3,59.3 L497.5,59.0 L497.7,58.7 L497.9,58.3 L498.1,58.0 L498.2,57.7 L498.4,57.3 L498.5,57.0 L498.7,56.7 L498.8,56.3 L499.0,56.0 L499.1,55.7 L499.2,55.3 L499.4,55.0 L499.5,54.7 L499.6,54.3 L499.8,54.0 L499.9,53.7 L500.1,53.3 L500.2,53.0 L500.4,52.7 L500.6,52.3 L500.7,52.0 L500.9,51.7 L501.0,51.3 L501.2,51.0 L501.4,50.7 L501.5,50.3 L501.7,50.0 L501.8,49.7 L501.9,49.3 L502.1,49.0 L502.2,48.7 L502.3,48.3 L502.4,48.0 L502.6,47.7 L502.7,47.3 L502.8,47.0 L502.9,46.7 L503.0,46.3 L503.2,46.0 L503.3,45.7 L503.4,45.3 L503.5,45.0 L503.6,44.7 L503.7,44.3 L503.9,44.0 L504.0,43.7 L504.1,43.3 L504.2,43.0 L504.3,42.7 L504.4,42.3 L504.5,42.0 L504.6,41.7 L504.7,41.3 L504.8,41.0 L504.9,40.7 L505.0,40.3 L505.1,40.0 L505.2,39.7 L505.3,39.3 L505.4,39.0 L505.5,38.7 L505.6,38.3 L505.7,38.0 L505.8,37.7 L505.9,37.3 L505.9,37.0 L506.0,36.7 L506.1,36.3 L506.2,36.0 L506.2,35.7 L506.3,35.3 L506.3,35.0 L506.3,34.7 L506.3,34.3 L506.3,34.0 L506.4,33.7 L506.4,33.3 L506.4,33.0 L506.4,32.7 L506.4,32.3 L506.4,32.0 L506.4,31.7 L506.4,31.3 L506.4,31.0 L506.5,30.7 L506.5,30.3 L506.5,30.0 L506.5,29.7 L506.5,29.3 L506.5,29.0 L506.5,28.7 L506.5,28.3 L506.5,28.0 L506.5,27.7 L506.5,27.3 L506.5,27.0 Z" fill="#00BFC4" stroke="#333333" stroke-width="0.75" stroke-linejoin="round"/>
<line x1="506.50" y1="46.90" x2="506.50" y2="68.60" stroke="#333333" stroke-width="0.75"/>
<line x1="506.50" y1="89.40" x2="506.50" y2="115.50" stroke="#333333" stroke-width="0.75"/>
<rect x="502.75" y="68.60" width="7.50" height="20.80" fill="#00BFC4" stroke="#333333" stroke-width="0.75"/>
<line x1="502.75" y1="80.60" x2="510.25" y2="80.60" stroke="#333333" stroke-width="1.3"/>
<path d="M548.0,25.5 L548.0,25.8 L548.0,26.2 L548.0,26.5 L548.0,26.8 L548.0,27.2 L548.0,27.5 L548.0,27.8 L548.0,28.2 L548.0,28.5 L548.0,28.8 L548.1,29.2 L548.1,29.5 L548.1,29.8 L548.1,30.2 L548.1,30.5 L548.1,30.8 L548.1,31.2 L548.1,31.5 L548.2,31.8 L548.2,32.2 L548.2,32.5 L548.2,32.8 L548.2,33.2 L548.2,33.5 L548.3,33.8 L548.3,34.2 L548.3,34.5 L548.3,34.8 L548.4,35.2 L548.4,35.5 L548.5,35.8 L548.5,36.2 L548.6,36.5 L548.7,36.8 L548.8,37.2 L548.9,37.5 L549.0,37.8 L549.2,38.2 L549.3,38.5 L549.4,38.8 L549.5,39.2 L549.6,39.5 L549.7,39.8 L549.8,40.2 L549.9,40.5 L550.0,40.8 L550.1,41.2 L550.2,41.5 L550.3,41.8 L550.4,42.2 L550.5,42.5 L550.7,42.8 L550.8,43.1 L550.9,43.5 L551.0,43.8 L551.1,44.1 L551.3,44.5 L551.4,44.8 L551.5,45.1 L551.6,45.5 L551.8,45.8 L551.9,46.1 L552.0,46.5 L552.1,46.8 L552.3,47.1 L552.4,47.5 L552.5,47.8 L552.6,48.1 L552.8,48.5 L552.9,48.8 L553.0,49.1 L553.1,49.5 L553.3,49.8 L553.4,50.1 L553.5,50.5 L553.7,50.8 L553.8,51.1 L554.0,51.5 L554.1,51.8 L554.3,52.1 L554.4,52.5 L554.6,52.8 L554.7,53.1 L554.9,53.5 L555.1,53.8 L555.2,54.1 L555.4,54.5 L555.5,54.8 L555.7,55.1 L555.9,55.5 L556.0,55.8 L556.2,56.1 L556.4,56.5 L556.6,56.8 L556.7,57.1 L556.9,57.5 L557.0,57.8 L557.2,58.1 L557.4,58.5 L557.5,58.8 L557.7,59.1 L557.8,59.5 L558.0,59.8 L558.1,60.1 L558.3,60.5 L558.4,60.8 L558.6,61.1 L558.7,61.5 L558.9,61.8 L559.0,62.1 L559.2,62.5 L559.3,62.8 L559.4,63.1 L559.6,63.5 L559.7,63.8 L559.9,64.1 L560.0,64.5 L560.1,64.8 L560.3,65.1 L560.4,65.5 L560.5,65.8 L560.6,66.1 L560.8,66.5 L560.9,66.8 L561.0,67.1 L561.1,67.5 L561.2,67.8 L561.3,68.1 L561.4,68.5 L561.5,68.8 L561.6,69.1 L561.7,69.5 L561.8,69.8 L561.9,70.1 L561.9,70.5 L562.0,70.8 L562.1,71.1 L562.2,71.5 L562.3,71.8 L562.3,72.1 L562.4,72.5 L562.5,72.8 L562.6,73.1 L562.7,73.5 L562.8,73.8 L562.9,74.1 L563.0,74.5 L563.0,74.8 L563.0,75.1 L563.0,75.5 L563.0,75.8 L563.0,76.1 L563.0,76.5 L563.0,76.8 L563.0,77.1 L563.0,77.4 L563.0,77.8 L563.0,78.1 L563.0,78.4 L563.0,78.8 L563.0,79.1 L563.0,79.4 L563.0,79.8 L563.0,80.1 L563.0,80.4 L562.9,80.8 L562.9,81.1 L562.9,81.4 L562.8,81.8 L562.8,82.1 L562.8,82.4 L562.7,82.8 L562.7,83.1 L562.6,83.4 L562.5,83.8 L562.5,84.1 L562.4,84.4 L562.3,84.8 L562.3,85.1 L562.2,85.4 L562.1,85.8 L562.0,86.1 L561.9,86.4 L561.8,86.8 L561.7,87.1 L561.6,87.4 L561.5,87.8 L561.4,88.1 L561.3,88.4 L561.2,88.8 L561.1,89.1 L561.0,89.4 L560.8,89.8 L560.7,90.1 L560.6,90.4 L560.4,90.8 L560.3,91.1 L560.2,91.4 L560.0,91.8 L559.9,92.1 L559.7,92.4 L559.6,92.8 L559.4,93.1 L559.2,93.4 L559.1,93.8 L558.9,94.1 L558.7,94.4 L558.5,94.8 L558.3,95.1 L558.2,95.4 L558.0,95.8 L557.8,96.1 L557.6,96.4 L557.4,96.8 L557.2,97.1 L557.0,97.4 L556.8,97.8 L556.5,98.1 L556.3,98.4 L556.1,98.8 L555.9,99.1 L555.7,99.4 L555.5,99.8 L555.3,100.1 L555.1,100.4 L554.9,100.8 L554.7,101.1 L554.5,101.4 L554.3,101.8 L554.1,102.1 L553.9,102.4 L553.7,102.8 L553.5,103.1 L553.3,103.4 L553.1,103.8 L552.9,104.1 L552.7,104.4 L552.5,104.8 L552.4,105.1 L552.2,105.4 L552.0,105.8 L551.8,106.1 L551.6,106.4 L551.4,106.8 L551.2,107.1 L551.0,107.4 L550.8,107.8 L550.7,108.1 L550.5,108.4 L550.3,108.8 L550.2,109.1 L550.0,109.4 L549.8,109.8 L549.6,110.1 L549.5,110.4 L549.3,110.7 L549.1,111.1 L549.0,111.4 L548.9,111.7 L548.8,112.1 L548.7,112.4 L548.6,112.7 L548.6,113.1 L548.5,113.4 L548.5,113.7 L548.5,114.1 L548.4,114.4 L548.4,114.7 L548.3,115.1 L548.3,115.4 L548.3,115.7 L548.3,116.1 L548.2,116.4 L548.2,116.7 L548.2,117.1 L548.2,117.4 L548.2,117.7 L548.2,118.1 L548.2,118.4 L548.2,118.7 L548.2,119.1 L548.2,119.4 L548.2,119.7 L548.2,120.1 L548.2,120.4 L548.2,120.7 L548.2,121.1 L548.2,121.4 L548.2,121.7 L548.2,122.1 L548.2,122.4 L548.2,122.7 L548.2,123.1 L548.2,123.4 L548.2,123.7 L548.2,124.1 L548.2,124.4 L548.2,124.7 L548.1,125.1 L548.1,125.4 L548.1,125.7 L548.1,126.1 L548.1,126.4 L548.0,126.7 L548.0,127.1 L548.0,127.4 L548.0,127.4 L548.0,127.1 L548.0,126.7 L547.9,126.4 L547.9,126.1 L547.9,125.7 L547.9,125.4 L547.9,125.1 L547.8,124.7 L547.8,124.4 L547.8,124.1 L547.8,123.7 L547.8,123.4 L547.8,123.1 L547.8,122.7 L547.8,122.4 L547.8,122.1 L547.8,121.7 L547.8,121.4 L547.8,121.1 L547.8,120.7 L547.8,120.4 L547.8,120.1 L547.8,119.7 L547.8,119.4 L547.8,119.1 L547.8,118.7 L547.8,118.4 L547.8,118.1 L547.8,117.7 L547.8,117.4 L547.8,117.1 L547.8,116.7 L547.8,116.4 L547.7,116.1 L547.7,115.7 L547.7,115.4 L547.7,115.1 L547.6,114.7 L547.6,114.4 L547.5,114.1 L547.5,113.7 L547.5,113.4 L547.4,113.1 L547.4,112.7 L547.3,112.4 L547.2,112.1 L547.1,111.7 L547.0,111.4 L546.9,111.1 L546.7,110.7 L546.5,110.4 L546.4,110.1 L546.2,109.8 L546.0,109.4 L545.8,109.1 L545.7,108.8 L545.5,108.4 L545.3,108.1 L545.2,107.8 L545.0,107.4 L544.8,107.1 L544.6,106.8 L544.4,106.4 L544.2,106.1 L544.0,105.8 L543.8,105.4 L543.6,105.1 L543.5,104.8 L543.3,104.4 L543.1,104.1 L542.9,103.8 L542.7,103.4 L542.5,103.1 L542.3,102.8 L542.1,102.4 L541.9,102.1 L541.7,101.8 L541.5,101.4 L541.3,101.1 L541.1,100.8 L540.9,100.4 L540.7,100.1 L540.5,99.8 L540.3,99.4 L540.1,99.1 L539.9,98.8 L539.7,98.4 L539.5,98.1 L539.2,97.8 L539.0,97.4 L538.8,97.1 L538.6,96.8 L538.4,96.4 L538.2,96.1 L538.0,95.8 L537.8,95.4 L537.7,95.1 L537.5,94.8 L537.3,94.4 L537.1,94.1 L536.9,93.8 L536.8,93.4 L536.6,93.1 L536.4,92.8 L536.3,92.4 L536.1,92.1 L536.0,91.8 L535.8,91.4 L535.7,91.1 L535.6,90.8 L535.4,90.4 L535.3,90.1 L535.2,89.8 L535.0,89.4 L534.9,89.1 L534.8,88.8 L534.7,88.4 L534.6,88.1 L534.5,87.8 L534.4,87.4 L534.3,87.1 L534.2,86.8 L534.1,86.4 L534.0,86.1 L533.9,85.8 L533.8,85.4 L533.7,85.1 L533.7,84.8 L533.6,84.4 L533.5,84.1 L533.5,83.8 L533.4,83.4 L533.3,83.1 L533.3,82.8 L533.2,82.4 L533.2,82.1 L533.2,81.8 L533.1,81.4 L533.1,81.1 L533.1,80.8 L533.0,80.4 L533.0,80.1 L533.0,79.8 L533.0,79.4 L533.0,79.1 L533.0,78.8 L533.0,78.4 L533.0,78.1 L533.0,77.8 L533.0,77.4 L533.0,77.1 L533.0,76.8 L533.0,76.5 L533.0,76.1 L533.0,75.8 L533.0,75.5 L533.0,75.1 L533.0,74.8 L533.0,74.5 L533.1,74.1 L533.2,73.8 L533.3,73.5 L533.4,73.1 L533.5,72.8 L533.6,72.5 L533.7,72.1 L533.7,71.8 L533.8,71.5 L533.9,71.1 L534.0,70.8 L534.1,70.5 L534.1,70.1 L534.2,69.8 L534.3,69.5 L534.4,69.1 L534.5,68.8 L534.6,68.5 L534.7,68.1 L534.8,67.8 L534.9,67.5 L535.0,67.1 L535.1,66.8 L535.2,66.5 L535.4,66.1 L535.5,65.8 L535.6,65.5 L535.7,65.1 L535.9,64.8 L536.0,64.5 L536.1,64.1 L536.3,63.8 L536.4,63.5 L536.6,63.1 L536.7,62.8 L536.8,62.5 L537.0,62.1 L537.1,61.8 L537.3,61.5 L537.4,61.1 L537.6,60.8 L537.7,60.5 L537.9,60.1 L538.0,59.8 L538.2,59.5 L538.3,59.1 L538.5,58.8 L538.6,58.5 L538.8,58.1 L539.0,57.8 L539.1,57.5 L539.3,57.1 L539.4,56.8 L539.6,56.5 L539.8,56.1 L540.0,55.8 L540.1,55.5 L540.3,55.1 L540.5,54.8 L540.6,54.5 L540.8,54.1 L540.9,53.8 L541.1,53.5 L541.3,53.1 L541.4,52.8 L541.6,52.5 L541.7,52.1 L541.9,51.8 L542.0,51.5 L542.2,51.1 L542.3,50.8 L542.5,50.5 L542.6,50.1 L542.7,49.8 L542.9,49.5 L543.0,49.1 L543.1,48.8 L543.2,48.5 L543.4,48.1 L543.5,47.8 L543.6,47.5 L543.7,47.1 L543.9,46.8 L544.0,46.5 L544.1,46.1 L544.2,45.8 L544.4,45.5 L544.5,45.1 L544.6,44.8 L544.7,44.5 L544.9,44.1 L545.0,43.8 L545.1,43.5 L545.2,43.1 L545.3,42.8 L545.5,42.5 L545.6,42.2 L545.7,41.8 L545.8,41.5 L545.9,41.2 L546.0,40.8 L546.1,40.5 L546.2,40.2 L546.3,39.8 L546.4,39.5 L546.5,39.2 L546.6,38.8 L546.7,38.5 L546.8,38.2 L547.0,37.8 L547.1,37.5 L547.2,37.2 L547.3,36.8 L547.4,36.5 L547.5,36.2 L547.5,35.8 L547.6,35.5 L547.6,35.2 L547.7,34.8 L547.7,34.5 L547.7,34.2 L547.7,33.8 L547.8,33.5 L547.8,33.2 L547.8,32.8 L547.8,32.5 L547.8,32.2 L547.8,31.8 L547.9,31.5 L547.9,31.2 L547.9,30.8 L547.9,30.5 L547.9,30.2 L547.9,29.8 L547.9,29.5 L547.9,29.2 L548.0,28.8 L548.0,28.5 L548.0,28.2 L548.0,27.8 L548.0,27.5 L548.0,27.2 L548.0,26.8 L548.0,26.5 L548.0,26.2 L548.0,25.8 L548.0,25.5 Z" fill="#F8766D" stroke="#333333" stroke-width="0.75" stroke-linejoin="round"/>
<line x1="548.00" y1="45.00" x2="548.00" y2="66.30" stroke="#333333" stroke-width="0.75"/>
<line x1="548.00" y1="87.50" x2="548.00" y2="107.60" stroke="#333333" stroke-width="0.75"/>
<rect x="544.25" y="66.30" width="7.50" height="21.20" fill="#F8766D" stroke="#333333" stroke-width="0.75"/>
<line x1="544.25" y1="77.30" x2="551.75" y2="77.30" stroke="#333333" stroke-width="1.3"/>
<path d="M581.8,27.8 L581.8,28.1 L581.8,28.5 L581.8,28.8 L581.8,29.1 L581.8,29.5 L581.8,29.8 L581.8,30.1 L581.8,30.5 L581.8,30.8 L581.8,31.1 L581.9,31.5 L581.9,31.8 L581.9,32.1 L581.9,32.5 L581.9,32.8 L581.9,33.1 L581.9,33.5 L581.9,33.8 L582.0,34.1 L582.0,34.4 L582.0,34.8 L582.0,35.1 L582.0,35.4 L582.1,35.8 L582.1,36.1 L582.2,36.4 L582.3,36.8 L582.3,37.1 L582.4,37.4 L582.5,37.8 L582.6,38.1 L582.7,38.4 L582.7,38.8 L582.8,39.1 L582.9,39.4 L583.0,39.8 L583.2,40.1 L583.3,40.4 L583.4,40.8 L583.5,41.1 L583.6,41.4 L583.8,41.8 L583.9,42.1 L584.0,42.4 L584.1,42.8 L584.3,43.1 L584.4,43.4 L584.5,43.8 L584.6,44.1 L584.7,44.4 L584.9,44.8 L585.0,45.1 L585.1,45.4 L585.2,45.8 L585.4,46.1 L585.5,46.4 L585.6,46.8 L585.8,47.1 L585.9,47.4 L586.1,47.7 L586.2,48.1 L586.4,48.4 L586.5,48.7 L586.7,49.1 L586.9,49.4 L587.0,49.7 L587.2,50.1 L587.3,50.4 L587.5,50.7 L587.7,51.1 L587.8,51.4 L588.0,51.7 L588.2,52.1 L588.4,52.4 L588.5,52.7 L588.7,53.1 L588.9,53.4 L589.0,53.7 L589.2,54.1 L589.3,54.4 L589.5,54.7 L589.7,55.1 L589.8,55.4 L590.0,55.7 L590.1,56.1 L590.3,56.4 L590.4,56.7 L590.6,57.1 L590.8,57.4 L590.9,57.7 L591.1,58.1 L591.2,58.4 L591.4,58.7 L591.5,59.1 L591.7,59.4 L591.8,59.7 L592.0,60.1 L592.1,60.4 L592.2,60.7 L592.4,61.0 L592.5,61.4 L592.6,61.7 L592.7,62.0 L592.8,62.4 L592.9,62.7 L593.0,63.0 L593.1,63.4 L593.3,63.7 L593.4,64.0 L593.4,64.4 L593.5,64.7 L593.6,65.0 L593.7,65.4 L593.8,65.7 L593.9,66.0 L594.0,66.4 L594.1,66.7 L594.1,67.0 L594.2,67.4 L594.3,67.7 L594.4,68.0 L594.4,68.4 L594.5,68.7 L594.6,69.0 L594.6,69.4 L594.7,69.7 L594.7,70.0 L594.8,70.4 L594.8,70.7 L594.9,71.0 L594.9,71.4 L595.0,71.7 L595.0,72.0 L595.1,72.4 L595.2,72.7 L595.3,73.0 L595.4,73.3 L595.5,73.7 L595.6,74.0 L595.7,74.3 L595.8,74.7 L596.0,75.0 L596.1,75.3 L596.2,75.7 L596.3,76.0 L596.4,76.3 L596.5,76.7 L596.7,77.0 L596.8,77.3 L596.9,77.7 L597.0,78.0 L597.1,78.3 L597.2,78.7 L597.3,79.0 L597.4,79.3 L597.5,79.7 L597.6,80.0 L597.7,80.3 L597.8,80.7 L597.9,81.0 L598.0,81.3 L598.1,81.7 L598.1,82.0 L598.1,82.3 L598.1,82.7 L598.1,83.0 L598.1,83.3 L598.0,83.7 L597.9,84.0 L597.8,84.3 L597.7,84.7 L597.6,85.0 L597.4,85.3 L597.3,85.7 L597.2,86.0 L597.0,86.3 L596.9,86.6 L596.8,87.0 L596.6,87.3 L596.5,87.6 L596.3,88.0 L596.1,88.3 L595.9,88.6 L595.7,89.0 L595.5,89.3 L595.4,89.6 L595.2,90.0 L595.0,90.3 L594.8,90.6 L594.6,91.0 L594.3,91.3 L594.1,91.6 L593.9,92.0 L593.7,92.3 L593.4,92.6 L593.2,93.0 L593.0,93.3 L592.8,93.6 L592.5,94.0 L592.3,94.3 L592.1,94.6 L591.9,95.0 L591.7,95.3 L591.4,95.6 L591.2,96.0 L591.0,96.3 L590.8,96.6 L590.6,97.0 L590.4,97.3 L590.1,97.6 L589.9,98.0 L589.7,98.3 L589.5,98.6 L589.3,98.9 L589.1,99.3 L588.9,99.6 L588.7,99.9 L588.5,100.3 L588.3,100.6 L588.1,100.9 L587.9,101.3 L587.7,101.6 L587.5,101.9 L587.3,102.3 L587.1,102.6 L586.9,102.9 L586.7,103.3 L586.5,103.6 L586.4,103.9 L586.2,104.3 L586.0,104.6 L585.8,104.9 L585.7,105.3 L585.5,105.6 L585.3,105.9 L585.1,106.3 L585.0,106.6 L584.8,106.9 L584.6,107.3 L584.5,107.6 L584.3,107.9 L584.1,108.3 L584.0,108.6 L583.8,108.9 L583.7,109.3 L583.5,109.6 L583.4,109.9 L583.2,110.3 L583.1,110.6 L582.9,110.9 L582.8,111.3 L582.7,111.6 L582.6,111.9 L582.5,112.2 L582.5,112.6 L582.4,112.9 L582.4,113.2 L582.3,113.6 L582.3,113.9 L582.3,114.2 L582.2,114.6 L582.2,114.9 L582.2,115.2 L582.2,115.6 L582.1,115.9 L582.1,116.2 L582.1,116.6 L582.1,116.9 L582.1,117.2 L582.1,117.6 L582.0,117.9 L582.0,118.2 L582.0,118.6 L582.0,118.9 L582.0,119.2 L582.0,119.6 L582.0,119.9 L582.0,120.2 L582.0,120.6 L582.0,120.9 L582.0,121.2 L582.0,121.6 L582.0,121.9 L582.0,122.2 L582.0,122.6 L582.0,122.9 L582.0,123.2 L582.0,123.6 L582.0,123.9 L582.0,124.2 L582.0,124.6 L582.0,124.9 L582.0,125.2 L582.0,125.5 L582.0,125.9 L582.0,126.2 L582.0,126.5 L582.0,126.9 L582.0,127.2 L582.0,127.5 L582.0,127.9 L582.0,128.2 L582.0,128.5 L581.9,128.9 L581.9,129.2 L581.9,129.5 L581.9,129.9 L581.9,130.2 L581.8,130.5 L581.8,130.9 L581.8,131.2 L581.8,131.2 L581.8,130.9 L581.8,130.5 L581.7,130.2 L581.7,129.9 L581.7,129.5 L581.7,129.2 L581.7,128.9 L581.6,128.5 L581.6,128.2 L581.6,127.9 L581.6,127.5 L581.6,127.2 L581.6,126.9 L581.6,126.5 L581.6,126.2 L581.6,125.9 L581.6,125.5 L581.6,125.2 L581.6,124.9 L581.6,124.6 L581.6,124.2 L581.6,123.9 L581.6,123.6 L581.6,123.2 L581.6,122.9 L581.6,122.6 L581.6,122.2 L581.6,121.9 L581.6,121.6 L581.6,121.2 L581.6,120.9 L581.6,120.6 L581.6,120.2 L581.6,119.9 L581.6,119.6 L581.6,119.2 L581.6,118.9 L581.6,118.6 L581.6,118.2 L581.6,117.9 L581.5,117.6 L581.5,117.2 L581.5,116.9 L581.5,116.6 L581.5,116.2 L581.5,115.9 L581.4,115.6 L581.4,115.2 L581.4,114.9 L581.4,114.6 L581.3,114.2 L581.3,113.9 L581.3,113.6 L581.2,113.2 L581.2,112.9 L581.1,112.6 L581.1,112.2 L581.0,111.9 L580.9,111.6 L580.8,111.3 L580.7,110.9 L580.5,110.6 L580.4,110.3 L580.2,109.9 L580.1,109.6 L579.9,109.3 L579.8,108.9 L579.6,108.6 L579.5,108.3 L579.3,107.9 L579.1,107.6 L579.0,107.3 L578.8,106.9 L578.6,106.6 L578.5,106.3 L578.3,105.9 L578.1,105.6 L577.9,105.3 L577.8,104.9 L577.6,104.6 L577.4,104.3 L577.2,103.9 L577.1,103.6 L576.9,103.3 L576.7,102.9 L576.5,102.6 L576.3,102.3 L576.1,101.9 L575.9,101.6 L575.7,101.3 L575.5,100.9 L575.3,100.6 L575.1,100.3 L574.9,99.9 L574.7,99.6 L574.5,99.3 L574.3,98.9 L574.1,98.6 L573.9,98.3 L573.7,98.0 L573.5,97.6 L573.2,97.3 L573.0,97.0 L572.8,96.6 L572.6,96.3 L572.4,96.0 L572.2,95.6 L571.9,95.3 L571.7,95.0 L571.5,94.6 L571.3,94.3 L571.1,94.0 L570.8,93.6 L570.6,93.3 L570.4,93.0 L570.2,92.6 L569.9,92.3 L569.7,92.0 L569.5,91.6 L569.3,91.3 L569.0,91.0 L568.8,90.6 L568.6,90.3 L568.4,90.0 L568.2,89.6 L568.1,89.3 L567.9,89.0 L567.7,88.6 L567.5,88.3 L567.3,88.0 L567.1,87.6 L567.0,87.3 L566.8,87.0 L566.7,86.6 L566.6,86.3 L566.4,86.0 L566.3,85.7 L566.2,85.3 L566.0,85.0 L565.9,84.7 L565.8,84.3 L565.7,84.0 L565.6,83.7 L565.5,83.3 L565.5,83.0 L565.5,82.7 L565.5,82.3 L565.5,82.0 L565.5,81.7 L565.6,81.3 L565.7,81.0 L565.8,80.7 L565.9,80.3 L566.0,80.0 L566.1,79.7 L566.2,79.3 L566.3,79.0 L566.4,78.7 L566.5,78.3 L566.6,78.0 L566.7,77.7 L566.8,77.3 L566.9,77.0 L567.1,76.7 L567.2,76.3 L567.3,76.0 L567.4,75.7 L567.5,75.3 L567.6,75.0 L567.8,74.7 L567.9,74.3 L568.0,74.0 L568.1,73.7 L568.2,73.3 L568.3,73.0 L568.4,72.7 L568.5,72.4 L568.6,72.0 L568.6,71.7 L568.7,71.4 L568.7,71.0 L568.8,70.7 L568.8,70.4 L568.9,70.0 L568.9,69.7 L569.0,69.4 L569.0,69.0 L569.1,68.7 L569.2,68.4 L569.2,68.0 L569.3,67.7 L569.4,67.4 L569.5,67.0 L569.5,66.7 L569.6,66.4 L569.7,66.0 L569.8,65.7 L569.9,65.4 L570.0,65.0 L570.1,64.7 L570.2,64.4 L570.2,64.0 L570.3,63.7 L570.5,63.4 L570.6,63.0 L570.7,62.7 L570.8,62.4 L570.9,62.0 L571.0,61.7 L571.1,61.4 L571.2,61.0 L571.4,60.7 L571.5,60.4 L571.6,60.1 L571.8,59.7 L571.9,59.4 L572.1,59.1 L572.2,58.7 L572.4,58.4 L572.5,58.1 L572.7,57.7 L572.8,57.4 L573.0,57.1 L573.2,56.7 L573.3,56.4 L573.5,56.1 L573.6,55.7 L573.8,55.4 L573.9,55.1 L574.1,54.7 L574.3,54.4 L574.4,54.1 L574.6,53.7 L574.7,53.4 L574.9,53.1 L575.1,52.7 L575.2,52.4 L575.4,52.1 L575.6,51.7 L575.8,51.4 L575.9,51.1 L576.1,50.7 L576.3,50.4 L576.4,50.1 L576.6,49.7 L576.7,49.4 L576.9,49.1 L577.1,48.7 L577.2,48.4 L577.4,48.1 L577.5,47.7 L577.7,47.4 L577.8,47.1 L578.0,46.8 L578.1,46.4 L578.2,46.1 L578.4,45.8 L578.5,45.4 L578.6,45.1 L578.7,44.8 L578.9,44.4 L579.0,44.1 L579.1,43.8 L579.2,43.4 L579.3,43.1 L579.5,42.8 L579.6,42.4 L579.7,42.1 L579.8,41.8 L580.0,41.4 L580.1,41.1 L580.2,40.8 L580.3,40.4 L580.4,40.1 L580.6,39.8 L580.7,39.4 L580.8,39.1 L580.9,38.8 L580.9,38.4 L581.0,38.1 L581.1,37.8 L581.2,37.4 L581.3,37.1 L581.3,36.8 L581.4,36.4 L581.5,36.1 L581.5,35.8 L581.6,35.4 L581.6,35.1 L581.6,34.8 L581.6,34.4 L581.6,34.1 L581.7,33.8 L581.7,33.5 L581.7,33.1 L581.7,32.8 L581.7,32.5 L581.7,32.1 L581.7,31.8 L581.7,31.5 L581.8,31.1 L581.8,30.8 L581.8,30.5 L581.8,30.1 L581.8,29.8 L581.8,29.5 L581.8,29.1 L581.8,28.8 L581.8,28.5 L581.8,28.1 L581.8,27.8 Z" fill="#00BFC4" stroke="#333333" stroke-width="0.75" stroke-linejoin="round"/>
<line x1="581.80" y1="46.90" x2="581.80" y2="66.60" stroke="#333333" stroke-width="0.75"/>
<line x1="581.80" y1="89.40" x2="581.80" y2="111.50" stroke="#333333" stroke-width="0.75"/>
<rect x="578.05" y="66.60" width="7.50" height="22.80" fill="#00BFC4" stroke="#333333" stroke-width="0.75"/>
<line x1="578.05" y1="80.60" x2="585.55" y2="80.60" stroke="#333333" stroke-width="1.3"/>
<path d="M623.3,23.3 L623.3,23.6 L623.3,24.0 L623.3,24.3 L623.3,24.6 L623.3,25.0 L623.3,25.3 L623.3,25.6 L623.3,26.0 L623.3,26.3 L623.3,26.6 L623.3,27.0 L623.3,27.3 L623.3,27.6 L623.4,28.0 L623.4,28.3 L623.4,28.6 L623.4,29.0 L623.4,29.3 L623.4,29.6 L623.4,30.0 L623.4,30.3 L623.4,30.6 L623.4,31.0 L623.5,31.3 L623.5,31.6 L623.5,32.0 L623.5,32.3 L623.5,32.6 L623.5,33.0 L623.6,33.3 L623.6,33.6 L623.6,34.0 L623.6,34.3 L623.6,34.6 L623.6,35.0 L623.7,35.3 L623.7,35.6 L623.8,36.0 L623.9,36.3 L624.0,36.6 L624.1,36.9 L624.2,37.3 L624.3,37.6 L624.4,37.9 L624.5,38.3 L624.6,38.6 L624.7,38.9 L624.8,39.3 L624.9,39.6 L625.0,39.9 L625.1,40.3 L625.2,40.6 L625.3,40.9 L625.4,41.3 L625.5,41.6 L625.7,41.9 L625.8,42.3 L625.9,42.6 L626.0,42.9 L626.1,43.3 L626.3,43.6 L626.4,43.9 L626.5,44.3 L626.6,44.6 L626.8,44.9 L626.9,45.3 L627.0,45.6 L627.1,45.9 L627.2,46.3 L627.4,46.6 L627.5,46.9 L627.6,47.3 L627.7,47.6 L627.8,47.9 L627.9,48.3 L628.0,48.6 L628.1,48.9 L628.2,49.3 L628.3,49.6 L628.4,49.9 L628.5,50.3 L628.6,50.6 L628.8,50.9 L628.9,51.3 L629.0,51.6 L629.1,51.9 L629.2,52.3 L629.3,52.6 L629.4,52.9 L629.5,53.3 L629.7,53.6 L629.8,53.9 L629.9,54.3 L630.1,54.6 L630.2,54.9 L630.4,55.3 L630.5,55.6 L630.6,55.9 L630.8,56.3 L631.0,56.6 L631.1,56.9 L631.3,57.3 L631.4,57.6 L631.6,57.9 L631.8,58.3 L632.0,58.6 L632.2,58.9 L632.4,59.3 L632.6,59.6 L632.8,59.9 L633.0,60.3 L633.2,60.6 L633.3,60.9 L633.5,61.3 L633.7,61.6 L633.9,61.9 L634.1,62.3 L634.2,62.6 L634.4,62.9 L634.6,63.3 L634.7,63.6 L634.9,63.9 L635.0,64.2 L635.2,64.6 L635.3,64.9 L635.4,65.2 L635.5,65.6 L635.6,65.9 L635.7,66.2 L635.8,66.6 L635.8,66.9 L635.9,67.2 L636.0,67.6 L636.1,67.9 L636.1,68.2 L636.2,68.6 L636.3,68.9 L636.3,69.2 L636.4,69.6 L636.4,69.9 L636.5,70.2 L636.5,70.6 L636.6,70.9 L636.7,71.2 L636.7,71.6 L636.8,71.9 L636.8,72.2 L636.8,72.6 L636.9,72.9 L636.9,73.2 L637.0,73.6 L637.0,73.9 L637.0,74.2 L637.1,74.6 L637.1,74.9 L637.2,75.2 L637.3,75.6 L637.3,75.9 L637.4,76.2 L637.5,76.6 L637.6,76.9 L637.7,77.2 L637.8,77.6 L638.0,77.9 L638.1,78.2 L638.2,78.6 L638.3,78.9 L638.4,79.2 L638.5,79.6 L638.7,79.9 L638.9,80.2 L639.0,80.6 L639.2,80.9 L639.3,81.2 L639.4,81.6 L639.5,81.9 L639.5,82.2 L639.5,82.6 L639.5,82.9 L639.5,83.2 L639.5,83.6 L639.5,83.9 L639.5,84.2 L639.5,84.6 L639.4,84.9 L639.4,85.2 L639.3,85.6 L639.3,85.9 L639.3,86.2 L639.2,86.6 L639.1,86.9 L639.0,87.2 L638.9,87.6 L638.7,87.9 L638.5,88.2 L638.3,88.6 L638.1,88.9 L637.9,89.2 L637.7,89.6 L637.5,89.9 L637.3,90.2 L637.1,90.5 L636.9,90.9 L636.7,91.2 L636.4,91.5 L636.2,91.9 L635.9,92.2 L635.7,92.5 L635.4,92.9 L635.2,93.2 L634.9,93.5 L634.7,93.9 L634.5,94.2 L634.2,94.5 L634.0,94.9 L633.7,95.2 L633.5,95.5 L633.2,95.9 L633.0,96.2 L632.7,96.5 L632.5,96.9 L632.2,97.2 L632.0,97.5 L631.7,97.9 L631.5,98.2 L631.2,98.5 L631.0,98.9 L630.7,99.2 L630.5,99.5 L630.2,99.9 L630.0,100.2 L629.7,100.5 L629.5,100.9 L629.3,101.2 L629.1,101.5 L628.9,101.9 L628.7,102.2 L628.6,102.5 L628.4,102.9 L628.2,103.2 L628.1,103.5 L627.9,103.9 L627.8,104.2 L627.6,104.5 L627.5,104.9 L627.3,105.2 L627.2,105.5 L627.0,105.9 L626.9,106.2 L626.7,106.5 L626.6,106.9 L626.5,107.2 L626.3,107.5 L626.2,107.9 L626.0,108.2 L625.9,108.5 L625.8,108.9 L625.6,109.2 L625.5,109.5 L625.3,109.9 L625.1,110.2 L624.9,110.5 L624.8,110.9 L624.6,111.2 L624.5,111.5 L624.3,111.9 L624.2,112.2 L624.2,112.5 L624.1,112.9 L624.1,113.2 L624.0,113.5 L624.0,113.9 L623.9,114.2 L623.9,114.5 L623.8,114.9 L623.8,115.2 L623.8,115.5 L623.7,115.9 L623.7,116.2 L623.7,116.5 L623.6,116.9 L623.6,117.2 L623.6,117.5 L623.6,117.8 L623.6,118.2 L623.6,118.5 L623.6,118.8 L623.5,119.2 L623.5,119.5 L623.5,119.8 L623.5,120.2 L623.5,120.5 L623.5,120.8 L623.5,121.2 L623.5,121.5 L623.5,121.8 L623.5,122.2 L623.5,122.5 L623.5,122.8 L623.5,123.2 L623.5,123.5 L623.5,123.8 L623.5,124.2 L623.5,124.5 L623.5,124.8 L623.5,125.2 L623.5,125.5 L623.5,125.8 L623.5,126.2 L623.5,126.5 L623.5,126.8 L623.4,127.2 L623.4,127.5 L623.4,127.8 L623.4,128.2 L623.4,128.5 L623.4,128.8 L623.4,129.2 L623.3,129.5 L623.3,129.8 L623.3,130.2 L623.3,130.5 L623.3,130.5 L623.3,130.2 L623.3,129.8 L623.3,129.5 L623.2,129.2 L623.2,128.8 L623.2,128.5 L623.2,128.2 L623.2,127.8 L623.2,127.5 L623.2,127.2 L623.1,126.8 L623.1,126.5 L623.1,126.2 L623.1,125.8 L623.1,125.5 L623.1,125.2 L623.1,124.8 L623.1,124.5 L623.1,124.2 L623.1,123.8 L623.1,123.5 L623.1,123.2 L623.1,122.8 L623.1,122.5 L623.1,122.2 L623.1,121.8 L623.1,121.5 L623.1,121.2 L623.1,120.8 L623.1,120.5 L623.1,120.2 L623.1,119.8 L623.1,119.5 L623.1,119.2 L623.0,118.8 L623.0,118.5 L623.0,118.2 L623.0,117.8 L623.0,117.5 L623.0,117.2 L623.0,116.9 L622.9,116.5 L622.9,116.2 L622.9,115.9 L622.8,115.5 L622.8,115.2 L622.8,114.9 L622.7,114.5 L622.7,114.2 L622.6,113.9 L622.6,113.5 L622.5,113.2 L622.5,112.9 L622.4,112.5 L622.4,112.2 L622.3,111.9 L622.1,111.5 L622.0,111.2 L621.8,110.9 L621.7,110.5 L621.5,110.2 L621.3,109.9 L621.1,109.5 L621.0,109.2 L620.8,108.9 L620.7,108.5 L620.6,108.2 L620.4,107.9 L620.3,107.5 L620.1,107.2 L620.0,106.9 L619.9,106.5 L619.7,106.2 L619.6,105.9 L619.4,105.5 L619.3,105.2 L619.1,104.9 L619.0,104.5 L618.8,104.2 L618.7,103.9 L618.5,103.5 L618.4,103.2 L618.2,102.9 L618.0,102.5 L617.9,102.2 L617.7,101.9 L617.5,101.5 L617.3,101.2 L617.1,100.9 L616.9,100.5 L616.6,100.2 L616.4,99.9 L616.1,99.5 L615.9,99.2 L615.6,98.9 L615.4,98.5 L615.1,98.2 L614.9,97.9 L614.6,97.5 L614.4,97.2 L614.1,96.9 L613.9,96.5 L613.6,96.2 L613.4,95.9 L613.1,95.5 L612.9,95.2 L612.6,94.9 L612.4,94.5 L612.1,94.2 L611.9,93.9 L611.7,93.5 L611.4,93.2 L611.2,92.9 L610.9,92.5 L610.7,92.2 L610.4,91.9 L610.2,91.5 L609.9,91.2 L609.7,90.9 L609.5,90.5 L609.3,90.2 L609.1,89.9 L608.9,89.6 L608.7,89.2 L608.5,88.9 L608.3,88.6 L608.1,88.2 L607.9,87.9 L607.7,87.6 L607.6,87.2 L607.5,86.9 L607.4,86.6 L607.3,86.2 L607.3,85.9 L607.3,85.6 L607.2,85.2 L607.2,84.9 L607.1,84.6 L607.1,84.2 L607.1,83.9 L607.1,83.6 L607.1,83.2 L607.1,82.9 L607.1,82.6 L607.1,82.2 L607.1,81.9 L607.2,81.6 L607.3,81.2 L607.4,80.9 L607.6,80.6 L607.7,80.2 L607.9,79.9 L608.1,79.6 L608.2,79.2 L608.3,78.9 L608.4,78.6 L608.5,78.2 L608.6,77.9 L608.8,77.6 L608.9,77.2 L609.0,76.9 L609.1,76.6 L609.2,76.2 L609.3,75.9 L609.3,75.6 L609.4,75.2 L609.5,74.9 L609.5,74.6 L609.6,74.2 L609.6,73.9 L609.6,73.6 L609.7,73.2 L609.7,72.9 L609.8,72.6 L609.8,72.2 L609.8,71.9 L609.9,71.6 L609.9,71.2 L610.0,70.9 L610.1,70.6 L610.1,70.2 L610.2,69.9 L610.2,69.6 L610.3,69.2 L610.3,68.9 L610.4,68.6 L610.5,68.2 L610.5,67.9 L610.6,67.6 L610.7,67.2 L610.8,66.9 L610.8,66.6 L610.9,66.2 L611.0,65.9 L611.1,65.6 L611.2,65.2 L611.3,64.9 L611.4,64.6 L611.6,64.2 L611.7,63.9 L611.9,63.6 L612.0,63.3 L612.2,62.9 L612.4,62.6 L612.5,62.3 L612.7,61.9 L612.9,61.6 L613.1,61.3 L613.3,60.9 L613.4,60.6 L613.6,60.3 L613.8,59.9 L614.0,59.6 L614.2,59.3 L614.4,58.9 L614.6,58.6 L614.8,58.3 L615.0,57.9 L615.2,57.6 L615.3,57.3 L615.5,56.9 L615.6,56.6 L615.8,56.3 L616.0,55.9 L616.1,55.6 L616.2,55.3 L616.4,54.9 L616.5,54.6 L616.7,54.3 L616.8,53.9 L616.9,53.6 L617.1,53.3 L617.2,52.9 L617.3,52.6 L617.4,52.3 L617.5,51.9 L617.6,51.6 L617.7,51.3 L617.8,50.9 L618.0,50.6 L618.1,50.3 L618.2,49.9 L618.3,49.6 L618.4,49.3 L618.5,48.9 L618.6,48.6 L618.7,48.3 L618.8,47.9 L618.9,47.6 L619.0,47.3 L619.1,46.9 L619.2,46.6 L619.4,46.3 L619.5,45.9 L619.6,45.6 L619.7,45.3 L619.8,44.9 L620.0,44.6 L620.1,44.3 L620.2,43.9 L620.3,43.6 L620.5,43.3 L620.6,42.9 L620.7,42.6 L620.8,42.3 L620.9,41.9 L621.1,41.6 L621.2,41.3 L621.3,40.9 L621.4,40.6 L621.5,40.3 L621.6,39.9 L621.7,39.6 L621.8,39.3 L621.9,38.9 L622.0,38.6 L622.1,38.3 L622.2,37.9 L622.3,37.6 L622.4,37.3 L622.5,36.9 L622.6,36.6 L622.7,36.3 L622.8,36.0 L622.9,35.6 L622.9,35.3 L623.0,35.0 L623.0,34.6 L623.0,34.3 L623.0,34.0 L623.0,33.6 L623.0,33.3 L623.1,33.0 L623.1,32.6 L623.1,32.3 L623.1,32.0 L623.1,31.6 L623.1,31.3 L623.2,31.0 L623.2,30.6 L623.2,30.3 L623.2,30.0 L623.2,29.6 L623.2,29.3 L623.2,29.0 L623.2,28.6 L623.2,28.3 L623.2,28.0 L623.3,27.6 L623.3,27.3 L623.3,27.0 L623.3,26.6 L623.3,26.3 L623.3,26.0 L623.3,25.6 L623.3,25.3 L623.3,25.0 L623.3,24.6 L623.3,24.3 L623.3,24.0 L623.3,23.6 L623.3,23.3 Z" fill="#F8766D" stroke="#333333" stroke-width="0.75" stroke-linejoin="round"/>
<line x1="623.30" y1="43.20" x2="623.30" y2="68.20" stroke="#333333" stroke-width="0.75"/>
<line x1="623.30" y1="89.40" x2="623.30" y2="110.10" stroke="#333333" stroke-width="0.75"/>
<rect x="619.55" y="68.20" width="7.50" height="21.20" fill="#F8766D" stroke="#333333" stroke-width="0.75"/>
<line x1="619.55" y1="81.00" x2="627.05" y2="81.00" stroke="#333333" stroke-width="1.3"/>
<path d="M657.2,26.5 L657.2,26.8 L657.2,27.2 L657.2,27.5 L657.2,27.8 L657.2,28.2 L657.2,28.5 L657.2,28.8 L657.2,29.2 L657.2,29.5 L657.3,29.8 L657.3,30.2 L657.3,30.5 L657.3,30.8 L657.3,31.2 L657.3,31.5 L657.3,31.8 L657.4,32.2 L657.4,32.5 L657.4,32.8 L657.4,33.2 L657.4,33.5 L657.5,33.8 L657.5,34.2 L657.5,34.5 L657.5,34.8 L657.6,35.2 L657.6,35.5 L657.7,35.8 L657.7,36.2 L657.8,36.5 L657.9,36.8 L658.0,37.2 L658.1,37.5 L658.2,37.8 L658.4,38.2 L658.5,38.5 L658.6,38.8 L658.7,39.2 L658.8,39.5 L658.9,39.8 L659.0,40.2 L659.1,40.5 L659.2,40.8 L659.3,41.2 L659.4,41.5 L659.5,41.8 L659.6,42.2 L659.7,42.5 L659.9,42.8 L660.0,43.2 L660.1,43.5 L660.2,43.8 L660.3,44.2 L660.5,44.5 L660.6,44.8 L660.7,45.2 L660.8,45.5 L661.0,45.8 L661.1,46.2 L661.2,46.5 L661.4,46.8 L661.5,47.2 L661.6,47.5 L661.8,47.8 L661.9,48.2 L662.1,48.5 L662.2,48.8 L662.4,49.2 L662.5,49.5 L662.7,49.8 L662.8,50.2 L663.0,50.5 L663.1,50.8 L663.2,51.2 L663.4,51.5 L663.5,51.8 L663.7,52.2 L663.8,52.5 L664.0,52.8 L664.1,53.2 L664.3,53.5 L664.5,53.8 L664.6,54.1 L664.8,54.5 L665.0,54.8 L665.2,55.1 L665.3,55.5 L665.5,55.8 L665.7,56.1 L665.9,56.5 L666.1,56.8 L666.3,57.1 L666.5,57.5 L666.7,57.8 L666.9,58.1 L667.1,58.5 L667.3,58.8 L667.5,59.1 L667.7,59.5 L667.9,59.8 L668.1,60.1 L668.3,60.5 L668.5,60.8 L668.7,61.1 L668.8,61.5 L669.0,61.8 L669.2,62.1 L669.3,62.5 L669.5,62.8 L669.6,63.1 L669.8,63.5 L669.9,63.8 L670.0,64.1 L670.1,64.5 L670.3,64.8 L670.4,65.1 L670.5,65.5 L670.6,65.8 L670.7,66.1 L670.7,66.5 L670.8,66.8 L670.9,67.1 L671.0,67.5 L671.1,67.8 L671.1,68.1 L671.2,68.5 L671.2,68.8 L671.3,69.1 L671.3,69.5 L671.3,69.8 L671.4,70.1 L671.4,70.5 L671.4,70.8 L671.4,71.1 L671.5,71.5 L671.5,71.8 L671.5,72.1 L671.5,72.5 L671.6,72.8 L671.6,73.1 L671.7,73.5 L671.7,73.8 L671.8,74.1 L671.9,74.5 L671.9,74.8 L672.0,75.1 L672.0,75.5 L672.1,75.8 L672.2,76.1 L672.3,76.5 L672.4,76.8 L672.4,77.1 L672.5,77.5 L672.6,77.8 L672.6,78.1 L672.7,78.5 L672.8,78.8 L672.8,79.1 L672.8,79.5 L672.9,79.8 L672.9,80.1 L672.9,80.5 L673.0,80.8 L673.0,81.1 L673.0,81.5 L673.0,81.8 L673.0,82.1 L673.0,82.5 L673.0,82.8 L673.0,83.1 L673.0,83.5 L672.9,83.8 L672.8,84.1 L672.7,84.5 L672.6,84.8 L672.5,85.1 L672.4,85.5 L672.3,85.8 L672.2,86.1 L672.1,86.5 L672.0,86.8 L671.8,87.1 L671.7,87.5 L671.5,87.8 L671.3,88.1 L671.1,88.5 L671.0,88.8 L670.8,89.1 L670.6,89.5 L670.4,89.8 L670.2,90.1 L670.0,90.5 L669.8,90.8 L669.5,91.1 L669.3,91.5 L669.1,91.8 L668.8,92.1 L668.6,92.5 L668.4,92.8 L668.1,93.1 L667.9,93.5 L667.7,93.8 L667.4,94.1 L667.2,94.5 L666.9,94.8 L666.7,95.1 L666.5,95.5 L666.2,95.8 L666.0,96.1 L665.7,96.5 L665.5,96.8 L665.3,97.1 L665.0,97.5 L664.8,97.8 L664.6,98.1 L664.4,98.5 L664.1,98.8 L663.9,99.1 L663.7,99.5 L663.5,99.8 L663.3,100.1 L663.1,100.5 L662.8,100.8 L662.7,101.1 L662.5,101.5 L662.3,101.8 L662.1,102.1 L661.9,102.5 L661.8,102.8 L661.6,103.1 L661.4,103.5 L661.3,103.8 L661.1,104.1 L660.9,104.5 L660.8,104.8 L660.6,105.1 L660.5,105.5 L660.3,105.8 L660.2,106.1 L660.0,106.5 L659.9,106.8 L659.8,107.1 L659.6,107.5 L659.5,107.8 L659.3,108.1 L659.2,108.4 L659.1,108.8 L659.0,109.1 L658.8,109.4 L658.7,109.8 L658.6,110.1 L658.4,110.4 L658.3,110.8 L658.2,111.1 L658.1,111.4 L658.0,111.8 L657.9,112.1 L657.9,112.4 L657.8,112.8 L657.8,113.1 L657.8,113.4 L657.7,113.8 L657.7,114.1 L657.7,114.4 L657.7,114.8 L657.6,115.1 L657.6,115.4 L657.6,115.8 L657.6,116.1 L657.6,116.4 L657.5,116.8 L657.5,117.1 L657.5,117.4 L657.5,117.8 L657.5,118.1 L657.5,118.4 L657.5,118.8 L657.5,119.1 L657.5,119.4 L657.5,119.8 L657.4,120.1 L657.4,120.4 L657.4,120.8 L657.4,121.1 L657.4,121.4 L657.4,121.8 L657.4,122.1 L657.4,122.4 L657.4,122.8 L657.4,123.1 L657.4,123.4 L657.4,123.8 L657.4,124.1 L657.4,124.4 L657.4,124.8 L657.4,125.1 L657.4,125.4 L657.4,125.8 L657.4,126.1 L657.4,126.4 L657.4,126.8 L657.4,127.1 L657.4,127.4 L657.4,127.8 L657.4,128.1 L657.4,128.4 L657.4,128.8 L657.4,129.1 L657.4,129.4 L657.4,129.8 L657.4,130.1 L657.4,130.4 L657.3,130.8 L657.3,131.1 L657.3,131.4 L657.3,131.8 L657.3,132.1 L657.3,132.4 L657.3,132.8 L657.3,133.1 L657.3,133.4 L657.3,133.8 L657.2,134.1 L657.2,134.4 L657.2,134.8 L657.2,135.1 L657.2,135.1 L657.2,134.8 L657.2,134.4 L657.2,134.1 L657.1,133.8 L657.1,133.4 L657.1,133.1 L657.1,132.8 L657.1,132.4 L657.1,132.1 L657.1,131.8 L657.1,131.4 L657.1,131.1 L657.1,130.8 L657.0,130.4 L657.0,130.1 L657.0,129.8 L657.0,129.4 L657.0,129.1 L657.0,128.8 L657.0,128.4 L657.0,128.1 L657.0,127.8 L657.0,127.4 L657.0,127.1 L657.0,126.8 L657.0,126.4 L657.0,126.1 L657.0,125.8 L657.0,125.4 L657.0,125.1 L657.0,124.8 L657.0,124.4 L657.0,124.1 L657.0,123.8 L657.0,123.4 L657.0,123.1 L657.0,122.8 L657.0,122.4 L657.0,122.1 L657.0,121.8 L657.0,121.4 L657.0,121.1 L657.0,120.8 L657.0,120.4 L657.0,120.1 L656.9,119.8 L656.9,119.4 L656.9,119.1 L656.9,118.8 L656.9,118.4 L656.9,118.1 L656.9,117.8 L656.9,117.4 L656.9,117.1 L656.9,116.8 L656.8,116.4 L656.8,116.1 L656.8,115.8 L656.8,115.4 L656.8,115.1 L656.7,114.8 L656.7,114.4 L656.7,114.1 L656.7,113.8 L656.6,113.4 L656.6,113.1 L656.6,112.8 L656.5,112.4 L656.5,112.1 L656.4,111.8 L656.3,111.4 L656.2,111.1 L656.1,110.8 L656.0,110.4 L655.8,110.1 L655.7,109.8 L655.6,109.4 L655.4,109.1 L655.3,108.8 L655.2,108.4 L655.1,108.1 L654.9,107.8 L654.8,107.5 L654.6,107.1 L654.5,106.8 L654.4,106.5 L654.2,106.1 L654.1,105.8 L653.9,105.5 L653.8,105.1 L653.6,104.8 L653.5,104.5 L653.3,104.1 L653.1,103.8 L653.0,103.5 L652.8,103.1 L652.6,102.8 L652.5,102.5 L652.3,102.1 L652.1,101.8 L651.9,101.5 L651.7,101.1 L651.6,100.8 L651.3,100.5 L651.1,100.1 L650.9,99.8 L650.7,99.5 L650.5,99.1 L650.3,98.8 L650.0,98.5 L649.8,98.1 L649.6,97.8 L649.4,97.5 L649.1,97.1 L648.9,96.8 L648.7,96.5 L648.4,96.1 L648.2,95.8 L647.9,95.5 L647.7,95.1 L647.5,94.8 L647.2,94.5 L647.0,94.1 L646.7,93.8 L646.5,93.5 L646.3,93.1 L646.0,92.8 L645.8,92.5 L645.6,92.1 L645.3,91.8 L645.1,91.5 L644.9,91.1 L644.6,90.8 L644.4,90.5 L644.2,90.1 L644.0,89.8 L643.8,89.5 L643.6,89.1 L643.4,88.8 L643.3,88.5 L643.1,88.1 L642.9,87.8 L642.7,87.5 L642.6,87.1 L642.4,86.8 L642.3,86.5 L642.2,86.1 L642.1,85.8 L642.0,85.5 L641.9,85.1 L641.8,84.8 L641.7,84.5 L641.6,84.1 L641.5,83.8 L641.4,83.5 L641.4,83.1 L641.4,82.8 L641.4,82.5 L641.4,82.1 L641.4,81.8 L641.4,81.5 L641.4,81.1 L641.4,80.8 L641.5,80.5 L641.5,80.1 L641.5,79.8 L641.6,79.5 L641.6,79.1 L641.6,78.8 L641.7,78.5 L641.8,78.1 L641.8,77.8 L641.9,77.5 L642.0,77.1 L642.0,76.8 L642.1,76.5 L642.2,76.1 L642.3,75.8 L642.4,75.5 L642.4,75.1 L642.5,74.8 L642.5,74.5 L642.6,74.1 L642.7,73.8 L642.7,73.5 L642.8,73.1 L642.8,72.8 L642.9,72.5 L642.9,72.1 L642.9,71.8 L642.9,71.5 L643.0,71.1 L643.0,70.8 L643.0,70.5 L643.0,70.1 L643.1,69.8 L643.1,69.5 L643.1,69.1 L643.2,68.8 L643.2,68.5 L643.3,68.1 L643.3,67.8 L643.4,67.5 L643.5,67.1 L643.6,66.8 L643.7,66.5 L643.7,66.1 L643.8,65.8 L643.9,65.5 L644.0,65.1 L644.1,64.8 L644.3,64.5 L644.4,64.1 L644.5,63.8 L644.6,63.5 L644.8,63.1 L644.9,62.8 L645.1,62.5 L645.2,62.1 L645.4,61.8 L645.6,61.5 L645.7,61.1 L645.9,60.8 L646.1,60.5 L646.3,60.1 L646.5,59.8 L646.7,59.5 L646.9,59.1 L647.1,58.8 L647.3,58.5 L647.5,58.1 L647.7,57.8 L647.9,57.5 L648.1,57.1 L648.3,56.8 L648.5,56.5 L648.7,56.1 L648.9,55.8 L649.1,55.5 L649.2,55.1 L649.4,54.8 L649.6,54.5 L649.8,54.1 L649.9,53.8 L650.1,53.5 L650.3,53.2 L650.4,52.8 L650.6,52.5 L650.7,52.2 L650.9,51.8 L651.0,51.5 L651.2,51.2 L651.3,50.8 L651.4,50.5 L651.6,50.2 L651.7,49.8 L651.9,49.5 L652.0,49.2 L652.2,48.8 L652.3,48.5 L652.5,48.2 L652.6,47.8 L652.8,47.5 L652.9,47.2 L653.0,46.8 L653.2,46.5 L653.3,46.2 L653.4,45.8 L653.6,45.5 L653.7,45.2 L653.8,44.8 L653.9,44.5 L654.1,44.2 L654.2,43.8 L654.3,43.5 L654.4,43.2 L654.5,42.8 L654.7,42.5 L654.8,42.2 L654.9,41.8 L655.0,41.5 L655.1,41.2 L655.2,40.8 L655.3,40.5 L655.4,40.2 L655.5,39.8 L655.6,39.5 L655.7,39.2 L655.8,38.8 L655.9,38.5 L656.0,38.2 L656.2,37.8 L656.3,37.5 L656.4,37.2 L656.5,36.8 L656.6,36.5 L656.7,36.2 L656.7,35.8 L656.8,35.5 L656.8,35.2 L656.9,34.8 L656.9,34.5 L656.9,34.2 L656.9,33.8 L657.0,33.5 L657.0,33.2 L657.0,32.8 L657.0,32.5 L657.0,32.2 L657.1,31.8 L657.1,31.5 L657.1,31.2 L657.1,30.8 L657.1,30.5 L657.1,30.2 L657.1,29.8 L657.2,29.5 L657.2,29.2 L657.2,28.8 L657.2,28.5 L657.2,28.2 L657.2,27.8 L657.2,27.5 L657.2,27.2 L657.2,26.8 L657.2,26.5 Z" fill="#00BFC4" stroke="#333333" stroke-width="0.75" stroke-linejoin="round"/>
<line x1="657.20" y1="46.30" x2="657.20" y2="68.20" stroke="#333333" stroke-width="0.75"/>
<line x1="657.20" y1="89.40" x2="657.20" y2="115.30" stroke="#333333" stroke-width="0.75"/>
<rect x="653.45" y="68.20" width="7.50" height="21.20" fill="#00BFC4" stroke="#333333" stroke-width="0.75"/>
<line x1="653.45" y1="82.30" x2="660.95" y2="82.30" stroke="#333333" stroke-width="1.3"/>
<path d="M369.60,172.50 V297.20 H685.50" fill="none" stroke="#4a4a4a" stroke-width="1.0" stroke-linecap="round" stroke-linejoin="round"/>
<line x1="368.00" y1="196.30" x2="369.60" y2="196.30" stroke="#333" stroke-width="0.9"/>
<text x="366.90" y="198.25" font-size="5.60" text-anchor="end" fill="#3a3a3a" stroke="#3a3a3a" stroke-width="0.10" font-weight="normal" >1.5</text>
<line x1="368.00" y1="231.30" x2="369.60" y2="231.30" stroke="#333" stroke-width="0.9"/>
<text x="366.90" y="233.25" font-size="5.60" text-anchor="end" fill="#3a3a3a" stroke="#3a3a3a" stroke-width="0.10" font-weight="normal" >1.0</text>
<line x1="368.00" y1="266.30" x2="369.60" y2="266.30" stroke="#333" stroke-width="0.9"/>
<text x="366.90" y="268.25" font-size="5.60" text-anchor="end" fill="#3a3a3a" stroke="#3a3a3a" stroke-width="0.10" font-weight="normal" >0.5</text>
<line x1="414.60" y1="297.20" x2="414.60" y2="298.80" stroke="#333" stroke-width="0.9"/>
<text x="414.60" y="304.70" font-size="5.60" text-anchor="middle" fill="#3a3a3a" stroke="#3a3a3a" stroke-width="0.10" font-weight="normal" >YC2017 + YC2018</text>
<line x1="489.60" y1="297.20" x2="489.60" y2="298.80" stroke="#333" stroke-width="0.9"/>
<text x="489.60" y="304.70" font-size="5.60" text-anchor="middle" fill="#3a3a3a" stroke="#3a3a3a" stroke-width="0.10" font-weight="normal" >YC2016N + YC2017 +</text>
<text x="489.60" y="310.75" font-size="5.60" text-anchor="middle" fill="#3a3a3a" stroke="#3a3a3a" stroke-width="0.10" font-weight="normal" >YC2018</text>
<line x1="564.90" y1="297.20" x2="564.90" y2="298.80" stroke="#333" stroke-width="0.9"/>
<text x="564.90" y="304.70" font-size="5.60" text-anchor="middle" fill="#3a3a3a" stroke="#3a3a3a" stroke-width="0.10" font-weight="normal" >YC2016F + YC2017 +</text>
<text x="564.90" y="310.75" font-size="5.60" text-anchor="middle" fill="#3a3a3a" stroke="#3a3a3a" stroke-width="0.10" font-weight="normal" >YC2018</text>
<line x1="640.20" y1="297.20" x2="640.20" y2="298.80" stroke="#333" stroke-width="0.9"/>
<text x="640.20" y="304.70" font-size="5.60" text-anchor="middle" fill="#3a3a3a" stroke="#3a3a3a" stroke-width="0.10" font-weight="normal" >YC2016N + YC2016F +</text>
<text x="640.20" y="310.75" font-size="5.60" text-anchor="middle" fill="#3a3a3a" stroke="#3a3a3a" stroke-width="0.10" font-weight="normal" >YC2017 + YC2018</text>
<text x="527.55" y="319.20" font-size="7.05" text-anchor="middle" fill="#000" stroke="#000" stroke-width="0.07" font-weight="normal" >reference set</text>
<text x="351.90" y="234.60" font-size="7.05" text-anchor="middle" fill="#000" stroke="#000" stroke-width="0.07" font-weight="normal" transform="rotate(-90 351.90 234.60)">bias</text>
<text x="345.70" y="179.00" font-size="9.50" text-anchor="start" fill="#000" stroke="#000" stroke-width="0.00" font-weight="bold" >d</text>
<path d="M397.6,178.3 L397.6,178.6 L397.6,179.0 L397.6,179.3 L397.6,179.6 L397.6,180.0 L397.6,180.3 L397.6,180.6 L397.7,181.0 L397.7,181.3 L397.7,181.6 L397.7,182.0 L397.7,182.3 L397.7,182.6 L397.7,183.0 L397.7,183.3 L397.7,183.6 L397.7,184.0 L397.7,184.3 L397.8,184.6 L397.8,185.0 L397.8,185.3 L397.8,185.6 L397.8,186.0 L397.8,186.3 L397.8,186.6 L397.8,187.0 L397.8,187.3 L397.9,187.6 L397.9,188.0 L397.9,188.3 L397.9,188.6 L397.9,189.0 L397.9,189.3 L397.9,189.6 L398.0,190.0 L398.0,190.3 L398.0,190.6 L398.0,191.0 L398.0,191.3 L398.0,191.6 L398.0,192.0 L398.1,192.3 L398.1,192.6 L398.1,193.0 L398.1,193.3 L398.1,193.6 L398.1,194.0 L398.2,194.3 L398.2,194.6 L398.2,195.0 L398.2,195.3 L398.2,195.6 L398.3,196.0 L398.3,196.3 L398.3,196.6 L398.3,197.0 L398.3,197.3 L398.4,197.6 L398.4,198.0 L398.4,198.3 L398.4,198.6 L398.5,199.0 L398.5,199.3 L398.5,199.6 L398.5,200.0 L398.6,200.3 L398.6,200.6 L398.7,201.0 L398.7,201.3 L398.8,201.6 L398.8,202.0 L398.9,202.3 L398.9,202.6 L399.0,203.0 L399.1,203.3 L399.1,203.6 L399.2,204.0 L399.2,204.3 L399.3,204.6 L399.3,205.0 L399.4,205.3 L399.5,205.6 L399.5,206.0 L399.6,206.3 L399.7,206.6 L399.7,207.0 L399.8,207.3 L399.9,207.6 L400.0,208.0 L400.1,208.3 L400.1,208.6 L400.2,209.0 L400.3,209.3 L400.5,209.6 L400.6,210.0 L400.7,210.3 L400.8,210.6 L400.9,211.0 L401.0,211.3 L401.2,211.6 L401.3,212.0 L401.5,212.3 L401.6,212.6 L401.8,213.0 L402.0,213.3 L402.1,213.6 L402.3,214.0 L402.5,214.3 L402.7,214.6 L402.9,215.0 L403.1,215.3 L403.2,215.6 L403.4,216.0 L403.6,216.3 L403.8,216.6 L404.0,217.0 L404.2,217.3 L404.4,217.6 L404.6,218.0 L404.8,218.3 L405.0,218.6 L405.2,219.0 L405.4,219.3 L405.6,219.6 L405.8,220.0 L406.1,220.3 L406.3,220.6 L406.5,221.0 L406.6,221.3 L406.8,221.6 L407.0,222.0 L407.2,222.3 L407.4,222.6 L407.5,223.0 L407.7,223.3 L407.8,223.6 L408.0,224.0 L408.1,224.3 L408.3,224.6 L408.4,225.0 L408.5,225.3 L408.6,225.6 L408.8,226.0 L408.8,226.3 L408.9,226.6 L409.0,227.0 L409.1,227.3 L409.2,227.6 L409.2,228.0 L409.3,228.3 L409.4,228.6 L409.4,229.0 L409.5,229.3 L409.5,229.6 L409.5,230.0 L409.6,230.3 L409.6,230.6 L409.6,230.9 L409.6,231.3 L409.6,231.6 L409.6,231.9 L409.6,232.3 L409.6,232.6 L409.6,232.9 L409.6,233.3 L409.6,233.6 L409.6,233.9 L409.6,234.3 L409.6,234.6 L409.6,234.9 L409.5,235.3 L409.4,235.6 L409.3,235.9 L409.2,236.3 L409.1,236.6 L409.0,236.9 L408.9,237.3 L408.8,237.6 L408.7,237.9 L408.7,238.3 L408.6,238.6 L408.5,238.9 L408.5,239.3 L408.4,239.6 L408.4,239.9 L408.3,240.3 L408.2,240.6 L408.2,240.9 L408.1,241.3 L408.1,241.6 L408.0,241.9 L408.0,242.3 L407.9,242.6 L407.9,242.9 L407.8,243.3 L407.8,243.6 L407.7,243.9 L407.6,244.3 L407.6,244.6 L407.5,244.9 L407.5,245.3 L407.4,245.6 L407.3,245.9 L407.3,246.3 L407.2,246.6 L407.1,246.9 L407.0,247.3 L407.0,247.6 L406.9,247.9 L406.8,248.3 L406.7,248.6 L406.6,248.9 L406.5,249.3 L406.5,249.6 L406.4,249.9 L406.3,250.3 L406.2,250.6 L406.1,250.9 L406.0,251.3 L405.9,251.6 L405.8,251.9 L405.7,252.3 L405.6,252.6 L405.5,252.9 L405.3,253.3 L405.2,253.6 L405.1,253.9 L405.0,254.3 L404.8,254.6 L404.7,254.9 L404.6,255.3 L404.5,255.6 L404.3,255.9 L404.2,256.3 L404.0,256.6 L403.9,256.9 L403.7,257.3 L403.5,257.6 L403.4,257.9 L403.2,258.3 L403.0,258.6 L402.8,258.9 L402.6,259.3 L402.4,259.6 L402.2,259.9 L402.0,260.3 L401.7,260.6 L401.6,260.9 L401.4,261.3 L401.2,261.6 L401.0,261.9 L400.8,262.3 L400.6,262.6 L400.5,262.9 L400.3,263.3 L400.1,263.6 L400.0,263.9 L399.8,264.3 L399.7,264.6 L399.5,264.9 L399.4,265.3 L399.3,265.6 L399.1,265.9 L399.0,266.3 L398.9,266.6 L398.7,266.9 L398.6,267.3 L398.5,267.6 L398.4,267.9 L398.4,268.3 L398.3,268.6 L398.2,268.9 L398.2,269.3 L398.2,269.6 L398.1,269.9 L398.1,270.3 L398.1,270.6 L398.0,270.9 L398.0,271.3 L398.0,271.6 L398.0,271.9 L397.9,272.3 L397.9,272.6 L397.9,272.9 L397.9,273.3 L397.9,273.6 L397.8,273.9 L397.8,274.3 L397.8,274.6 L397.8,274.9 L397.8,275.3 L397.8,275.6 L397.8,275.9 L397.7,276.3 L397.7,276.6 L397.7,276.9 L397.7,277.3 L397.7,277.6 L397.7,277.9 L397.7,278.3 L397.7,278.6 L397.7,278.9 L397.6,279.3 L397.6,279.6 L397.6,279.9 L397.6,280.3 L397.6,280.6 L397.6,280.9 L397.6,281.3 L397.6,281.6 L397.6,281.6 L397.6,281.3 L397.6,280.9 L397.6,280.6 L397.6,280.3 L397.6,279.9 L397.6,279.6 L397.6,279.3 L397.5,278.9 L397.5,278.6 L397.5,278.3 L397.5,277.9 L397.5,277.6 L397.5,277.3 L397.5,276.9 L397.5,276.6 L397.5,276.3 L397.4,275.9 L397.4,275.6 L397.4,275.3 L397.4,274.9 L397.4,274.6 L397.4,274.3 L397.4,273.9 L397.3,273.6 L397.3,273.3 L397.3,272.9 L397.3,272.6 L397.3,272.3 L397.2,271.9 L397.2,271.6 L397.2,271.3 L397.2,270.9 L397.1,270.6 L397.1,270.3 L397.1,269.9 L397.0,269.6 L397.0,269.3 L397.0,268.9 L396.9,268.6 L396.8,268.3 L396.8,267.9 L396.7,267.6 L396.6,267.3 L396.5,266.9 L396.3,266.6 L396.2,266.3 L396.1,265.9 L395.9,265.6 L395.8,265.3 L395.7,264.9 L395.5,264.6 L395.4,264.3 L395.2,263.9 L395.1,263.6 L394.9,263.3 L394.7,262.9 L394.6,262.6 L394.4,262.3 L394.2,261.9 L394.0,261.6 L393.8,261.3 L393.6,260.9 L393.5,260.6 L393.2,260.3 L393.0,259.9 L392.8,259.6 L392.6,259.3 L392.4,258.9 L392.2,258.6 L392.0,258.3 L391.8,257.9 L391.7,257.6 L391.5,257.3 L391.3,256.9 L391.2,256.6 L391.0,256.3 L390.9,255.9 L390.7,255.6 L390.6,255.3 L390.5,254.9 L390.4,254.6 L390.2,254.3 L390.1,253.9 L390.0,253.6 L389.9,253.3 L389.7,252.9 L389.6,252.6 L389.5,252.3 L389.4,251.9 L389.3,251.6 L389.2,251.3 L389.1,250.9 L389.0,250.6 L388.9,250.3 L388.8,249.9 L388.7,249.6 L388.7,249.3 L388.6,248.9 L388.5,248.6 L388.4,248.3 L388.3,247.9 L388.2,247.6 L388.2,247.3 L388.1,246.9 L388.0,246.6 L387.9,246.3 L387.9,245.9 L387.8,245.6 L387.7,245.3 L387.7,244.9 L387.6,244.6 L387.6,244.3 L387.5,243.9 L387.4,243.6 L387.4,243.3 L387.3,242.9 L387.3,242.6 L387.2,242.3 L387.2,241.9 L387.1,241.6 L387.1,241.3 L387.0,240.9 L387.0,240.6 L386.9,240.3 L386.8,239.9 L386.8,239.6 L386.7,239.3 L386.7,238.9 L386.6,238.6 L386.5,238.3 L386.5,237.9 L386.4,237.6 L386.3,237.3 L386.2,236.9 L386.1,236.6 L386.0,236.3 L385.9,235.9 L385.8,235.6 L385.7,235.3 L385.6,234.9 L385.6,234.6 L385.6,234.3 L385.6,233.9 L385.6,233.6 L385.6,233.3 L385.6,232.9 L385.6,232.6 L385.6,232.3 L385.6,231.9 L385.6,231.6 L385.6,231.3 L385.6,230.9 L385.6,230.6 L385.6,230.3 L385.7,230.0 L385.7,229.6 L385.7,229.3 L385.8,229.0 L385.8,228.6 L385.9,228.3 L386.0,228.0 L386.0,227.6 L386.1,227.3 L386.2,227.0 L386.3,226.6 L386.4,226.3 L386.4,226.0 L386.6,225.6 L386.7,225.3 L386.8,225.0 L386.9,224.6 L387.1,224.3 L387.2,224.0 L387.4,223.6 L387.5,223.3 L387.7,223.0 L387.8,222.6 L388.0,222.3 L388.2,222.0 L388.4,221.6 L388.6,221.3 L388.7,221.0 L388.9,220.6 L389.1,220.3 L389.4,220.0 L389.6,219.6 L389.8,219.3 L390.0,219.0 L390.2,218.6 L390.4,218.3 L390.6,218.0 L390.8,217.6 L391.0,217.3 L391.2,217.0 L391.4,216.6 L391.6,216.3 L391.8,216.0 L392.0,215.6 L392.1,215.3 L392.3,215.0 L392.5,214.6 L392.7,214.3 L392.9,214.0 L393.1,213.6 L393.2,213.3 L393.4,213.0 L393.6,212.6 L393.7,212.3 L393.9,212.0 L394.0,211.6 L394.2,211.3 L394.3,211.0 L394.4,210.6 L394.5,210.3 L394.6,210.0 L394.7,209.6 L394.9,209.3 L395.0,209.0 L395.1,208.6 L395.1,208.3 L395.2,208.0 L395.3,207.6 L395.4,207.3 L395.5,207.0 L395.5,206.6 L395.6,206.3 L395.7,206.0 L395.7,205.6 L395.8,205.3 L395.9,205.0 L395.9,204.6 L396.0,204.3 L396.0,204.0 L396.1,203.6 L396.1,203.3 L396.2,203.0 L396.3,202.6 L396.3,202.3 L396.4,202.0 L396.4,201.6 L396.5,201.3 L396.5,201.0 L396.6,200.6 L396.6,200.3 L396.7,200.0 L396.7,199.6 L396.7,199.3 L396.7,199.0 L396.8,198.6 L396.8,198.3 L396.8,198.0 L396.8,197.6 L396.9,197.3 L396.9,197.0 L396.9,196.6 L396.9,196.3 L396.9,196.0 L397.0,195.6 L397.0,195.3 L397.0,195.0 L397.0,194.6 L397.0,194.3 L397.1,194.0 L397.1,193.6 L397.1,193.3 L397.1,193.0 L397.1,192.6 L397.1,192.3 L397.2,192.0 L397.2,191.6 L397.2,191.3 L397.2,191.0 L397.2,190.6 L397.2,190.3 L397.2,190.0 L397.3,189.6 L397.3,189.3 L397.3,189.0 L397.3,188.6 L397.3,188.3 L397.3,188.0 L397.3,187.6 L397.4,187.3 L397.4,187.0 L397.4,186.6 L397.4,186.3 L397.4,186.0 L397.4,185.6 L397.4,185.3 L397.4,185.0 L397.4,184.6 L397.5,184.3 L397.5,184.0 L397.5,183.6 L397.5,183.3 L397.5,183.0 L397.5,182.6 L397.5,182.3 L397.5,182.0 L397.5,181.6 L397.5,181.3 L397.5,181.0 L397.6,180.6 L397.6,180.3 L397.6,180.0 L397.6,179.6 L397.6,179.3 L397.6,179.0 L397.6,178.6 L397.6,178.3 Z" fill="#F8766D" stroke="#333333" stroke-width="0.75" stroke-linejoin="round"/>
<line x1="397.60" y1="203.20" x2="397.60" y2="227.40" stroke="#333333" stroke-width="0.75"/>
<line x1="397.60" y1="248.20" x2="397.60" y2="266.30" stroke="#333333" stroke-width="0.75"/>
<rect x="393.85" y="227.40" width="7.50" height="20.80" fill="#F8766D" stroke="#333333" stroke-width="0.75"/>
<line x1="393.85" y1="236.30" x2="401.35" y2="236.30" stroke="#333333" stroke-width="1.3"/>
<circle cx="397.60" cy="196.30" r="1.05" fill="#1a1a1a"/>
<path d="M431.5,191.4 L431.5,191.7 L431.5,192.1 L431.5,192.4 L431.6,192.7 L431.6,193.1 L431.6,193.4 L431.6,193.7 L431.6,194.1 L431.6,194.4 L431.6,194.7 L431.6,195.1 L431.6,195.4 L431.7,195.7 L431.7,196.1 L431.7,196.4 L431.7,196.7 L431.7,197.1 L431.7,197.4 L431.7,197.7 L431.7,198.0 L431.7,198.4 L431.7,198.7 L431.7,199.0 L431.7,199.4 L431.7,199.7 L431.7,200.0 L431.7,200.4 L431.7,200.7 L431.7,201.0 L431.7,201.4 L431.7,201.7 L431.7,202.0 L431.7,202.4 L431.8,202.7 L431.8,203.0 L431.8,203.4 L431.8,203.7 L431.8,204.0 L431.8,204.4 L431.8,204.7 L431.9,205.0 L431.9,205.4 L431.9,205.7 L431.9,206.0 L432.0,206.4 L432.0,206.7 L432.0,207.0 L432.0,207.4 L432.1,207.7 L432.1,208.0 L432.1,208.4 L432.1,208.7 L432.2,209.0 L432.2,209.4 L432.2,209.7 L432.3,210.0 L432.3,210.4 L432.4,210.7 L432.4,211.0 L432.5,211.3 L432.5,211.7 L432.6,212.0 L432.7,212.3 L432.7,212.7 L432.8,213.0 L432.9,213.3 L433.0,213.7 L433.1,214.0 L433.2,214.3 L433.3,214.7 L433.4,215.0 L433.5,215.3 L433.6,215.7 L433.8,216.0 L433.9,216.3 L434.0,216.7 L434.1,217.0 L434.3,217.3 L434.4,217.7 L434.6,218.0 L434.7,218.3 L434.9,218.7 L435.0,219.0 L435.2,219.3 L435.4,219.7 L435.6,220.0 L435.8,220.3 L436.0,220.7 L436.2,221.0 L436.4,221.3 L436.6,221.7 L436.8,222.0 L437.0,222.3 L437.2,222.7 L437.4,223.0 L437.6,223.3 L437.8,223.7 L438.0,224.0 L438.2,224.3 L438.4,224.6 L438.6,225.0 L438.8,225.3 L439.0,225.6 L439.2,226.0 L439.4,226.3 L439.6,226.6 L439.8,227.0 L440.0,227.3 L440.2,227.6 L440.4,228.0 L440.6,228.3 L440.8,228.6 L440.9,229.0 L441.1,229.3 L441.3,229.6 L441.5,230.0 L441.6,230.3 L441.8,230.6 L441.9,231.0 L442.1,231.3 L442.2,231.6 L442.3,232.0 L442.5,232.3 L442.6,232.6 L442.7,233.0 L442.9,233.3 L443.0,233.6 L443.2,234.0 L443.4,234.3 L443.6,234.6 L443.8,235.0 L444.1,235.3 L444.3,235.6 L444.5,236.0 L444.6,236.3 L444.8,236.6 L444.9,237.0 L445.0,237.3 L445.1,237.6 L445.2,237.9 L445.2,238.3 L445.3,238.6 L445.4,238.9 L445.4,239.3 L445.4,239.6 L445.4,239.9 L445.4,240.3 L445.4,240.6 L445.4,240.9 L445.3,241.3 L445.3,241.6 L445.2,241.9 L445.1,242.3 L445.1,242.6 L445.0,242.9 L444.9,243.3 L444.8,243.6 L444.7,243.9 L444.6,244.3 L444.5,244.6 L444.4,244.9 L444.3,245.3 L444.1,245.6 L444.0,245.9 L443.9,246.3 L443.8,246.6 L443.6,246.9 L443.5,247.3 L443.4,247.6 L443.3,247.9 L443.2,248.3 L443.1,248.6 L443.1,248.9 L443.0,249.3 L442.9,249.6 L442.8,249.9 L442.7,250.3 L442.6,250.6 L442.6,250.9 L442.5,251.2 L442.4,251.6 L442.3,251.9 L442.2,252.2 L442.1,252.6 L442.0,252.9 L441.9,253.2 L441.8,253.6 L441.7,253.9 L441.6,254.2 L441.4,254.6 L441.3,254.9 L441.2,255.2 L441.1,255.6 L440.9,255.9 L440.7,256.2 L440.6,256.6 L440.4,256.9 L440.2,257.2 L440.0,257.6 L439.8,257.9 L439.7,258.2 L439.5,258.6 L439.3,258.9 L439.1,259.2 L439.0,259.6 L438.8,259.9 L438.6,260.2 L438.4,260.6 L438.3,260.9 L438.1,261.2 L437.9,261.6 L437.7,261.9 L437.6,262.2 L437.4,262.6 L437.2,262.9 L437.0,263.2 L436.8,263.6 L436.6,263.9 L436.3,264.2 L436.1,264.5 L435.9,264.9 L435.7,265.2 L435.5,265.5 L435.3,265.9 L435.1,266.2 L434.9,266.5 L434.8,266.9 L434.6,267.2 L434.4,267.5 L434.3,267.9 L434.1,268.2 L434.0,268.5 L433.8,268.9 L433.7,269.2 L433.6,269.5 L433.4,269.9 L433.3,270.2 L433.2,270.5 L433.1,270.9 L432.9,271.2 L432.8,271.5 L432.7,271.9 L432.6,272.2 L432.5,272.5 L432.4,272.9 L432.3,273.2 L432.2,273.5 L432.2,273.9 L432.1,274.2 L432.1,274.5 L432.0,274.9 L432.0,275.2 L431.9,275.5 L431.9,275.9 L431.8,276.2 L431.8,276.5 L431.8,276.9 L431.8,277.2 L431.7,277.5 L431.7,277.8 L431.7,278.2 L431.7,278.5 L431.7,278.8 L431.6,279.2 L431.6,279.5 L431.6,279.8 L431.6,280.2 L431.6,280.5 L431.6,280.8 L431.5,281.2 L431.5,281.5 L431.5,281.8 L431.5,282.2 L431.5,282.5 L431.5,282.8 L431.5,283.2 L431.5,283.5 L431.5,283.5 L431.5,283.2 L431.5,282.8 L431.5,282.5 L431.5,282.2 L431.5,281.8 L431.5,281.5 L431.5,281.2 L431.4,280.8 L431.4,280.5 L431.4,280.2 L431.4,279.8 L431.4,279.5 L431.4,279.2 L431.3,278.8 L431.3,278.5 L431.3,278.2 L431.3,277.8 L431.3,277.5 L431.2,277.2 L431.2,276.9 L431.2,276.5 L431.2,276.2 L431.1,275.9 L431.1,275.5 L431.0,275.2 L431.0,274.9 L430.9,274.5 L430.9,274.2 L430.8,273.9 L430.8,273.5 L430.7,273.2 L430.6,272.9 L430.5,272.5 L430.4,272.2 L430.3,271.9 L430.2,271.5 L430.1,271.2 L429.9,270.9 L429.8,270.5 L429.7,270.2 L429.6,269.9 L429.4,269.5 L429.3,269.2 L429.2,268.9 L429.0,268.5 L428.9,268.2 L428.7,267.9 L428.6,267.5 L428.4,267.2 L428.2,266.9 L428.1,266.5 L427.9,266.2 L427.7,265.9 L427.5,265.5 L427.3,265.2 L427.1,264.9 L426.9,264.5 L426.7,264.2 L426.4,263.9 L426.2,263.6 L426.0,263.2 L425.8,262.9 L425.6,262.6 L425.4,262.2 L425.3,261.9 L425.1,261.6 L424.9,261.2 L424.7,260.9 L424.6,260.6 L424.4,260.2 L424.2,259.9 L424.0,259.6 L423.9,259.2 L423.7,258.9 L423.5,258.6 L423.3,258.2 L423.2,257.9 L423.0,257.6 L422.8,257.2 L422.6,256.9 L422.4,256.6 L422.3,256.2 L422.1,255.9 L421.9,255.6 L421.8,255.2 L421.7,254.9 L421.6,254.6 L421.4,254.2 L421.3,253.9 L421.2,253.6 L421.1,253.2 L421.0,252.9 L420.9,252.6 L420.8,252.2 L420.7,251.9 L420.6,251.6 L420.5,251.2 L420.4,250.9 L420.4,250.6 L420.3,250.3 L420.2,249.9 L420.1,249.6 L420.0,249.3 L419.9,248.9 L419.9,248.6 L419.8,248.3 L419.7,247.9 L419.6,247.6 L419.5,247.3 L419.4,246.9 L419.2,246.6 L419.1,246.3 L419.0,245.9 L418.9,245.6 L418.7,245.3 L418.6,244.9 L418.5,244.6 L418.4,244.3 L418.3,243.9 L418.2,243.6 L418.1,243.3 L418.0,242.9 L417.9,242.6 L417.9,242.3 L417.8,241.9 L417.7,241.6 L417.7,241.3 L417.6,240.9 L417.6,240.6 L417.6,240.3 L417.6,239.9 L417.6,239.6 L417.6,239.3 L417.6,238.9 L417.7,238.6 L417.8,238.3 L417.8,237.9 L417.9,237.6 L418.0,237.3 L418.1,237.0 L418.2,236.6 L418.4,236.3 L418.5,236.0 L418.7,235.6 L418.9,235.3 L419.2,235.0 L419.4,234.6 L419.6,234.3 L419.8,234.0 L420.0,233.6 L420.1,233.3 L420.3,233.0 L420.4,232.6 L420.5,232.3 L420.7,232.0 L420.8,231.6 L420.9,231.3 L421.1,231.0 L421.2,230.6 L421.4,230.3 L421.5,230.0 L421.7,229.6 L421.9,229.3 L422.1,229.0 L422.2,228.6 L422.4,228.3 L422.6,228.0 L422.8,227.6 L423.0,227.3 L423.2,227.0 L423.4,226.6 L423.6,226.3 L423.8,226.0 L424.0,225.6 L424.2,225.3 L424.4,225.0 L424.6,224.6 L424.8,224.3 L425.0,224.0 L425.2,223.7 L425.4,223.3 L425.6,223.0 L425.8,222.7 L426.0,222.3 L426.2,222.0 L426.4,221.7 L426.6,221.3 L426.8,221.0 L427.0,220.7 L427.2,220.3 L427.4,220.0 L427.6,219.7 L427.8,219.3 L428.0,219.0 L428.1,218.7 L428.3,218.3 L428.4,218.0 L428.6,217.7 L428.7,217.3 L428.9,217.0 L429.0,216.7 L429.1,216.3 L429.2,216.0 L429.4,215.7 L429.5,215.3 L429.6,215.0 L429.7,214.7 L429.8,214.3 L429.9,214.0 L430.0,213.7 L430.1,213.3 L430.2,213.0 L430.3,212.7 L430.3,212.3 L430.4,212.0 L430.5,211.7 L430.5,211.3 L430.6,211.0 L430.6,210.7 L430.7,210.4 L430.7,210.0 L430.8,209.7 L430.8,209.4 L430.8,209.0 L430.9,208.7 L430.9,208.4 L430.9,208.0 L430.9,207.7 L431.0,207.4 L431.0,207.0 L431.0,206.7 L431.0,206.4 L431.1,206.0 L431.1,205.7 L431.1,205.4 L431.1,205.0 L431.2,204.7 L431.2,204.4 L431.2,204.0 L431.2,203.7 L431.2,203.4 L431.2,203.0 L431.2,202.7 L431.3,202.4 L431.3,202.0 L431.3,201.7 L431.3,201.4 L431.3,201.0 L431.3,200.7 L431.3,200.4 L431.3,200.0 L431.3,199.7 L431.3,199.4 L431.3,199.0 L431.3,198.7 L431.3,198.4 L431.3,198.0 L431.3,197.7 L431.3,197.4 L431.3,197.1 L431.3,196.7 L431.3,196.4 L431.3,196.1 L431.3,195.7 L431.4,195.4 L431.4,195.1 L431.4,194.7 L431.4,194.4 L431.4,194.1 L431.4,193.7 L431.4,193.4 L431.4,193.1 L431.4,192.7 L431.5,192.4 L431.5,192.1 L431.5,191.7 L431.5,191.4 Z" fill="#00BFC4" stroke="#333333" stroke-width="0.75" stroke-linejoin="round"/>
<line x1="431.50" y1="213.80" x2="431.50" y2="235.60" stroke="#333333" stroke-width="0.75"/>
<line x1="431.50" y1="253.20" x2="431.50" y2="268.90" stroke="#333333" stroke-width="0.75"/>
<rect x="427.75" y="235.60" width="7.50" height="17.60" fill="#00BFC4" stroke="#333333" stroke-width="0.75"/>
<line x1="427.75" y1="242.50" x2="435.25" y2="242.50" stroke="#333333" stroke-width="1.3"/>
<circle cx="431.50" cy="207.90" r="1.05" fill="#1a1a1a"/>
<path d="M472.6,187.1 L472.6,187.4 L472.7,187.8 L472.7,188.1 L472.7,188.4 L472.8,188.8 L472.8,189.1 L472.8,189.4 L472.8,189.8 L472.8,190.1 L472.8,190.4 L472.8,190.8 L472.8,191.1 L472.8,191.4 L472.8,191.8 L472.8,192.1 L472.8,192.4 L472.8,192.8 L472.8,193.1 L472.8,193.4 L472.8,193.8 L472.8,194.1 L472.8,194.4 L472.8,194.8 L472.8,195.1 L472.8,195.4 L472.8,195.8 L472.9,196.1 L472.9,196.4 L472.9,196.8 L473.0,197.1 L473.0,197.4 L473.1,197.8 L473.1,198.1 L473.2,198.4 L473.2,198.8 L473.3,199.1 L473.4,199.4 L473.4,199.8 L473.5,200.1 L473.6,200.4 L473.6,200.8 L473.7,201.1 L473.8,201.4 L473.8,201.8 L473.9,202.1 L473.9,202.4 L474.0,202.8 L474.0,203.1 L474.1,203.4 L474.1,203.8 L474.1,204.1 L474.2,204.4 L474.2,204.8 L474.2,205.1 L474.3,205.4 L474.3,205.8 L474.3,206.1 L474.4,206.4 L474.4,206.8 L474.5,207.1 L474.5,207.4 L474.6,207.8 L474.6,208.1 L474.7,208.4 L474.7,208.8 L474.8,209.1 L474.8,209.4 L474.9,209.8 L475.0,210.1 L475.0,210.4 L475.1,210.8 L475.2,211.1 L475.3,211.4 L475.4,211.8 L475.5,212.1 L475.6,212.4 L475.7,212.8 L475.8,213.1 L475.9,213.4 L476.0,213.8 L476.2,214.1 L476.3,214.4 L476.4,214.8 L476.6,215.1 L476.8,215.4 L476.9,215.8 L477.1,216.1 L477.3,216.4 L477.5,216.8 L477.7,217.1 L477.9,217.4 L478.0,217.8 L478.2,218.1 L478.4,218.4 L478.6,218.8 L478.8,219.1 L479.0,219.4 L479.2,219.8 L479.4,220.1 L479.6,220.4 L479.8,220.8 L480.0,221.1 L480.2,221.4 L480.4,221.8 L480.6,222.1 L480.8,222.4 L480.9,222.8 L481.1,223.1 L481.3,223.4 L481.4,223.8 L481.6,224.1 L481.7,224.4 L481.9,224.8 L482.0,225.1 L482.2,225.4 L482.3,225.8 L482.5,226.1 L482.6,226.4 L482.7,226.8 L482.9,227.1 L483.0,227.4 L483.1,227.8 L483.2,228.1 L483.3,228.4 L483.4,228.8 L483.5,229.1 L483.6,229.4 L483.7,229.8 L483.8,230.1 L483.9,230.4 L483.9,230.8 L484.0,231.1 L484.1,231.4 L484.2,231.8 L484.2,232.1 L484.2,232.4 L484.3,232.8 L484.3,233.1 L484.3,233.4 L484.3,233.8 L484.3,234.1 L484.3,234.4 L484.3,234.8 L484.3,235.1 L484.3,235.4 L484.3,235.7 L484.3,236.1 L484.3,236.4 L484.3,236.7 L484.2,237.1 L484.2,237.4 L484.2,237.7 L484.1,238.1 L484.1,238.4 L484.1,238.7 L484.0,239.1 L484.0,239.4 L483.9,239.7 L483.9,240.1 L483.8,240.4 L483.8,240.7 L483.7,241.1 L483.6,241.4 L483.6,241.7 L483.5,242.1 L483.5,242.4 L483.4,242.7 L483.3,243.1 L483.3,243.4 L483.2,243.7 L483.2,244.1 L483.1,244.4 L483.0,244.7 L482.9,245.1 L482.9,245.4 L482.8,245.7 L482.7,246.1 L482.6,246.4 L482.5,246.7 L482.4,247.1 L482.3,247.4 L482.2,247.7 L482.1,248.1 L482.0,248.4 L481.8,248.7 L481.7,249.1 L481.6,249.4 L481.4,249.7 L481.3,250.1 L481.2,250.4 L481.1,250.7 L480.9,251.1 L480.8,251.4 L480.6,251.7 L480.5,252.1 L480.3,252.4 L480.2,252.7 L480.1,253.1 L479.9,253.4 L479.8,253.7 L479.6,254.1 L479.5,254.4 L479.4,254.7 L479.2,255.1 L479.1,255.4 L479.0,255.7 L478.8,256.1 L478.7,256.4 L478.5,256.7 L478.4,257.1 L478.2,257.4 L478.1,257.7 L477.9,258.1 L477.7,258.4 L477.5,258.7 L477.4,259.1 L477.2,259.4 L477.0,259.7 L476.8,260.1 L476.6,260.4 L476.4,260.7 L476.3,261.1 L476.1,261.4 L476.0,261.7 L475.8,262.1 L475.7,262.4 L475.5,262.7 L475.4,263.1 L475.3,263.4 L475.1,263.7 L475.0,264.1 L474.9,264.4 L474.8,264.7 L474.7,265.1 L474.5,265.4 L474.4,265.7 L474.3,266.1 L474.2,266.4 L474.1,266.7 L474.0,267.1 L473.9,267.4 L473.8,267.7 L473.7,268.1 L473.6,268.4 L473.6,268.7 L473.5,269.1 L473.5,269.4 L473.4,269.7 L473.3,270.1 L473.3,270.4 L473.2,270.7 L473.2,271.1 L473.1,271.4 L473.1,271.7 L473.1,272.1 L473.0,272.4 L473.0,272.7 L472.9,273.1 L472.9,273.4 L472.9,273.7 L472.9,274.1 L472.8,274.4 L472.8,274.7 L472.8,275.1 L472.8,275.4 L472.8,275.7 L472.8,276.1 L472.7,276.4 L472.7,276.7 L472.7,277.1 L472.7,277.4 L472.7,277.7 L472.7,278.1 L472.7,278.4 L472.7,278.7 L472.6,279.1 L472.6,279.4 L472.6,279.7 L472.6,280.1 L472.6,280.4 L472.6,280.7 L472.6,281.1 L472.6,281.4 L472.6,281.7 L472.6,282.1 L472.6,282.4 L472.6,282.4 L472.6,282.1 L472.6,281.7 L472.6,281.4 L472.6,281.1 L472.6,280.7 L472.6,280.4 L472.6,280.1 L472.6,279.7 L472.6,279.4 L472.6,279.1 L472.5,278.7 L472.5,278.4 L472.5,278.1 L472.5,277.7 L472.5,277.4 L472.5,277.1 L472.5,276.7 L472.5,276.4 L472.4,276.1 L472.4,275.7 L472.4,275.4 L472.4,275.1 L472.4,274.7 L472.4,274.4 L472.3,274.1 L472.3,273.7 L472.3,273.4 L472.3,273.1 L472.2,272.7 L472.2,272.4 L472.1,272.1 L472.1,271.7 L472.1,271.4 L472.0,271.1 L472.0,270.7 L471.9,270.4 L471.9,270.1 L471.8,269.7 L471.7,269.4 L471.7,269.1 L471.6,268.7 L471.6,268.4 L471.5,268.1 L471.4,267.7 L471.3,267.4 L471.2,267.1 L471.1,266.7 L471.0,266.4 L470.9,266.1 L470.8,265.7 L470.7,265.4 L470.5,265.1 L470.4,264.7 L470.3,264.4 L470.2,264.1 L470.1,263.7 L469.9,263.4 L469.8,263.1 L469.7,262.7 L469.5,262.4 L469.4,262.1 L469.2,261.7 L469.1,261.4 L468.9,261.1 L468.8,260.7 L468.6,260.4 L468.4,260.1 L468.2,259.7 L468.0,259.4 L467.8,259.1 L467.7,258.7 L467.5,258.4 L467.3,258.1 L467.1,257.7 L467.0,257.4 L466.8,257.1 L466.7,256.7 L466.5,256.4 L466.4,256.1 L466.2,255.7 L466.1,255.4 L466.0,255.1 L465.8,254.7 L465.7,254.4 L465.6,254.1 L465.4,253.7 L465.3,253.4 L465.1,253.1 L465.0,252.7 L464.9,252.4 L464.7,252.1 L464.6,251.7 L464.4,251.4 L464.3,251.1 L464.1,250.7 L464.0,250.4 L463.9,250.1 L463.8,249.7 L463.6,249.4 L463.5,249.1 L463.4,248.7 L463.2,248.4 L463.1,248.1 L463.0,247.7 L462.9,247.4 L462.8,247.1 L462.7,246.7 L462.6,246.4 L462.5,246.1 L462.4,245.7 L462.3,245.4 L462.3,245.1 L462.2,244.7 L462.1,244.4 L462.0,244.1 L462.0,243.7 L461.9,243.4 L461.9,243.1 L461.8,242.7 L461.7,242.4 L461.7,242.1 L461.6,241.7 L461.6,241.4 L461.5,241.1 L461.4,240.7 L461.4,240.4 L461.3,240.1 L461.3,239.7 L461.2,239.4 L461.2,239.1 L461.1,238.7 L461.1,238.4 L461.1,238.1 L461.0,237.7 L461.0,237.4 L461.0,237.1 L460.9,236.7 L460.9,236.4 L460.9,236.1 L460.9,235.7 L460.9,235.4 L460.9,235.1 L460.9,234.8 L460.9,234.4 L460.9,234.1 L460.9,233.8 L460.9,233.4 L460.9,233.1 L460.9,232.8 L461.0,232.4 L461.0,232.1 L461.0,231.8 L461.1,231.4 L461.2,231.1 L461.3,230.8 L461.3,230.4 L461.4,230.1 L461.5,229.8 L461.6,229.4 L461.7,229.1 L461.8,228.8 L461.9,228.4 L462.0,228.1 L462.1,227.8 L462.2,227.4 L462.3,227.1 L462.5,226.8 L462.6,226.4 L462.7,226.1 L462.9,225.8 L463.0,225.4 L463.2,225.1 L463.3,224.8 L463.5,224.4 L463.6,224.1 L463.8,223.8 L463.9,223.4 L464.1,223.1 L464.3,222.8 L464.4,222.4 L464.6,222.1 L464.8,221.8 L465.0,221.4 L465.2,221.1 L465.4,220.8 L465.6,220.4 L465.8,220.1 L466.0,219.8 L466.2,219.4 L466.4,219.1 L466.6,218.8 L466.8,218.4 L467.0,218.1 L467.2,217.8 L467.3,217.4 L467.5,217.1 L467.7,216.8 L467.9,216.4 L468.1,216.1 L468.3,215.8 L468.4,215.4 L468.6,215.1 L468.8,214.8 L468.9,214.4 L469.0,214.1 L469.2,213.8 L469.3,213.4 L469.4,213.1 L469.5,212.8 L469.6,212.4 L469.7,212.1 L469.8,211.8 L469.9,211.4 L470.0,211.1 L470.1,210.8 L470.2,210.4 L470.2,210.1 L470.3,209.8 L470.4,209.4 L470.4,209.1 L470.5,208.8 L470.5,208.4 L470.6,208.1 L470.6,207.8 L470.7,207.4 L470.7,207.1 L470.8,206.8 L470.8,206.4 L470.9,206.1 L470.9,205.8 L470.9,205.4 L471.0,205.1 L471.0,204.8 L471.0,204.4 L471.1,204.1 L471.1,203.8 L471.1,203.4 L471.2,203.1 L471.2,202.8 L471.3,202.4 L471.3,202.1 L471.4,201.8 L471.4,201.4 L471.5,201.1 L471.6,200.8 L471.6,200.4 L471.7,200.1 L471.8,199.8 L471.8,199.4 L471.9,199.1 L472.0,198.8 L472.0,198.4 L472.1,198.1 L472.1,197.8 L472.2,197.4 L472.2,197.1 L472.3,196.8 L472.3,196.4 L472.3,196.1 L472.4,195.8 L472.4,195.4 L472.4,195.1 L472.4,194.8 L472.4,194.4 L472.4,194.1 L472.4,193.8 L472.4,193.4 L472.4,193.1 L472.4,192.8 L472.4,192.4 L472.4,192.1 L472.4,191.8 L472.4,191.4 L472.4,191.1 L472.4,190.8 L472.4,190.4 L472.4,190.1 L472.4,189.8 L472.4,189.4 L472.4,189.1 L472.4,188.8 L472.5,188.4 L472.5,188.1 L472.5,187.8 L472.6,187.4 L472.6,187.1 Z" fill="#F8766D" stroke="#333333" stroke-width="0.75" stroke-linejoin="round"/>
<line x1="472.60" y1="205.00" x2="472.60" y2="230.40" stroke="#333333" stroke-width="0.75"/>
<line x1="472.60" y1="248.20" x2="472.60" y2="265.10" stroke="#333333" stroke-width="0.75"/>
<rect x="468.85" y="230.40" width="7.50" height="17.80" fill="#F8766D" stroke="#333333" stroke-width="0.75"/>
<line x1="468.85" y1="237.30" x2="476.35" y2="237.30" stroke="#333333" stroke-width="1.3"/>
<path d="M506.5,208.4 L506.5,208.7 L506.5,209.1 L506.5,209.4 L506.5,209.7 L506.5,210.1 L506.5,210.4 L506.5,210.7 L506.6,211.1 L506.6,211.4 L506.6,211.7 L506.6,212.1 L506.6,212.4 L506.6,212.7 L506.7,213.0 L506.7,213.4 L506.7,213.7 L506.7,214.0 L506.8,214.4 L506.8,214.7 L506.9,215.0 L506.9,215.4 L507.0,215.7 L507.1,216.0 L507.2,216.4 L507.2,216.7 L507.3,217.0 L507.4,217.4 L507.5,217.7 L507.6,218.0 L507.6,218.4 L507.7,218.7 L507.8,219.0 L507.9,219.4 L508.0,219.7 L508.1,220.0 L508.2,220.4 L508.3,220.7 L508.4,221.0 L508.5,221.4 L508.5,221.7 L508.6,222.0 L508.7,222.3 L508.8,222.7 L508.8,223.0 L508.9,223.3 L509.0,223.7 L509.1,224.0 L509.2,224.3 L509.2,224.7 L509.3,225.0 L509.4,225.3 L509.5,225.7 L509.6,226.0 L509.7,226.3 L509.8,226.7 L510.0,227.0 L510.1,227.3 L510.2,227.7 L510.3,228.0 L510.4,228.3 L510.6,228.7 L510.7,229.0 L510.8,229.3 L510.9,229.7 L511.1,230.0 L511.2,230.3 L511.3,230.7 L511.4,231.0 L511.6,231.3 L511.7,231.6 L511.9,232.0 L512.0,232.3 L512.2,232.6 L512.3,233.0 L512.5,233.3 L512.7,233.6 L512.8,234.0 L513.0,234.3 L513.2,234.6 L513.4,235.0 L513.6,235.3 L513.9,235.6 L514.1,236.0 L514.4,236.3 L514.7,236.6 L514.9,237.0 L515.2,237.3 L515.5,237.6 L515.7,238.0 L516.0,238.3 L516.2,238.6 L516.5,239.0 L516.7,239.3 L516.9,239.6 L517.1,240.0 L517.3,240.3 L517.5,240.6 L517.7,240.9 L517.9,241.3 L518.1,241.6 L518.3,241.9 L518.4,242.3 L518.6,242.6 L518.8,242.9 L518.9,243.3 L519.0,243.6 L519.2,243.9 L519.3,244.3 L519.5,244.6 L519.6,244.9 L519.7,245.3 L519.8,245.6 L519.9,245.9 L519.9,246.3 L520.0,246.6 L520.1,246.9 L520.1,247.3 L520.2,247.6 L520.2,247.9 L520.2,248.3 L520.2,248.6 L520.2,248.9 L520.2,249.2 L520.2,249.6 L520.2,249.9 L520.2,250.2 L520.1,250.6 L520.1,250.9 L520.0,251.2 L520.0,251.6 L519.9,251.9 L519.8,252.2 L519.8,252.6 L519.7,252.9 L519.6,253.2 L519.5,253.6 L519.3,253.9 L519.2,254.2 L519.0,254.6 L518.9,254.9 L518.7,255.2 L518.5,255.6 L518.4,255.9 L518.2,256.2 L518.0,256.6 L517.8,256.9 L517.7,257.2 L517.5,257.6 L517.3,257.9 L517.1,258.2 L516.9,258.5 L516.7,258.9 L516.5,259.2 L516.3,259.5 L516.1,259.9 L515.9,260.2 L515.7,260.5 L515.5,260.9 L515.2,261.2 L515.0,261.5 L514.8,261.9 L514.5,262.2 L514.3,262.5 L514.1,262.9 L513.9,263.2 L513.6,263.5 L513.4,263.9 L513.2,264.2 L513.0,264.5 L512.7,264.9 L512.5,265.2 L512.3,265.5 L512.1,265.9 L511.9,266.2 L511.7,266.5 L511.4,266.9 L511.2,267.2 L511.0,267.5 L510.8,267.8 L510.6,268.2 L510.3,268.5 L510.1,268.8 L509.9,269.2 L509.7,269.5 L509.4,269.8 L509.2,270.2 L509.0,270.5 L508.8,270.8 L508.7,271.2 L508.5,271.5 L508.3,271.8 L508.2,272.2 L508.0,272.5 L507.9,272.8 L507.8,273.2 L507.6,273.5 L507.5,273.8 L507.4,274.2 L507.4,274.5 L507.3,274.8 L507.2,275.2 L507.2,275.5 L507.1,275.8 L507.1,276.2 L507.0,276.5 L507.0,276.8 L506.9,277.1 L506.9,277.5 L506.8,277.8 L506.8,278.1 L506.8,278.5 L506.7,278.8 L506.7,279.1 L506.7,279.5 L506.7,279.8 L506.7,280.1 L506.7,280.5 L506.7,280.8 L506.7,281.1 L506.7,281.5 L506.7,281.8 L506.7,282.1 L506.7,282.5 L506.7,282.8 L506.7,283.1 L506.7,283.5 L506.7,283.8 L506.7,284.1 L506.7,284.5 L506.7,284.8 L506.7,285.1 L506.7,285.5 L506.7,285.8 L506.7,286.1 L506.7,286.4 L506.7,286.8 L506.7,287.1 L506.6,287.4 L506.6,287.8 L506.6,288.1 L506.6,288.4 L506.6,288.8 L506.6,289.1 L506.5,289.4 L506.5,289.8 L506.5,290.1 L506.5,290.1 L506.5,289.8 L506.5,289.4 L506.4,289.1 L506.4,288.8 L506.4,288.4 L506.4,288.1 L506.4,287.8 L506.4,287.4 L506.3,287.1 L506.3,286.8 L506.3,286.4 L506.3,286.1 L506.3,285.8 L506.3,285.5 L506.3,285.1 L506.3,284.8 L506.3,284.5 L506.3,284.1 L506.3,283.8 L506.3,283.5 L506.3,283.1 L506.3,282.8 L506.3,282.5 L506.3,282.1 L506.3,281.8 L506.3,281.5 L506.3,281.1 L506.3,280.8 L506.3,280.5 L506.3,280.1 L506.3,279.8 L506.3,279.5 L506.3,279.1 L506.3,278.8 L506.2,278.5 L506.2,278.1 L506.2,277.8 L506.1,277.5 L506.1,277.1 L506.0,276.8 L506.0,276.5 L505.9,276.2 L505.9,275.8 L505.8,275.5 L505.8,275.2 L505.7,274.8 L505.6,274.5 L505.6,274.2 L505.5,273.8 L505.4,273.5 L505.2,273.2 L505.1,272.8 L505.0,272.5 L504.8,272.2 L504.7,271.8 L504.5,271.5 L504.3,271.2 L504.2,270.8 L504.0,270.5 L503.8,270.2 L503.6,269.8 L503.3,269.5 L503.1,269.2 L502.9,268.8 L502.7,268.5 L502.4,268.2 L502.2,267.8 L502.0,267.5 L501.8,267.2 L501.6,266.9 L501.3,266.5 L501.1,266.2 L500.9,265.9 L500.7,265.5 L500.5,265.2 L500.3,264.9 L500.0,264.5 L499.8,264.2 L499.6,263.9 L499.4,263.5 L499.1,263.2 L498.9,262.9 L498.7,262.5 L498.5,262.2 L498.2,261.9 L498.0,261.5 L497.8,261.2 L497.5,260.9 L497.3,260.5 L497.1,260.2 L496.9,259.9 L496.7,259.5 L496.5,259.2 L496.3,258.9 L496.1,258.5 L495.9,258.2 L495.7,257.9 L495.5,257.6 L495.3,257.2 L495.2,256.9 L495.0,256.6 L494.8,256.2 L494.6,255.9 L494.5,255.6 L494.3,255.2 L494.1,254.9 L494.0,254.6 L493.8,254.2 L493.7,253.9 L493.5,253.6 L493.4,253.2 L493.3,252.9 L493.2,252.6 L493.2,252.2 L493.1,251.9 L493.0,251.6 L493.0,251.2 L492.9,250.9 L492.9,250.6 L492.8,250.2 L492.8,249.9 L492.8,249.6 L492.8,249.2 L492.8,248.9 L492.8,248.6 L492.8,248.3 L492.8,247.9 L492.8,247.6 L492.9,247.3 L492.9,246.9 L493.0,246.6 L493.1,246.3 L493.1,245.9 L493.2,245.6 L493.3,245.3 L493.4,244.9 L493.5,244.6 L493.7,244.3 L493.8,243.9 L494.0,243.6 L494.1,243.3 L494.2,242.9 L494.4,242.6 L494.6,242.3 L494.7,241.9 L494.9,241.6 L495.1,241.3 L495.3,240.9 L495.5,240.6 L495.7,240.3 L495.9,240.0 L496.1,239.6 L496.3,239.3 L496.5,239.0 L496.8,238.6 L497.0,238.3 L497.3,238.0 L497.5,237.6 L497.8,237.3 L498.1,237.0 L498.3,236.6 L498.6,236.3 L498.9,236.0 L499.1,235.6 L499.4,235.3 L499.6,235.0 L499.8,234.6 L500.0,234.3 L500.2,234.0 L500.3,233.6 L500.5,233.3 L500.7,233.0 L500.8,232.6 L501.0,232.3 L501.1,232.0 L501.3,231.6 L501.4,231.3 L501.6,231.0 L501.7,230.7 L501.8,230.3 L501.9,230.0 L502.1,229.7 L502.2,229.3 L502.3,229.0 L502.4,228.7 L502.6,228.3 L502.7,228.0 L502.8,227.7 L502.9,227.3 L503.0,227.0 L503.2,226.7 L503.3,226.3 L503.4,226.0 L503.5,225.7 L503.6,225.3 L503.7,225.0 L503.8,224.7 L503.8,224.3 L503.9,224.0 L504.0,223.7 L504.1,223.3 L504.2,223.0 L504.2,222.7 L504.3,222.3 L504.4,222.0 L504.5,221.7 L504.5,221.4 L504.6,221.0 L504.7,220.7 L504.8,220.4 L504.9,220.0 L505.0,219.7 L505.1,219.4 L505.2,219.0 L505.3,218.7 L505.4,218.4 L505.4,218.0 L505.5,217.7 L505.6,217.4 L505.7,217.0 L505.8,216.7 L505.8,216.4 L505.9,216.0 L506.0,215.7 L506.1,215.4 L506.1,215.0 L506.2,214.7 L506.2,214.4 L506.3,214.0 L506.3,213.7 L506.3,213.4 L506.3,213.0 L506.4,212.7 L506.4,212.4 L506.4,212.1 L506.4,211.7 L506.4,211.4 L506.4,211.1 L506.5,210.7 L506.5,210.4 L506.5,210.1 L506.5,209.7 L506.5,209.4 L506.5,209.1 L506.5,208.7 L506.5,208.4 Z" fill="#00BFC4" stroke="#333333" stroke-width="0.75" stroke-linejoin="round"/>
<line x1="506.50" y1="223.80" x2="506.50" y2="241.30" stroke="#333333" stroke-width="0.75"/>
<line x1="506.50" y1="257.60" x2="506.50" y2="273.00" stroke="#333333" stroke-width="0.75"/>
<rect x="502.75" y="241.30" width="7.50" height="16.30" fill="#00BFC4" stroke="#333333" stroke-width="0.75"/>
<line x1="502.75" y1="249.80" x2="510.25" y2="249.80" stroke="#333333" stroke-width="1.3"/>
<path d="M548.0,182.8 L548.0,183.1 L548.0,183.5 L548.0,183.8 L548.1,184.1 L548.1,184.5 L548.1,184.8 L548.1,185.1 L548.1,185.5 L548.1,185.8 L548.1,186.1 L548.2,186.5 L548.2,186.8 L548.2,187.1 L548.2,187.5 L548.2,187.8 L548.2,188.1 L548.2,188.4 L548.2,188.8 L548.2,189.1 L548.2,189.4 L548.2,189.8 L548.2,190.1 L548.3,190.4 L548.3,190.8 L548.3,191.1 L548.3,191.4 L548.3,191.8 L548.3,192.1 L548.3,192.4 L548.3,192.8 L548.3,193.1 L548.3,193.4 L548.3,193.8 L548.3,194.1 L548.3,194.4 L548.3,194.8 L548.4,195.1 L548.4,195.4 L548.4,195.8 L548.4,196.1 L548.4,196.4 L548.4,196.8 L548.4,197.1 L548.5,197.4 L548.5,197.8 L548.5,198.1 L548.5,198.4 L548.5,198.8 L548.6,199.1 L548.6,199.4 L548.6,199.7 L548.6,200.1 L548.7,200.4 L548.7,200.7 L548.7,201.1 L548.7,201.4 L548.8,201.7 L548.8,202.1 L548.8,202.4 L548.9,202.7 L548.9,203.1 L549.0,203.4 L549.0,203.7 L549.0,204.1 L549.1,204.4 L549.2,204.7 L549.2,205.1 L549.3,205.4 L549.3,205.7 L549.4,206.1 L549.5,206.4 L549.5,206.7 L549.6,207.1 L549.7,207.4 L549.8,207.7 L549.9,208.1 L550.0,208.4 L550.1,208.7 L550.1,209.1 L550.3,209.4 L550.4,209.7 L550.5,210.0 L550.6,210.4 L550.7,210.7 L550.8,211.0 L550.9,211.4 L551.1,211.7 L551.2,212.0 L551.4,212.4 L551.5,212.7 L551.7,213.0 L551.8,213.4 L552.0,213.7 L552.2,214.0 L552.4,214.4 L552.6,214.7 L552.8,215.0 L553.0,215.4 L553.2,215.7 L553.5,216.0 L553.7,216.4 L553.9,216.7 L554.2,217.0 L554.4,217.4 L554.6,217.7 L554.8,218.0 L555.1,218.4 L555.3,218.7 L555.5,219.0 L555.7,219.4 L556.0,219.7 L556.2,220.0 L556.4,220.3 L556.6,220.7 L556.8,221.0 L557.0,221.3 L557.1,221.7 L557.3,222.0 L557.5,222.3 L557.7,222.7 L557.8,223.0 L558.0,223.3 L558.1,223.7 L558.3,224.0 L558.4,224.3 L558.5,224.7 L558.6,225.0 L558.7,225.3 L558.8,225.7 L558.9,226.0 L559.0,226.3 L559.1,226.7 L559.2,227.0 L559.3,227.3 L559.3,227.7 L559.4,228.0 L559.5,228.3 L559.5,228.7 L559.6,229.0 L559.6,229.3 L559.7,229.7 L559.7,230.0 L559.8,230.3 L559.8,230.7 L559.8,231.0 L559.9,231.3 L559.9,231.6 L559.9,232.0 L559.9,232.3 L560.0,232.6 L560.0,233.0 L560.0,233.3 L560.0,233.6 L560.0,234.0 L560.0,234.3 L560.0,234.6 L560.0,235.0 L559.9,235.3 L559.9,235.6 L559.9,236.0 L559.9,236.3 L559.9,236.6 L559.8,237.0 L559.8,237.3 L559.7,237.6 L559.7,238.0 L559.6,238.3 L559.6,238.6 L559.5,239.0 L559.5,239.3 L559.4,239.6 L559.3,240.0 L559.3,240.3 L559.2,240.6 L559.1,241.0 L559.0,241.3 L558.9,241.6 L558.8,241.9 L558.7,242.3 L558.6,242.6 L558.5,242.9 L558.4,243.3 L558.3,243.6 L558.2,243.9 L558.1,244.3 L558.0,244.6 L557.9,244.9 L557.7,245.3 L557.6,245.6 L557.5,245.9 L557.4,246.3 L557.2,246.6 L557.1,246.9 L557.0,247.3 L556.9,247.6 L556.7,247.9 L556.6,248.3 L556.4,248.6 L556.3,248.9 L556.2,249.3 L556.0,249.6 L555.9,249.9 L555.7,250.3 L555.6,250.6 L555.4,250.9 L555.3,251.3 L555.1,251.6 L555.0,251.9 L554.8,252.2 L554.7,252.6 L554.5,252.9 L554.3,253.2 L554.2,253.6 L554.0,253.9 L553.8,254.2 L553.7,254.6 L553.5,254.9 L553.3,255.2 L553.1,255.6 L552.9,255.9 L552.8,256.2 L552.6,256.6 L552.4,256.9 L552.2,257.2 L552.1,257.6 L551.9,257.9 L551.7,258.2 L551.6,258.6 L551.4,258.9 L551.2,259.2 L551.0,259.6 L550.9,259.9 L550.7,260.2 L550.6,260.6 L550.4,260.9 L550.3,261.2 L550.1,261.6 L550.0,261.9 L549.9,262.2 L549.7,262.6 L549.6,262.9 L549.5,263.2 L549.4,263.5 L549.3,263.9 L549.2,264.2 L549.1,264.5 L549.0,264.9 L548.9,265.2 L548.9,265.5 L548.8,265.9 L548.7,266.2 L548.7,266.5 L548.6,266.9 L548.6,267.2 L548.5,267.5 L548.5,267.9 L548.4,268.2 L548.4,268.5 L548.4,268.9 L548.3,269.2 L548.3,269.5 L548.3,269.9 L548.2,270.2 L548.2,270.5 L548.2,270.9 L548.2,271.2 L548.2,271.5 L548.2,271.9 L548.1,272.2 L548.1,272.5 L548.1,272.9 L548.1,273.2 L548.1,273.5 L548.1,273.8 L548.1,274.2 L548.1,274.5 L548.1,274.8 L548.0,275.2 L548.0,275.5 L548.0,275.8 L548.0,276.2 L548.0,276.5 L548.0,276.8 L548.0,277.2 L548.0,277.5 L548.0,277.8 L548.0,278.2 L548.0,278.5 L548.0,278.5 L548.0,278.2 L548.0,277.8 L548.0,277.5 L548.0,277.2 L548.0,276.8 L548.0,276.5 L548.0,276.2 L548.0,275.8 L548.0,275.5 L548.0,275.2 L547.9,274.8 L547.9,274.5 L547.9,274.2 L547.9,273.8 L547.9,273.5 L547.9,273.2 L547.9,272.9 L547.9,272.5 L547.9,272.2 L547.8,271.9 L547.8,271.5 L547.8,271.2 L547.8,270.9 L547.8,270.5 L547.8,270.2 L547.7,269.9 L547.7,269.5 L547.7,269.2 L547.6,268.9 L547.6,268.5 L547.6,268.2 L547.5,267.9 L547.5,267.5 L547.4,267.2 L547.4,266.9 L547.3,266.5 L547.3,266.2 L547.2,265.9 L547.1,265.5 L547.1,265.2 L547.0,264.9 L546.9,264.5 L546.8,264.2 L546.7,263.9 L546.6,263.5 L546.5,263.2 L546.4,262.9 L546.3,262.6 L546.1,262.2 L546.0,261.9 L545.9,261.6 L545.7,261.2 L545.6,260.9 L545.4,260.6 L545.3,260.2 L545.1,259.9 L545.0,259.6 L544.8,259.2 L544.6,258.9 L544.4,258.6 L544.3,258.2 L544.1,257.9 L543.9,257.6 L543.8,257.2 L543.6,256.9 L543.4,256.6 L543.2,256.2 L543.1,255.9 L542.9,255.6 L542.7,255.2 L542.5,254.9 L542.3,254.6 L542.2,254.2 L542.0,253.9 L541.8,253.6 L541.7,253.2 L541.5,252.9 L541.3,252.6 L541.2,252.2 L541.0,251.9 L540.9,251.6 L540.7,251.3 L540.6,250.9 L540.4,250.6 L540.3,250.3 L540.1,249.9 L540.0,249.6 L539.8,249.3 L539.7,248.9 L539.6,248.6 L539.4,248.3 L539.3,247.9 L539.1,247.6 L539.0,247.3 L538.9,246.9 L538.8,246.6 L538.6,246.3 L538.5,245.9 L538.4,245.6 L538.3,245.3 L538.1,244.9 L538.0,244.6 L537.9,244.3 L537.8,243.9 L537.7,243.6 L537.6,243.3 L537.5,242.9 L537.4,242.6 L537.3,242.3 L537.2,241.9 L537.1,241.6 L537.0,241.3 L536.9,241.0 L536.8,240.6 L536.7,240.3 L536.7,240.0 L536.6,239.6 L536.5,239.3 L536.5,239.0 L536.4,238.6 L536.4,238.3 L536.3,238.0 L536.3,237.6 L536.2,237.3 L536.2,237.0 L536.1,236.6 L536.1,236.3 L536.1,236.0 L536.1,235.6 L536.1,235.3 L536.0,235.0 L536.0,234.6 L536.0,234.3 L536.0,234.0 L536.0,233.6 L536.0,233.3 L536.0,233.0 L536.0,232.6 L536.1,232.3 L536.1,232.0 L536.1,231.6 L536.1,231.3 L536.2,231.0 L536.2,230.7 L536.2,230.3 L536.3,230.0 L536.3,229.7 L536.4,229.3 L536.4,229.0 L536.5,228.7 L536.5,228.3 L536.6,228.0 L536.7,227.7 L536.7,227.3 L536.8,227.0 L536.9,226.7 L537.0,226.3 L537.1,226.0 L537.2,225.7 L537.3,225.3 L537.4,225.0 L537.5,224.7 L537.6,224.3 L537.7,224.0 L537.9,223.7 L538.0,223.3 L538.2,223.0 L538.3,222.7 L538.5,222.3 L538.7,222.0 L538.9,221.7 L539.0,221.3 L539.2,221.0 L539.4,220.7 L539.6,220.3 L539.8,220.0 L540.0,219.7 L540.3,219.4 L540.5,219.0 L540.7,218.7 L540.9,218.4 L541.2,218.0 L541.4,217.7 L541.6,217.4 L541.8,217.0 L542.1,216.7 L542.3,216.4 L542.5,216.0 L542.8,215.7 L543.0,215.4 L543.2,215.0 L543.4,214.7 L543.6,214.4 L543.8,214.0 L544.0,213.7 L544.2,213.4 L544.3,213.0 L544.5,212.7 L544.6,212.4 L544.8,212.0 L544.9,211.7 L545.1,211.4 L545.2,211.0 L545.3,210.7 L545.4,210.4 L545.5,210.0 L545.6,209.7 L545.7,209.4 L545.9,209.1 L545.9,208.7 L546.0,208.4 L546.1,208.1 L546.2,207.7 L546.3,207.4 L546.4,207.1 L546.5,206.7 L546.5,206.4 L546.6,206.1 L546.7,205.7 L546.7,205.4 L546.8,205.1 L546.8,204.7 L546.9,204.4 L547.0,204.1 L547.0,203.7 L547.0,203.4 L547.1,203.1 L547.1,202.7 L547.2,202.4 L547.2,202.1 L547.2,201.7 L547.3,201.4 L547.3,201.1 L547.3,200.7 L547.3,200.4 L547.4,200.1 L547.4,199.7 L547.4,199.4 L547.4,199.1 L547.5,198.8 L547.5,198.4 L547.5,198.1 L547.5,197.8 L547.5,197.4 L547.6,197.1 L547.6,196.8 L547.6,196.4 L547.6,196.1 L547.6,195.8 L547.6,195.4 L547.6,195.1 L547.7,194.8 L547.7,194.4 L547.7,194.1 L547.7,193.8 L547.7,193.4 L547.7,193.1 L547.7,192.8 L547.7,192.4 L547.7,192.1 L547.7,191.8 L547.7,191.4 L547.7,191.1 L547.7,190.8 L547.7,190.4 L547.8,190.1 L547.8,189.8 L547.8,189.4 L547.8,189.1 L547.8,188.8 L547.8,188.4 L547.8,188.1 L547.8,187.8 L547.8,187.5 L547.8,187.1 L547.8,186.8 L547.8,186.5 L547.9,186.1 L547.9,185.8 L547.9,185.5 L547.9,185.1 L547.9,184.8 L547.9,184.5 L547.9,184.1 L548.0,183.8 L548.0,183.5 L548.0,183.1 L548.0,182.8 Z" fill="#F8766D" stroke="#333333" stroke-width="0.75" stroke-linejoin="round"/>
<line x1="548.00" y1="208.80" x2="548.00" y2="227.40" stroke="#333333" stroke-width="0.75"/>
<line x1="548.00" y1="245.00" x2="548.00" y2="262.60" stroke="#333333" stroke-width="0.75"/>
<rect x="544.25" y="227.40" width="7.50" height="17.60" fill="#F8766D" stroke="#333333" stroke-width="0.75"/>
<line x1="544.25" y1="236.30" x2="551.75" y2="236.30" stroke="#333333" stroke-width="1.3"/>
<circle cx="548.00" cy="198.80" r="1.05" fill="#1a1a1a"/>
<path d="M581.8,206.0 L581.8,206.3 L581.8,206.7 L581.8,207.0 L581.8,207.3 L581.8,207.7 L581.8,208.0 L581.9,208.3 L581.9,208.7 L581.9,209.0 L581.9,209.3 L581.9,209.7 L581.9,210.0 L581.9,210.3 L582.0,210.7 L582.0,211.0 L582.0,211.3 L582.0,211.7 L582.0,212.0 L582.1,212.3 L582.1,212.7 L582.1,213.0 L582.1,213.3 L582.2,213.7 L582.2,214.0 L582.2,214.3 L582.3,214.7 L582.3,215.0 L582.3,215.3 L582.4,215.7 L582.4,216.0 L582.5,216.3 L582.5,216.7 L582.5,217.0 L582.6,217.3 L582.6,217.7 L582.6,218.0 L582.7,218.3 L582.7,218.7 L582.8,219.0 L582.8,219.3 L582.9,219.7 L582.9,220.0 L583.0,220.3 L583.0,220.7 L583.1,221.0 L583.2,221.3 L583.2,221.7 L583.3,222.0 L583.3,222.3 L583.4,222.7 L583.5,223.0 L583.6,223.3 L583.6,223.7 L583.7,224.0 L583.8,224.3 L583.9,224.7 L584.0,225.0 L584.1,225.3 L584.2,225.6 L584.4,226.0 L584.5,226.3 L584.6,226.6 L584.8,227.0 L584.9,227.3 L585.1,227.6 L585.2,228.0 L585.4,228.3 L585.5,228.6 L585.7,229.0 L585.8,229.3 L586.0,229.6 L586.2,230.0 L586.3,230.3 L586.5,230.6 L586.7,231.0 L586.8,231.3 L587.0,231.6 L587.2,232.0 L587.3,232.3 L587.5,232.6 L587.6,233.0 L587.8,233.3 L587.9,233.6 L588.0,234.0 L588.2,234.3 L588.3,234.6 L588.5,235.0 L588.8,235.3 L589.1,235.6 L589.4,236.0 L589.8,236.3 L590.3,236.6 L590.7,237.0 L591.2,237.3 L591.6,237.6 L592.0,238.0 L592.4,238.3 L592.8,238.6 L593.1,239.0 L593.4,239.3 L593.7,239.6 L594.0,240.0 L594.2,240.3 L594.5,240.6 L594.7,241.0 L595.0,241.3 L595.2,241.6 L595.4,242.0 L595.6,242.3 L595.8,242.6 L596.0,243.0 L596.3,243.3 L596.5,243.6 L596.7,244.0 L596.9,244.3 L597.1,244.6 L597.3,245.0 L597.4,245.3 L597.6,245.6 L597.6,246.0 L597.6,246.3 L597.6,246.6 L597.6,247.0 L597.6,247.3 L597.5,247.6 L597.5,248.0 L597.4,248.3 L597.4,248.6 L597.3,249.0 L597.2,249.3 L597.1,249.6 L596.9,250.0 L596.8,250.3 L596.6,250.6 L596.4,251.0 L596.1,251.3 L595.9,251.6 L595.7,252.0 L595.5,252.3 L595.3,252.6 L595.2,253.0 L595.0,253.3 L594.8,253.6 L594.6,254.0 L594.4,254.3 L594.2,254.6 L594.0,255.0 L593.8,255.3 L593.7,255.6 L593.5,256.0 L593.3,256.3 L593.1,256.6 L592.8,257.0 L592.6,257.3 L592.4,257.6 L592.2,258.0 L592.0,258.3 L591.7,258.6 L591.5,259.0 L591.3,259.3 L591.1,259.6 L590.8,260.0 L590.6,260.3 L590.4,260.6 L590.2,261.0 L590.0,261.3 L589.7,261.6 L589.5,262.0 L589.3,262.3 L589.0,262.6 L588.8,262.9 L588.6,263.3 L588.4,263.6 L588.2,263.9 L587.9,264.3 L587.7,264.6 L587.5,264.9 L587.3,265.3 L587.0,265.6 L586.8,265.9 L586.6,266.3 L586.4,266.6 L586.2,266.9 L585.9,267.3 L585.7,267.6 L585.5,267.9 L585.3,268.3 L585.1,268.6 L584.9,268.9 L584.7,269.3 L584.5,269.6 L584.3,269.9 L584.1,270.3 L583.9,270.6 L583.8,270.9 L583.6,271.3 L583.5,271.6 L583.3,271.9 L583.2,272.3 L583.0,272.6 L582.9,272.9 L582.8,273.3 L582.7,273.6 L582.6,273.9 L582.5,274.3 L582.4,274.6 L582.4,274.9 L582.3,275.3 L582.3,275.6 L582.3,275.9 L582.2,276.3 L582.2,276.6 L582.2,276.9 L582.1,277.3 L582.1,277.6 L582.1,277.9 L582.1,278.3 L582.0,278.6 L582.0,278.9 L582.0,279.3 L581.9,279.6 L581.9,279.9 L581.9,280.3 L581.9,280.6 L581.8,280.9 L581.8,281.3 L581.8,281.6 L581.8,281.6 L581.8,281.3 L581.8,280.9 L581.7,280.6 L581.7,280.3 L581.7,279.9 L581.7,279.6 L581.6,279.3 L581.6,278.9 L581.6,278.6 L581.5,278.3 L581.5,277.9 L581.5,277.6 L581.5,277.3 L581.4,276.9 L581.4,276.6 L581.4,276.3 L581.3,275.9 L581.3,275.6 L581.3,275.3 L581.2,274.9 L581.2,274.6 L581.1,274.3 L581.0,273.9 L580.9,273.6 L580.8,273.3 L580.7,272.9 L580.6,272.6 L580.4,272.3 L580.3,271.9 L580.1,271.6 L580.0,271.3 L579.8,270.9 L579.7,270.6 L579.5,270.3 L579.3,269.9 L579.1,269.6 L578.9,269.3 L578.7,268.9 L578.5,268.6 L578.3,268.3 L578.1,267.9 L577.9,267.6 L577.7,267.3 L577.4,266.9 L577.2,266.6 L577.0,266.3 L576.8,265.9 L576.6,265.6 L576.3,265.3 L576.1,264.9 L575.9,264.6 L575.7,264.3 L575.4,263.9 L575.2,263.6 L575.0,263.3 L574.8,262.9 L574.6,262.6 L574.3,262.3 L574.1,262.0 L573.9,261.6 L573.6,261.3 L573.4,261.0 L573.2,260.6 L573.0,260.3 L572.8,260.0 L572.5,259.6 L572.3,259.3 L572.1,259.0 L571.9,258.6 L571.6,258.3 L571.4,258.0 L571.2,257.6 L571.0,257.3 L570.8,257.0 L570.5,256.6 L570.3,256.3 L570.1,256.0 L569.9,255.6 L569.8,255.3 L569.6,255.0 L569.4,254.6 L569.2,254.3 L569.0,254.0 L568.8,253.6 L568.6,253.3 L568.4,253.0 L568.3,252.6 L568.1,252.3 L567.9,252.0 L567.7,251.6 L567.5,251.3 L567.2,251.0 L567.0,250.6 L566.8,250.3 L566.7,250.0 L566.5,249.6 L566.4,249.3 L566.3,249.0 L566.2,248.6 L566.2,248.3 L566.1,248.0 L566.1,247.6 L566.0,247.3 L566.0,247.0 L566.0,246.6 L566.0,246.3 L566.0,246.0 L566.0,245.6 L566.2,245.3 L566.3,245.0 L566.5,244.6 L566.7,244.3 L566.9,244.0 L567.1,243.6 L567.3,243.3 L567.6,243.0 L567.8,242.6 L568.0,242.3 L568.2,242.0 L568.4,241.6 L568.6,241.3 L568.9,241.0 L569.1,240.6 L569.4,240.3 L569.6,240.0 L569.9,239.6 L570.2,239.3 L570.5,239.0 L570.8,238.6 L571.2,238.3 L571.6,238.0 L572.0,237.6 L572.4,237.3 L572.9,237.0 L573.3,236.6 L573.8,236.3 L574.2,236.0 L574.5,235.6 L574.8,235.3 L575.1,235.0 L575.3,234.6 L575.4,234.3 L575.6,234.0 L575.7,233.6 L575.8,233.3 L576.0,233.0 L576.1,232.6 L576.3,232.3 L576.4,232.0 L576.6,231.6 L576.8,231.3 L576.9,231.0 L577.1,230.6 L577.3,230.3 L577.4,230.0 L577.6,229.6 L577.8,229.3 L577.9,229.0 L578.1,228.6 L578.2,228.3 L578.4,228.0 L578.5,227.6 L578.7,227.3 L578.8,227.0 L579.0,226.6 L579.1,226.3 L579.2,226.0 L579.4,225.6 L579.5,225.3 L579.6,225.0 L579.7,224.7 L579.8,224.3 L579.9,224.0 L580.0,223.7 L580.0,223.3 L580.1,223.0 L580.2,222.7 L580.3,222.3 L580.3,222.0 L580.4,221.7 L580.4,221.3 L580.5,221.0 L580.6,220.7 L580.6,220.3 L580.7,220.0 L580.7,219.7 L580.8,219.3 L580.8,219.0 L580.9,218.7 L580.9,218.3 L581.0,218.0 L581.0,217.7 L581.0,217.3 L581.1,217.0 L581.1,216.7 L581.1,216.3 L581.2,216.0 L581.2,215.7 L581.3,215.3 L581.3,215.0 L581.3,214.7 L581.4,214.3 L581.4,214.0 L581.4,213.7 L581.5,213.3 L581.5,213.0 L581.5,212.7 L581.5,212.3 L581.6,212.0 L581.6,211.7 L581.6,211.3 L581.6,211.0 L581.6,210.7 L581.7,210.3 L581.7,210.0 L581.7,209.7 L581.7,209.3 L581.7,209.0 L581.7,208.7 L581.7,208.3 L581.8,208.0 L581.8,207.7 L581.8,207.3 L581.8,207.0 L581.8,206.7 L581.8,206.3 L581.8,206.0 Z" fill="#00BFC4" stroke="#333333" stroke-width="0.75" stroke-linejoin="round"/>
<line x1="581.80" y1="223.80" x2="581.80" y2="242.50" stroke="#333333" stroke-width="0.75"/>
<line x1="581.80" y1="255.30" x2="581.80" y2="270.10" stroke="#333333" stroke-width="0.75"/>
<rect x="578.05" y="242.50" width="7.50" height="12.80" fill="#00BFC4" stroke="#333333" stroke-width="0.75"/>
<line x1="578.05" y1="248.20" x2="585.55" y2="248.20" stroke="#333333" stroke-width="1.3"/>
<circle cx="581.80" cy="217.60" r="1.05" fill="#1a1a1a"/>
<circle cx="581.80" cy="220.70" r="1.05" fill="#1a1a1a"/>
<path d="M623.3,184.7 L623.3,185.0 L623.3,185.4 L623.3,185.7 L623.4,186.0 L623.4,186.4 L623.4,186.7 L623.4,187.0 L623.4,187.4 L623.4,187.7 L623.4,188.0 L623.4,188.4 L623.5,188.7 L623.5,189.0 L623.5,189.4 L623.5,189.7 L623.5,190.0 L623.5,190.4 L623.5,190.7 L623.5,191.0 L623.5,191.4 L623.5,191.7 L623.6,192.0 L623.6,192.4 L623.6,192.7 L623.6,193.0 L623.6,193.4 L623.6,193.7 L623.6,194.0 L623.6,194.4 L623.6,194.7 L623.7,195.0 L623.7,195.4 L623.7,195.7 L623.7,196.0 L623.7,196.4 L623.8,196.7 L623.8,197.0 L623.8,197.4 L623.9,197.7 L623.9,198.0 L623.9,198.4 L623.9,198.7 L624.0,199.0 L624.0,199.4 L624.0,199.7 L624.0,200.0 L624.1,200.4 L624.1,200.7 L624.1,201.0 L624.1,201.3 L624.2,201.7 L624.2,202.0 L624.2,202.3 L624.3,202.7 L624.3,203.0 L624.4,203.3 L624.4,203.7 L624.5,204.0 L624.5,204.3 L624.6,204.7 L624.6,205.0 L624.7,205.3 L624.7,205.7 L624.8,206.0 L624.9,206.3 L624.9,206.7 L625.0,207.0 L625.0,207.3 L625.1,207.7 L625.1,208.0 L625.2,208.3 L625.3,208.7 L625.3,209.0 L625.4,209.3 L625.5,209.7 L625.6,210.0 L625.6,210.3 L625.7,210.7 L625.8,211.0 L625.9,211.3 L626.0,211.7 L626.1,212.0 L626.2,212.3 L626.3,212.7 L626.5,213.0 L626.6,213.3 L626.7,213.7 L626.8,214.0 L627.0,214.3 L627.1,214.7 L627.3,215.0 L627.4,215.3 L627.6,215.7 L627.8,216.0 L628.0,216.3 L628.1,216.7 L628.3,217.0 L628.5,217.3 L628.7,217.7 L628.9,218.0 L629.1,218.3 L629.3,218.7 L629.5,219.0 L629.7,219.3 L629.9,219.7 L630.1,220.0 L630.3,220.3 L630.5,220.7 L630.7,221.0 L630.9,221.3 L631.1,221.7 L631.2,222.0 L631.4,222.3 L631.6,222.7 L631.8,223.0 L632.0,223.3 L632.1,223.7 L632.3,224.0 L632.5,224.3 L632.6,224.7 L632.8,225.0 L633.0,225.3 L633.1,225.7 L633.3,226.0 L633.4,226.3 L633.6,226.7 L633.7,227.0 L633.9,227.3 L634.0,227.7 L634.1,228.0 L634.2,228.3 L634.3,228.7 L634.4,229.0 L634.4,229.3 L634.5,229.7 L634.5,230.0 L634.6,230.3 L634.6,230.7 L634.7,231.0 L634.7,231.3 L634.8,231.7 L634.8,232.0 L634.8,232.3 L634.9,232.7 L634.9,233.0 L634.9,233.3 L635.0,233.6 L635.0,234.0 L635.0,234.3 L635.0,234.6 L635.0,235.0 L635.0,235.3 L635.0,235.6 L635.0,236.0 L635.0,236.3 L635.0,236.6 L635.0,237.0 L635.0,237.3 L635.0,237.6 L635.0,238.0 L635.0,238.3 L635.0,238.6 L635.0,239.0 L635.0,239.3 L635.0,239.6 L635.0,240.0 L634.9,240.3 L634.8,240.6 L634.8,241.0 L634.7,241.3 L634.6,241.6 L634.6,242.0 L634.5,242.3 L634.4,242.6 L634.4,243.0 L634.3,243.3 L634.2,243.6 L634.2,244.0 L634.1,244.3 L634.0,244.6 L634.0,245.0 L633.9,245.3 L633.8,245.6 L633.7,246.0 L633.6,246.3 L633.6,246.6 L633.5,247.0 L633.3,247.3 L633.2,247.6 L633.1,248.0 L633.0,248.3 L632.9,248.6 L632.7,249.0 L632.6,249.3 L632.5,249.6 L632.4,250.0 L632.2,250.3 L632.1,250.6 L632.0,251.0 L631.9,251.3 L631.7,251.6 L631.6,252.0 L631.5,252.3 L631.3,252.6 L631.2,253.0 L631.1,253.3 L630.9,253.6 L630.8,254.0 L630.6,254.3 L630.5,254.6 L630.3,255.0 L630.1,255.3 L630.0,255.6 L629.8,256.0 L629.6,256.3 L629.4,256.6 L629.3,257.0 L629.1,257.3 L628.9,257.6 L628.8,258.0 L628.6,258.3 L628.4,258.6 L628.3,259.0 L628.1,259.3 L627.9,259.6 L627.8,260.0 L627.6,260.3 L627.5,260.6 L627.3,261.0 L627.2,261.3 L627.0,261.6 L626.9,262.0 L626.7,262.3 L626.6,262.6 L626.4,263.0 L626.3,263.3 L626.1,263.6 L626.0,264.0 L625.9,264.3 L625.7,264.6 L625.6,265.0 L625.5,265.3 L625.4,265.6 L625.2,265.9 L625.1,266.3 L625.0,266.6 L624.8,266.9 L624.7,267.3 L624.6,267.6 L624.5,267.9 L624.4,268.3 L624.3,268.6 L624.2,268.9 L624.2,269.3 L624.1,269.6 L624.1,269.9 L624.0,270.3 L624.0,270.6 L623.9,270.9 L623.9,271.3 L623.8,271.6 L623.8,271.9 L623.7,272.3 L623.7,272.6 L623.7,272.9 L623.6,273.3 L623.6,273.6 L623.6,273.9 L623.5,274.3 L623.5,274.6 L623.5,274.9 L623.5,275.3 L623.5,275.6 L623.5,275.9 L623.4,276.3 L623.4,276.6 L623.4,276.9 L623.4,277.3 L623.4,277.6 L623.4,277.9 L623.4,278.3 L623.3,278.6 L623.3,278.9 L623.3,279.3 L623.3,279.6 L623.3,279.9 L623.3,280.3 L623.3,280.6 L623.3,280.9 L623.3,281.3 L623.3,281.6 L623.3,281.6 L623.3,281.3 L623.3,280.9 L623.3,280.6 L623.3,280.3 L623.3,279.9 L623.3,279.6 L623.3,279.3 L623.3,278.9 L623.3,278.6 L623.2,278.3 L623.2,277.9 L623.2,277.6 L623.2,277.3 L623.2,276.9 L623.2,276.6 L623.2,276.3 L623.1,275.9 L623.1,275.6 L623.1,275.3 L623.1,274.9 L623.1,274.6 L623.1,274.3 L623.0,273.9 L623.0,273.6 L623.0,273.3 L622.9,272.9 L622.9,272.6 L622.9,272.3 L622.8,271.9 L622.8,271.6 L622.7,271.3 L622.7,270.9 L622.6,270.6 L622.6,270.3 L622.5,269.9 L622.5,269.6 L622.4,269.3 L622.4,268.9 L622.3,268.6 L622.2,268.3 L622.1,267.9 L622.0,267.6 L621.9,267.3 L621.8,266.9 L621.6,266.6 L621.5,266.3 L621.4,265.9 L621.2,265.6 L621.1,265.3 L621.0,265.0 L620.9,264.6 L620.7,264.3 L620.6,264.0 L620.5,263.6 L620.3,263.3 L620.2,263.0 L620.0,262.6 L619.9,262.3 L619.7,262.0 L619.6,261.6 L619.4,261.3 L619.3,261.0 L619.1,260.6 L619.0,260.3 L618.8,260.0 L618.7,259.6 L618.5,259.3 L618.3,259.0 L618.2,258.6 L618.0,258.3 L617.8,258.0 L617.7,257.6 L617.5,257.3 L617.3,257.0 L617.2,256.6 L617.0,256.3 L616.8,256.0 L616.6,255.6 L616.5,255.3 L616.3,255.0 L616.1,254.6 L616.0,254.3 L615.8,254.0 L615.7,253.6 L615.5,253.3 L615.4,253.0 L615.3,252.6 L615.1,252.3 L615.0,252.0 L614.9,251.6 L614.7,251.3 L614.6,251.0 L614.5,250.6 L614.4,250.3 L614.2,250.0 L614.1,249.6 L614.0,249.3 L613.9,249.0 L613.7,248.6 L613.6,248.3 L613.5,248.0 L613.4,247.6 L613.3,247.3 L613.1,247.0 L613.0,246.6 L613.0,246.3 L612.9,246.0 L612.8,245.6 L612.7,245.3 L612.6,245.0 L612.6,244.6 L612.5,244.3 L612.4,244.0 L612.4,243.6 L612.3,243.3 L612.2,243.0 L612.2,242.6 L612.1,242.3 L612.0,242.0 L612.0,241.6 L611.9,241.3 L611.8,241.0 L611.8,240.6 L611.7,240.3 L611.6,240.0 L611.6,239.6 L611.6,239.3 L611.6,239.0 L611.5,238.6 L611.5,238.3 L611.5,238.0 L611.5,237.6 L611.5,237.3 L611.5,237.0 L611.5,236.6 L611.5,236.3 L611.5,236.0 L611.5,235.6 L611.5,235.3 L611.6,235.0 L611.6,234.6 L611.6,234.3 L611.6,234.0 L611.6,233.6 L611.7,233.3 L611.7,233.0 L611.7,232.7 L611.8,232.3 L611.8,232.0 L611.8,231.7 L611.9,231.3 L611.9,231.0 L612.0,230.7 L612.0,230.3 L612.1,230.0 L612.1,229.7 L612.2,229.3 L612.2,229.0 L612.3,228.7 L612.4,228.3 L612.5,228.0 L612.6,227.7 L612.7,227.3 L612.9,227.0 L613.0,226.7 L613.2,226.3 L613.3,226.0 L613.5,225.7 L613.6,225.3 L613.8,225.0 L614.0,224.7 L614.1,224.3 L614.3,224.0 L614.5,223.7 L614.6,223.3 L614.8,223.0 L615.0,222.7 L615.2,222.3 L615.4,222.0 L615.5,221.7 L615.7,221.3 L615.9,221.0 L616.1,220.7 L616.3,220.3 L616.5,220.0 L616.7,219.7 L616.9,219.3 L617.1,219.0 L617.3,218.7 L617.5,218.3 L617.7,218.0 L617.9,217.7 L618.1,217.3 L618.3,217.0 L618.5,216.7 L618.6,216.3 L618.8,216.0 L619.0,215.7 L619.2,215.3 L619.3,215.0 L619.5,214.7 L619.6,214.3 L619.8,214.0 L619.9,213.7 L620.0,213.3 L620.1,213.0 L620.3,212.7 L620.4,212.3 L620.5,212.0 L620.6,211.7 L620.7,211.3 L620.8,211.0 L620.9,210.7 L621.0,210.3 L621.0,210.0 L621.1,209.7 L621.2,209.3 L621.3,209.0 L621.3,208.7 L621.4,208.3 L621.5,208.0 L621.5,207.7 L621.6,207.3 L621.6,207.0 L621.7,206.7 L621.7,206.3 L621.8,206.0 L621.9,205.7 L621.9,205.3 L622.0,205.0 L622.0,204.7 L622.1,204.3 L622.1,204.0 L622.2,203.7 L622.2,203.3 L622.3,203.0 L622.3,202.7 L622.4,202.3 L622.4,202.0 L622.4,201.7 L622.5,201.3 L622.5,201.0 L622.5,200.7 L622.5,200.4 L622.6,200.0 L622.6,199.7 L622.6,199.4 L622.6,199.0 L622.7,198.7 L622.7,198.4 L622.7,198.0 L622.7,197.7 L622.8,197.4 L622.8,197.0 L622.8,196.7 L622.9,196.4 L622.9,196.0 L622.9,195.7 L622.9,195.4 L622.9,195.0 L623.0,194.7 L623.0,194.4 L623.0,194.0 L623.0,193.7 L623.0,193.4 L623.0,193.0 L623.0,192.7 L623.0,192.4 L623.0,192.0 L623.1,191.7 L623.1,191.4 L623.1,191.0 L623.1,190.7 L623.1,190.4 L623.1,190.0 L623.1,189.7 L623.1,189.4 L623.1,189.0 L623.1,188.7 L623.2,188.4 L623.2,188.0 L623.2,187.7 L623.2,187.4 L623.2,187.0 L623.2,186.7 L623.2,186.4 L623.2,186.0 L623.3,185.7 L623.3,185.4 L623.3,185.0 L623.3,184.7 Z" fill="#F8766D" stroke="#333333" stroke-width="0.75" stroke-linejoin="round"/>
<line x1="623.30" y1="202.50" x2="623.30" y2="230.10" stroke="#333333" stroke-width="0.75"/>
<line x1="623.30" y1="248.20" x2="623.30" y2="264.50" stroke="#333333" stroke-width="0.75"/>
<rect x="619.55" y="230.10" width="7.50" height="18.10" fill="#F8766D" stroke="#333333" stroke-width="0.75"/>
<line x1="619.55" y1="239.00" x2="627.05" y2="239.00" stroke="#333333" stroke-width="1.3"/>
<path d="M657.2,209.1 L657.2,209.4 L657.2,209.8 L657.2,210.1 L657.2,210.4 L657.2,210.8 L657.2,211.1 L657.3,211.4 L657.3,211.8 L657.3,212.1 L657.3,212.4 L657.3,212.8 L657.4,213.1 L657.4,213.4 L657.4,213.8 L657.4,214.1 L657.5,214.4 L657.5,214.8 L657.6,215.1 L657.6,215.4 L657.7,215.8 L657.7,216.1 L657.8,216.4 L657.8,216.8 L657.9,217.1 L657.9,217.4 L658.0,217.8 L658.0,218.1 L658.0,218.4 L658.1,218.8 L658.1,219.1 L658.1,219.4 L658.1,219.8 L658.2,220.1 L658.2,220.4 L658.2,220.8 L658.3,221.1 L658.3,221.4 L658.3,221.8 L658.4,222.1 L658.4,222.4 L658.4,222.8 L658.5,223.1 L658.5,223.4 L658.5,223.8 L658.6,224.1 L658.6,224.4 L658.7,224.8 L658.7,225.1 L658.8,225.4 L658.9,225.8 L659.0,226.1 L659.1,226.4 L659.2,226.8 L659.3,227.1 L659.5,227.4 L659.6,227.8 L659.7,228.1 L659.9,228.4 L660.0,228.8 L660.1,229.1 L660.2,229.4 L660.4,229.8 L660.5,230.1 L660.6,230.4 L660.7,230.8 L660.9,231.1 L661.0,231.4 L661.1,231.8 L661.3,232.1 L661.5,232.4 L661.6,232.8 L661.8,233.1 L662.1,233.4 L662.3,233.8 L662.5,234.1 L662.8,234.4 L663.1,234.8 L663.3,235.1 L663.6,235.4 L663.9,235.8 L664.1,236.1 L664.4,236.4 L664.7,236.8 L665.0,237.1 L665.3,237.4 L665.6,237.8 L665.9,238.1 L666.2,238.4 L666.5,238.8 L666.8,239.1 L667.1,239.4 L667.4,239.8 L667.7,240.1 L668.0,240.4 L668.3,240.8 L668.6,241.1 L668.9,241.4 L669.2,241.8 L669.4,242.1 L669.7,242.4 L669.9,242.8 L670.2,243.1 L670.4,243.4 L670.6,243.8 L670.9,244.1 L671.1,244.4 L671.3,244.8 L671.5,245.1 L671.7,245.4 L671.9,245.8 L672.0,246.1 L672.2,246.4 L672.4,246.8 L672.5,247.1 L672.7,247.4 L672.8,247.8 L673.0,248.1 L673.1,248.4 L673.2,248.7 L673.3,249.1 L673.4,249.4 L673.4,249.7 L673.5,250.1 L673.5,250.4 L673.5,250.7 L673.5,251.1 L673.5,251.4 L673.5,251.7 L673.5,252.1 L673.5,252.4 L673.5,252.7 L673.5,253.1 L673.4,253.4 L673.2,253.7 L673.1,254.1 L672.9,254.4 L672.6,254.7 L672.4,255.1 L672.2,255.4 L671.9,255.7 L671.7,256.1 L671.5,256.4 L671.3,256.7 L671.0,257.1 L670.8,257.4 L670.5,257.7 L670.3,258.1 L670.0,258.4 L669.7,258.7 L669.5,259.1 L669.2,259.4 L668.9,259.7 L668.7,260.1 L668.4,260.4 L668.2,260.7 L667.9,261.1 L667.6,261.4 L667.4,261.7 L667.1,262.1 L666.9,262.4 L666.6,262.7 L666.4,263.1 L666.1,263.4 L665.9,263.7 L665.7,264.1 L665.4,264.4 L665.2,264.7 L665.0,265.1 L664.8,265.4 L664.5,265.7 L664.3,266.1 L664.1,266.4 L663.9,266.7 L663.7,267.1 L663.5,267.4 L663.3,267.7 L663.1,268.1 L662.8,268.4 L662.6,268.7 L662.4,269.1 L662.2,269.4 L662.0,269.7 L661.8,270.1 L661.6,270.4 L661.4,270.7 L661.2,271.1 L661.0,271.4 L660.9,271.7 L660.7,272.1 L660.5,272.4 L660.3,272.7 L660.1,273.1 L660.0,273.4 L659.8,273.7 L659.6,274.1 L659.5,274.4 L659.3,274.7 L659.2,275.1 L659.1,275.4 L658.9,275.7 L658.8,276.1 L658.6,276.4 L658.5,276.7 L658.4,277.1 L658.3,277.4 L658.2,277.7 L658.1,278.1 L658.0,278.4 L657.9,278.7 L657.8,279.1 L657.8,279.4 L657.7,279.7 L657.7,280.1 L657.6,280.4 L657.6,280.7 L657.6,281.1 L657.5,281.4 L657.5,281.7 L657.5,282.1 L657.4,282.4 L657.4,282.7 L657.4,283.1 L657.4,283.4 L657.4,283.7 L657.3,284.1 L657.3,284.4 L657.3,284.7 L657.3,285.1 L657.3,285.4 L657.2,285.7 L657.2,286.1 L657.2,286.4 L657.2,286.7 L657.2,287.1 L657.2,287.4 L657.2,287.4 L657.2,287.1 L657.2,286.7 L657.2,286.4 L657.2,286.1 L657.2,285.7 L657.1,285.4 L657.1,285.1 L657.1,284.7 L657.1,284.4 L657.1,284.1 L657.0,283.7 L657.0,283.4 L657.0,283.1 L657.0,282.7 L657.0,282.4 L656.9,282.1 L656.9,281.7 L656.9,281.4 L656.8,281.1 L656.8,280.7 L656.8,280.4 L656.7,280.1 L656.7,279.7 L656.6,279.4 L656.6,279.1 L656.5,278.7 L656.4,278.4 L656.3,278.1 L656.2,277.7 L656.1,277.4 L656.0,277.1 L655.9,276.7 L655.8,276.4 L655.6,276.1 L655.5,275.7 L655.3,275.4 L655.2,275.1 L655.1,274.7 L654.9,274.4 L654.8,274.1 L654.6,273.7 L654.4,273.4 L654.3,273.1 L654.1,272.7 L653.9,272.4 L653.7,272.1 L653.5,271.7 L653.4,271.4 L653.2,271.1 L653.0,270.7 L652.8,270.4 L652.6,270.1 L652.4,269.7 L652.2,269.4 L652.0,269.1 L651.8,268.7 L651.6,268.4 L651.3,268.1 L651.1,267.7 L650.9,267.4 L650.7,267.1 L650.5,266.7 L650.3,266.4 L650.1,266.1 L649.9,265.7 L649.6,265.4 L649.4,265.1 L649.2,264.7 L649.0,264.4 L648.7,264.1 L648.5,263.7 L648.3,263.4 L648.0,263.1 L647.8,262.7 L647.5,262.4 L647.3,262.1 L647.0,261.7 L646.8,261.4 L646.5,261.1 L646.2,260.7 L646.0,260.4 L645.7,260.1 L645.5,259.7 L645.2,259.4 L644.9,259.1 L644.7,258.7 L644.4,258.4 L644.1,258.1 L643.9,257.7 L643.6,257.4 L643.4,257.1 L643.1,256.7 L642.9,256.4 L642.7,256.1 L642.5,255.7 L642.2,255.4 L642.0,255.1 L641.8,254.7 L641.5,254.4 L641.3,254.1 L641.2,253.7 L641.0,253.4 L640.9,253.1 L640.9,252.7 L640.9,252.4 L640.9,252.1 L640.9,251.7 L640.9,251.4 L640.9,251.1 L640.9,250.7 L640.9,250.4 L640.9,250.1 L641.0,249.7 L641.0,249.4 L641.1,249.1 L641.2,248.7 L641.3,248.4 L641.4,248.1 L641.6,247.8 L641.7,247.4 L641.9,247.1 L642.0,246.8 L642.2,246.4 L642.4,246.1 L642.5,245.8 L642.7,245.4 L642.9,245.1 L643.1,244.8 L643.3,244.4 L643.5,244.1 L643.8,243.8 L644.0,243.4 L644.2,243.1 L644.5,242.8 L644.7,242.4 L645.0,242.1 L645.2,241.8 L645.5,241.4 L645.8,241.1 L646.1,240.8 L646.4,240.4 L646.7,240.1 L647.0,239.8 L647.3,239.4 L647.6,239.1 L647.9,238.8 L648.2,238.4 L648.5,238.1 L648.8,237.8 L649.1,237.4 L649.4,237.1 L649.7,236.8 L650.0,236.4 L650.3,236.1 L650.5,235.8 L650.8,235.4 L651.1,235.1 L651.3,234.8 L651.6,234.4 L651.9,234.1 L652.1,233.8 L652.3,233.4 L652.6,233.1 L652.8,232.8 L652.9,232.4 L653.1,232.1 L653.3,231.8 L653.4,231.4 L653.5,231.1 L653.7,230.8 L653.8,230.4 L653.9,230.1 L654.0,229.8 L654.2,229.4 L654.3,229.1 L654.4,228.8 L654.5,228.4 L654.7,228.1 L654.8,227.8 L654.9,227.4 L655.1,227.1 L655.2,226.8 L655.3,226.4 L655.4,226.1 L655.5,225.8 L655.6,225.4 L655.7,225.1 L655.7,224.8 L655.8,224.4 L655.8,224.1 L655.9,223.8 L655.9,223.4 L655.9,223.1 L656.0,222.8 L656.0,222.4 L656.0,222.1 L656.1,221.8 L656.1,221.4 L656.1,221.1 L656.2,220.8 L656.2,220.4 L656.2,220.1 L656.3,219.8 L656.3,219.4 L656.3,219.1 L656.3,218.8 L656.4,218.4 L656.4,218.1 L656.4,217.8 L656.5,217.4 L656.5,217.1 L656.6,216.8 L656.6,216.4 L656.7,216.1 L656.7,215.8 L656.8,215.4 L656.8,215.1 L656.9,214.8 L656.9,214.4 L657.0,214.1 L657.0,213.8 L657.0,213.4 L657.0,213.1 L657.1,212.8 L657.1,212.4 L657.1,212.1 L657.1,211.8 L657.1,211.4 L657.2,211.1 L657.2,210.8 L657.2,210.4 L657.2,210.1 L657.2,209.8 L657.2,209.4 L657.2,209.1 Z" fill="#00BFC4" stroke="#333333" stroke-width="0.75" stroke-linejoin="round"/>
<line x1="657.20" y1="225.00" x2="657.20" y2="244.00" stroke="#333333" stroke-width="0.75"/>
<line x1="657.20" y1="257.60" x2="657.20" y2="274.00" stroke="#333333" stroke-width="0.75"/>
<rect x="653.45" y="244.00" width="7.50" height="13.60" fill="#00BFC4" stroke="#333333" stroke-width="0.75"/>
<line x1="653.45" y1="252.30" x2="660.95" y2="252.30" stroke="#333333" stroke-width="1.3"/>
<circle cx="657.20" cy="222.20" r="1.05" fill="#1a1a1a"/>
<text x="274.60" y="8.00" font-size="7.05" text-anchor="start" fill="#000" stroke="#000" stroke-width="0.07" font-weight="normal" >SNP density</text>
<rect x="317.20" y="0.45" width="10.6" height="9.95" fill="#F8766D" stroke="#333333" stroke-width="0.8"/>
<line x1="322.50" y1="0.45" x2="322.50" y2="10.4" stroke="#333333" stroke-width="0.8"/>
<rect x="318.70" y="2.3" width="7.6" height="5.9" fill="#F8766D" stroke="#333333" stroke-width="0.8"/>
<line x1="318.70" y1="5.4" x2="326.30" y2="5.4" stroke="#333333" stroke-width="0.8"/>
<text x="331.40" y="7.50" font-size="5.60" text-anchor="start" fill="#000" stroke="#000" stroke-width="0.10" font-weight="normal" >all SNPs</text>
<rect x="357.20" y="0.45" width="10.6" height="9.95" fill="#00BFC4" stroke="#333333" stroke-width="0.8"/>
<line x1="362.50" y1="0.45" x2="362.50" y2="10.4" stroke="#333333" stroke-width="0.8"/>
<rect x="358.70" y="2.3" width="7.6" height="5.9" fill="#00BFC4" stroke="#333333" stroke-width="0.8"/>
<line x1="358.70" y1="5.4" x2="366.30" y2="5.4" stroke="#333333" stroke-width="0.8"/>
<text x="371.60" y="7.50" font-size="5.60" text-anchor="start" fill="#000" stroke="#000" stroke-width="0.10" font-weight="normal" >subset of SNPs</text>
</svg></div></div>
</body></html>
